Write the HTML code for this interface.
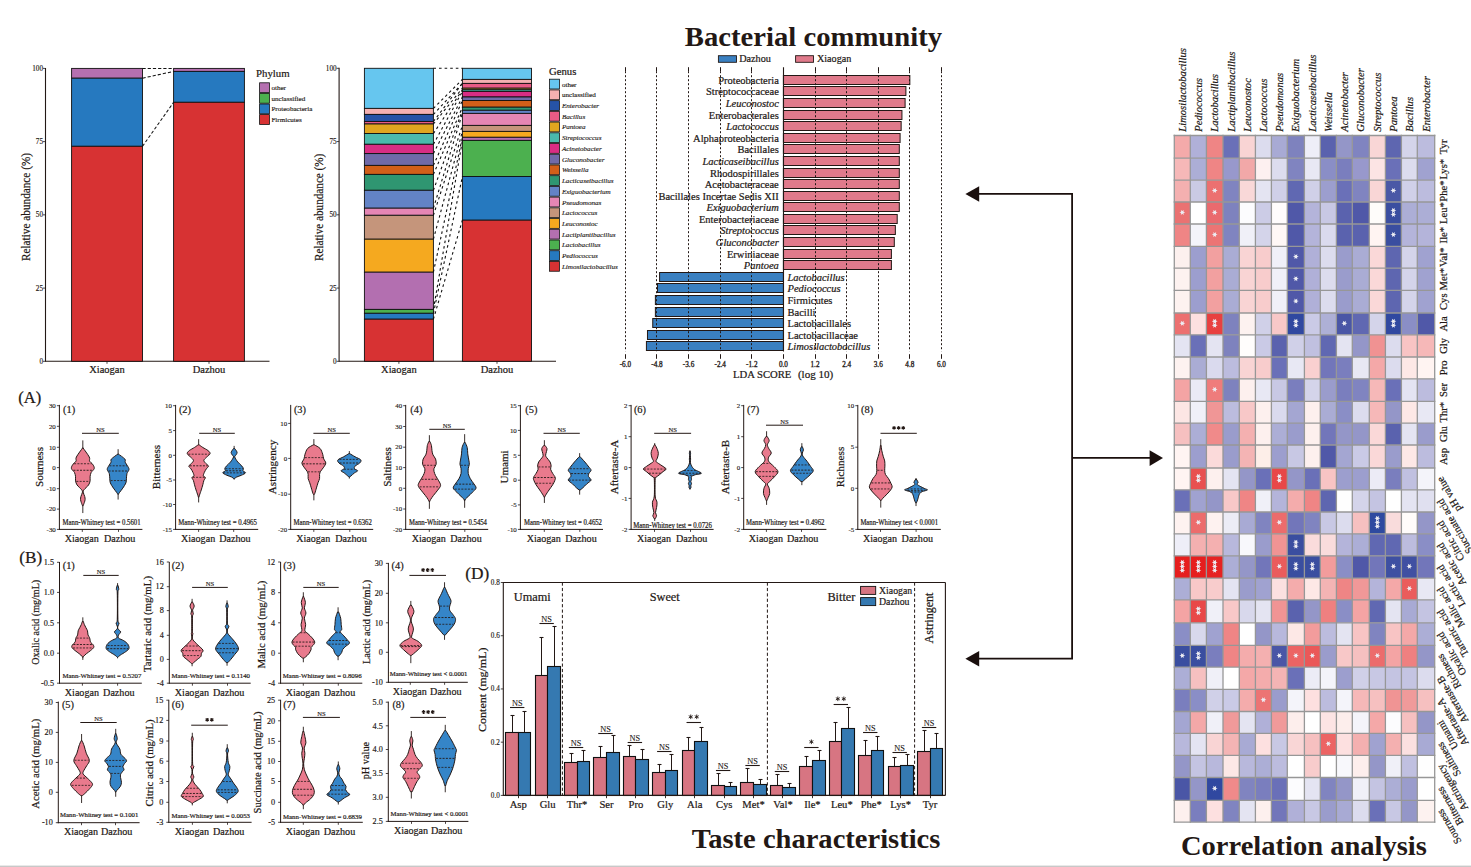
<!DOCTYPE html>
<html><head><meta charset="utf-8"><title>Figure</title>
<style>html,body{margin:0;padding:0;background:#fff;width:1471px;height:867px;overflow:hidden}
svg{display:block} text{font-family:"Liberation Serif",serif}</style></head>
<body><svg width="1471" height="867" viewBox="0 0 1471 867">
<rect x="0" y="0" width="1471" height="867" fill="#ffffff"/>
<rect x="0" y="865.6" width="1471" height="1.4" fill="#c8c8c8"/>
<line x1="45.50" y1="67.90" x2="45.50" y2="361.80" stroke="#231815" stroke-width="1.1"/>
<line x1="45.50" y1="361.30" x2="269.50" y2="361.30" stroke="#231815" stroke-width="1.1"/>
<line x1="43.00" y1="68.40" x2="45.50" y2="68.40" stroke="#231815" stroke-width="0.8"/>
<text x="43.00" y="70.90" font-size="7.2" text-anchor="end" fill="#231815" stroke="#231815" stroke-width="0.14400000000000002">100</text>
<line x1="43.00" y1="141.62" x2="45.50" y2="141.62" stroke="#231815" stroke-width="0.8"/>
<text x="43.00" y="144.12" font-size="7.2" text-anchor="end" fill="#231815" stroke="#231815" stroke-width="0.14400000000000002">75</text>
<line x1="43.00" y1="214.85" x2="45.50" y2="214.85" stroke="#231815" stroke-width="0.8"/>
<text x="43.00" y="217.35" font-size="7.2" text-anchor="end" fill="#231815" stroke="#231815" stroke-width="0.14400000000000002">50</text>
<line x1="43.00" y1="288.08" x2="45.50" y2="288.08" stroke="#231815" stroke-width="0.8"/>
<text x="43.00" y="290.58" font-size="7.2" text-anchor="end" fill="#231815" stroke="#231815" stroke-width="0.14400000000000002">25</text>
<line x1="43.00" y1="361.30" x2="45.50" y2="361.30" stroke="#231815" stroke-width="0.8"/>
<text x="43.00" y="363.80" font-size="7.2" text-anchor="end" fill="#231815" stroke="#231815" stroke-width="0.14400000000000002">0</text>
<text x="30.30" y="207.00" font-size="12.5" text-anchor="middle" transform="rotate(-90 30.30 207.00)" textLength="108.00" lengthAdjust="spacingAndGlyphs" fill="#231815" stroke="#231815" stroke-width="0.22">Relative abundance  (%)</text>
<rect x="71.60" y="68.40" width="70.90" height="9.80" fill="#b570b0" stroke="#111" stroke-width="0.9"/>
<rect x="71.60" y="78.20" width="70.90" height="68.10" fill="#2679bf" stroke="#111" stroke-width="0.9"/>
<rect x="71.60" y="146.30" width="70.90" height="215.00" fill="#d73233" stroke="#111" stroke-width="0.9"/>
<rect x="173.60" y="68.40" width="70.80" height="3.00" fill="#b570b0" stroke="#111" stroke-width="0.9"/>
<rect x="173.60" y="71.40" width="70.80" height="30.90" fill="#2679bf" stroke="#111" stroke-width="0.9"/>
<rect x="173.60" y="102.30" width="70.80" height="259.00" fill="#d73233" stroke="#111" stroke-width="0.9"/>
<line x1="142.50" y1="68.40" x2="173.60" y2="68.40" stroke="#111" stroke-width="1.05" stroke-dasharray="3.2,2"/>
<line x1="142.50" y1="78.20" x2="173.60" y2="71.40" stroke="#111" stroke-width="1.05" stroke-dasharray="3.2,2"/>
<line x1="142.50" y1="146.30" x2="173.60" y2="102.30" stroke="#111" stroke-width="1.05" stroke-dasharray="3.2,2"/>
<line x1="107.00" y1="361.30" x2="107.00" y2="363.80" stroke="#231815" stroke-width="0.8"/>
<text x="107.00" y="372.50" font-size="10.5" text-anchor="middle" fill="#231815" stroke="#231815" stroke-width="0.21">Xiaogan</text>
<line x1="209.00" y1="361.30" x2="209.00" y2="363.80" stroke="#231815" stroke-width="0.8"/>
<text x="209.00" y="372.50" font-size="10.5" text-anchor="middle" fill="#231815" stroke="#231815" stroke-width="0.21">Dazhou</text>
<text x="256.00" y="77.00" font-size="10.8" fill="#231815" stroke="#231815" stroke-width="0.21600000000000003">Phylum</text>
<rect x="259.60" y="82.80" width="9.80" height="9.80" fill="#b570b0" stroke="#111" stroke-width="0.8"/>
<text x="271.40" y="90.10" font-size="7.1" fill="#231815" stroke="#231815" stroke-width="0.142">other</text>
<rect x="259.60" y="93.40" width="9.80" height="9.80" fill="#4cb04f" stroke="#111" stroke-width="0.8"/>
<text x="271.40" y="100.70" font-size="7.1" fill="#231815" stroke="#231815" stroke-width="0.142">unclassified</text>
<rect x="259.60" y="104.00" width="9.80" height="9.80" fill="#2679bf" stroke="#111" stroke-width="0.8"/>
<text x="271.40" y="111.30" font-size="7.1" fill="#231815" stroke="#231815" stroke-width="0.142">Proteobacteria</text>
<rect x="259.60" y="114.60" width="9.80" height="9.80" fill="#d73233" stroke="#111" stroke-width="0.8"/>
<text x="271.40" y="121.90" font-size="7.1" fill="#231815" stroke="#231815" stroke-width="0.142">Firmicutes</text>
<line x1="339.10" y1="67.80" x2="339.10" y2="361.80" stroke="#231815" stroke-width="1.1"/>
<line x1="339.10" y1="361.30" x2="556.00" y2="361.30" stroke="#231815" stroke-width="1.1"/>
<line x1="336.60" y1="68.30" x2="339.10" y2="68.30" stroke="#231815" stroke-width="0.8"/>
<text x="336.60" y="70.80" font-size="7.2" text-anchor="end" fill="#231815" stroke="#231815" stroke-width="0.14400000000000002">100</text>
<line x1="336.60" y1="141.55" x2="339.10" y2="141.55" stroke="#231815" stroke-width="0.8"/>
<text x="336.60" y="144.05" font-size="7.2" text-anchor="end" fill="#231815" stroke="#231815" stroke-width="0.14400000000000002">75</text>
<line x1="336.60" y1="214.80" x2="339.10" y2="214.80" stroke="#231815" stroke-width="0.8"/>
<text x="336.60" y="217.30" font-size="7.2" text-anchor="end" fill="#231815" stroke="#231815" stroke-width="0.14400000000000002">50</text>
<line x1="336.60" y1="288.05" x2="339.10" y2="288.05" stroke="#231815" stroke-width="0.8"/>
<text x="336.60" y="290.55" font-size="7.2" text-anchor="end" fill="#231815" stroke="#231815" stroke-width="0.14400000000000002">25</text>
<line x1="336.60" y1="361.30" x2="339.10" y2="361.30" stroke="#231815" stroke-width="0.8"/>
<text x="336.60" y="363.80" font-size="7.2" text-anchor="end" fill="#231815" stroke="#231815" stroke-width="0.14400000000000002">0</text>
<text x="322.70" y="207.30" font-size="12.5" text-anchor="middle" transform="rotate(-90 322.70 207.30)" textLength="107.30" lengthAdjust="spacingAndGlyphs" fill="#231815" stroke="#231815" stroke-width="0.22">Relative abundance  (%)</text>
<rect x="364.40" y="68.30" width="69.00" height="40.10" fill="#66c6ef" stroke="#111" stroke-width="0.9"/>
<rect x="364.40" y="108.40" width="69.00" height="6.00" fill="#f5b1b1" stroke="#111" stroke-width="0.9"/>
<rect x="364.40" y="114.40" width="69.00" height="7.10" fill="#2653a6" stroke="#111" stroke-width="0.9"/>
<rect x="364.40" y="121.50" width="69.00" height="2.50" fill="#e95b84" stroke="#111" stroke-width="0.9"/>
<rect x="364.40" y="124.00" width="69.00" height="9.50" fill="#e0a61f" stroke="#111" stroke-width="0.9"/>
<rect x="364.40" y="133.50" width="69.00" height="10.80" fill="#4bbaac" stroke="#111" stroke-width="0.9"/>
<rect x="364.40" y="144.30" width="69.00" height="9.30" fill="#d92d84" stroke="#111" stroke-width="0.9"/>
<rect x="364.40" y="153.60" width="69.00" height="11.80" fill="#706aa9" stroke="#111" stroke-width="0.9"/>
<rect x="364.40" y="165.40" width="69.00" height="9.00" fill="#d25f19" stroke="#111" stroke-width="0.9"/>
<rect x="364.40" y="174.40" width="69.00" height="15.90" fill="#2f9671" stroke="#111" stroke-width="0.9"/>
<rect x="364.40" y="190.30" width="69.00" height="17.90" fill="#6383c6" stroke="#111" stroke-width="0.9"/>
<rect x="364.40" y="208.20" width="69.00" height="7.10" fill="#e586b4" stroke="#111" stroke-width="0.9"/>
<rect x="364.40" y="215.30" width="69.00" height="23.90" fill="#c5957b" stroke="#111" stroke-width="0.9"/>
<rect x="364.40" y="239.20" width="69.00" height="33.00" fill="#f5a91f" stroke="#111" stroke-width="0.9"/>
<rect x="364.40" y="272.20" width="69.00" height="37.20" fill="#b36fb0" stroke="#111" stroke-width="0.9"/>
<rect x="364.40" y="309.40" width="69.00" height="3.90" fill="#4cb04f" stroke="#111" stroke-width="0.9"/>
<rect x="364.40" y="313.30" width="69.00" height="5.90" fill="#2679bf" stroke="#111" stroke-width="0.9"/>
<rect x="364.40" y="319.20" width="69.00" height="42.10" fill="#d73233" stroke="#111" stroke-width="0.9"/>
<rect x="462.40" y="68.30" width="69.10" height="11.10" fill="#66c6ef" stroke="#111" stroke-width="0.9"/>
<rect x="462.40" y="79.40" width="69.10" height="4.00" fill="#f5b1b1" stroke="#111" stroke-width="0.9"/>
<rect x="462.40" y="83.40" width="69.10" height="4.80" fill="#e95b84" stroke="#111" stroke-width="0.9"/>
<rect x="462.40" y="88.20" width="69.10" height="1.60" fill="#e0a61f" stroke="#111" stroke-width="0.9"/>
<rect x="462.40" y="89.80" width="69.10" height="1.60" fill="#4bbaac" stroke="#111" stroke-width="0.9"/>
<rect x="462.40" y="91.40" width="69.10" height="5.60" fill="#d92d84" stroke="#111" stroke-width="0.9"/>
<rect x="462.40" y="97.00" width="69.10" height="3.50" fill="#706aa9" stroke="#111" stroke-width="0.9"/>
<rect x="462.40" y="100.50" width="69.10" height="6.70" fill="#d25f19" stroke="#111" stroke-width="0.9"/>
<rect x="462.40" y="107.20" width="69.10" height="3.10" fill="#2f9671" stroke="#111" stroke-width="0.9"/>
<rect x="462.40" y="110.30" width="69.10" height="3.10" fill="#6383c6" stroke="#111" stroke-width="0.9"/>
<rect x="462.40" y="113.40" width="69.10" height="12.00" fill="#e586b4" stroke="#111" stroke-width="0.9"/>
<rect x="462.40" y="125.40" width="69.10" height="6.00" fill="#c5957b" stroke="#111" stroke-width="0.9"/>
<rect x="462.40" y="131.40" width="69.10" height="5.90" fill="#f5a91f" stroke="#111" stroke-width="0.9"/>
<rect x="462.40" y="137.30" width="69.10" height="3.10" fill="#b36fb0" stroke="#111" stroke-width="0.9"/>
<rect x="462.40" y="140.40" width="69.10" height="36.10" fill="#4cb04f" stroke="#111" stroke-width="0.9"/>
<rect x="462.40" y="176.50" width="69.10" height="43.70" fill="#2679bf" stroke="#111" stroke-width="0.9"/>
<rect x="462.40" y="220.20" width="69.10" height="141.10" fill="#d73233" stroke="#111" stroke-width="0.9"/>
<line x1="433.40" y1="68.30" x2="462.40" y2="68.30" stroke="#111" stroke-width="1.1" stroke-dasharray="2.6,3.0"/>
<line x1="433.40" y1="108.40" x2="462.40" y2="79.40" stroke="#111" stroke-width="1.1" stroke-dasharray="2.6,3.0"/>
<line x1="433.40" y1="114.40" x2="462.40" y2="83.40" stroke="#111" stroke-width="1.1" stroke-dasharray="2.6,3.0"/>
<line x1="433.40" y1="121.50" x2="462.40" y2="83.40" stroke="#111" stroke-width="1.1" stroke-dasharray="2.6,3.0"/>
<line x1="433.40" y1="124.00" x2="462.40" y2="88.20" stroke="#111" stroke-width="1.1" stroke-dasharray="2.6,3.0"/>
<line x1="433.40" y1="133.50" x2="462.40" y2="89.80" stroke="#111" stroke-width="1.1" stroke-dasharray="2.6,3.0"/>
<line x1="433.40" y1="144.30" x2="462.40" y2="91.40" stroke="#111" stroke-width="1.1" stroke-dasharray="2.6,3.0"/>
<line x1="433.40" y1="153.60" x2="462.40" y2="97.00" stroke="#111" stroke-width="1.1" stroke-dasharray="2.6,3.0"/>
<line x1="433.40" y1="165.40" x2="462.40" y2="100.50" stroke="#111" stroke-width="1.1" stroke-dasharray="2.6,3.0"/>
<line x1="433.40" y1="174.40" x2="462.40" y2="107.20" stroke="#111" stroke-width="1.1" stroke-dasharray="2.6,3.0"/>
<line x1="433.40" y1="190.30" x2="462.40" y2="110.30" stroke="#111" stroke-width="1.1" stroke-dasharray="2.6,3.0"/>
<line x1="433.40" y1="208.20" x2="462.40" y2="113.40" stroke="#111" stroke-width="1.1" stroke-dasharray="2.6,3.0"/>
<line x1="433.40" y1="215.30" x2="462.40" y2="125.40" stroke="#111" stroke-width="1.1" stroke-dasharray="2.6,3.0"/>
<line x1="433.40" y1="239.20" x2="462.40" y2="131.40" stroke="#111" stroke-width="1.1" stroke-dasharray="2.6,3.0"/>
<line x1="433.40" y1="272.20" x2="462.40" y2="137.30" stroke="#111" stroke-width="1.1" stroke-dasharray="2.6,3.0"/>
<line x1="433.40" y1="309.40" x2="462.40" y2="140.40" stroke="#111" stroke-width="1.1" stroke-dasharray="2.6,3.0"/>
<line x1="433.40" y1="313.30" x2="462.40" y2="176.50" stroke="#111" stroke-width="1.1" stroke-dasharray="2.6,3.0"/>
<line x1="433.40" y1="319.20" x2="462.40" y2="220.20" stroke="#111" stroke-width="1.1" stroke-dasharray="2.6,3.0"/>
<line x1="398.90" y1="361.30" x2="398.90" y2="363.80" stroke="#231815" stroke-width="0.8"/>
<text x="398.90" y="372.50" font-size="10.5" text-anchor="middle" fill="#231815" stroke="#231815" stroke-width="0.21">Xiaogan</text>
<line x1="497.00" y1="361.30" x2="497.00" y2="363.80" stroke="#231815" stroke-width="0.8"/>
<text x="497.00" y="372.50" font-size="10.5" text-anchor="middle" fill="#231815" stroke="#231815" stroke-width="0.21">Dazhou</text>
<text x="549.00" y="74.60" font-size="10.7" fill="#231815" stroke="#231815" stroke-width="0.214">Genus</text>
<rect x="549.60" y="79.20" width="9.80" height="9.80" fill="#66c6ef" stroke="#111" stroke-width="0.8"/>
<text x="561.90" y="86.60" font-size="7.1" fill="#231815" stroke="#231815" stroke-width="0.142">other</text>
<rect x="549.60" y="89.92" width="9.80" height="9.80" fill="#f5b1b1" stroke="#111" stroke-width="0.8"/>
<text x="561.90" y="97.32" font-size="7.1" fill="#231815" stroke="#231815" stroke-width="0.142">unclassified</text>
<rect x="549.60" y="100.64" width="9.80" height="9.80" fill="#2653a6" stroke="#111" stroke-width="0.8"/>
<text x="561.90" y="108.04" font-size="7.1" font-style="italic" fill="#231815" stroke="#231815" stroke-width="0.142">Enterobacter</text>
<rect x="549.60" y="111.36" width="9.80" height="9.80" fill="#e95b84" stroke="#111" stroke-width="0.8"/>
<text x="561.90" y="118.76" font-size="7.1" font-style="italic" fill="#231815" stroke="#231815" stroke-width="0.142">Bacillus</text>
<rect x="549.60" y="122.08" width="9.80" height="9.80" fill="#e0a61f" stroke="#111" stroke-width="0.8"/>
<text x="561.90" y="129.48" font-size="7.1" font-style="italic" fill="#231815" stroke="#231815" stroke-width="0.142">Pantoea</text>
<rect x="549.60" y="132.80" width="9.80" height="9.80" fill="#4bbaac" stroke="#111" stroke-width="0.8"/>
<text x="561.90" y="140.20" font-size="7.1" font-style="italic" fill="#231815" stroke="#231815" stroke-width="0.142">Streptococcus</text>
<rect x="549.60" y="143.52" width="9.80" height="9.80" fill="#d92d84" stroke="#111" stroke-width="0.8"/>
<text x="561.90" y="150.92" font-size="7.1" font-style="italic" fill="#231815" stroke="#231815" stroke-width="0.142">Acinetobacter</text>
<rect x="549.60" y="154.24" width="9.80" height="9.80" fill="#706aa9" stroke="#111" stroke-width="0.8"/>
<text x="561.90" y="161.64" font-size="7.1" font-style="italic" fill="#231815" stroke="#231815" stroke-width="0.142">Gluconobacter</text>
<rect x="549.60" y="164.96" width="9.80" height="9.80" fill="#d25f19" stroke="#111" stroke-width="0.8"/>
<text x="561.90" y="172.36" font-size="7.1" font-style="italic" fill="#231815" stroke="#231815" stroke-width="0.142">Weissella</text>
<rect x="549.60" y="175.68" width="9.80" height="9.80" fill="#2f9671" stroke="#111" stroke-width="0.8"/>
<text x="561.90" y="183.08" font-size="7.1" font-style="italic" fill="#231815" stroke="#231815" stroke-width="0.142">Lacticaseibacillus</text>
<rect x="549.60" y="186.40" width="9.80" height="9.80" fill="#6383c6" stroke="#111" stroke-width="0.8"/>
<text x="561.90" y="193.80" font-size="7.1" font-style="italic" fill="#231815" stroke="#231815" stroke-width="0.142">Exiguobacterium</text>
<rect x="549.60" y="197.12" width="9.80" height="9.80" fill="#e586b4" stroke="#111" stroke-width="0.8"/>
<text x="561.90" y="204.52" font-size="7.1" font-style="italic" fill="#231815" stroke="#231815" stroke-width="0.142">Pseudomonas</text>
<rect x="549.60" y="207.84" width="9.80" height="9.80" fill="#c5957b" stroke="#111" stroke-width="0.8"/>
<text x="561.90" y="215.24" font-size="7.1" font-style="italic" fill="#231815" stroke="#231815" stroke-width="0.142">Lactococcus</text>
<rect x="549.60" y="218.56" width="9.80" height="9.80" fill="#f5a91f" stroke="#111" stroke-width="0.8"/>
<text x="561.90" y="225.96" font-size="7.1" font-style="italic" fill="#231815" stroke="#231815" stroke-width="0.142">Leuconostoc</text>
<rect x="549.60" y="229.28" width="9.80" height="9.80" fill="#b36fb0" stroke="#111" stroke-width="0.8"/>
<text x="561.90" y="236.68" font-size="7.1" font-style="italic" fill="#231815" stroke="#231815" stroke-width="0.142">Lactiplantibacillus</text>
<rect x="549.60" y="240.00" width="9.80" height="9.80" fill="#4cb04f" stroke="#111" stroke-width="0.8"/>
<text x="561.90" y="247.40" font-size="7.1" font-style="italic" fill="#231815" stroke="#231815" stroke-width="0.142">Lactobacillus</text>
<rect x="549.60" y="250.72" width="9.80" height="9.80" fill="#2679bf" stroke="#111" stroke-width="0.8"/>
<text x="561.90" y="258.12" font-size="7.1" font-style="italic" fill="#231815" stroke="#231815" stroke-width="0.142">Pediococcus</text>
<rect x="549.60" y="261.44" width="9.80" height="9.80" fill="#d73233" stroke="#111" stroke-width="0.8"/>
<text x="561.90" y="268.84" font-size="7.1" font-style="italic" fill="#231815" stroke="#231815" stroke-width="0.142">Limosilactobacillus</text>
<text x="625.35" y="366.70" font-size="7.2" text-anchor="middle" fill="#231815" stroke="#231815" stroke-width="0.3">-6.0</text>
<line x1="625.50" y1="354.20" x2="625.50" y2="358.80" stroke="#231815" stroke-width="1.0"/>
<text x="656.96" y="366.70" font-size="7.2" text-anchor="middle" fill="#231815" stroke="#231815" stroke-width="0.3">-4.8</text>
<line x1="656.50" y1="354.20" x2="656.50" y2="358.80" stroke="#231815" stroke-width="1.0"/>
<text x="688.57" y="366.70" font-size="7.2" text-anchor="middle" fill="#231815" stroke="#231815" stroke-width="0.3">-3.6</text>
<line x1="688.50" y1="354.20" x2="688.50" y2="358.80" stroke="#231815" stroke-width="1.0"/>
<text x="720.18" y="366.70" font-size="7.2" text-anchor="middle" fill="#231815" stroke="#231815" stroke-width="0.3">-2.4</text>
<line x1="720.50" y1="354.20" x2="720.50" y2="358.80" stroke="#231815" stroke-width="1.0"/>
<text x="751.79" y="366.70" font-size="7.2" text-anchor="middle" fill="#231815" stroke="#231815" stroke-width="0.3">-1.2</text>
<line x1="751.50" y1="354.20" x2="751.50" y2="358.80" stroke="#231815" stroke-width="1.0"/>
<text x="783.40" y="366.70" font-size="7.2" text-anchor="middle" fill="#231815" stroke="#231815" stroke-width="0.3">0.0</text>
<line x1="783.50" y1="354.20" x2="783.50" y2="358.80" stroke="#231815" stroke-width="1.0"/>
<text x="815.01" y="366.70" font-size="7.2" text-anchor="middle" fill="#231815" stroke="#231815" stroke-width="0.3">1.2</text>
<line x1="815.50" y1="354.20" x2="815.50" y2="358.80" stroke="#231815" stroke-width="1.0"/>
<text x="846.62" y="366.70" font-size="7.2" text-anchor="middle" fill="#231815" stroke="#231815" stroke-width="0.3">2.4</text>
<line x1="846.50" y1="354.20" x2="846.50" y2="358.80" stroke="#231815" stroke-width="1.0"/>
<text x="878.23" y="366.70" font-size="7.2" text-anchor="middle" fill="#231815" stroke="#231815" stroke-width="0.3">3.6</text>
<line x1="878.50" y1="354.20" x2="878.50" y2="358.80" stroke="#231815" stroke-width="1.0"/>
<text x="909.84" y="366.70" font-size="7.2" text-anchor="middle" fill="#231815" stroke="#231815" stroke-width="0.3">4.8</text>
<line x1="909.50" y1="354.20" x2="909.50" y2="358.80" stroke="#231815" stroke-width="1.0"/>
<text x="941.45" y="366.70" font-size="7.2" text-anchor="middle" fill="#231815" stroke="#231815" stroke-width="0.3">6.0</text>
<line x1="941.50" y1="354.20" x2="941.50" y2="358.80" stroke="#231815" stroke-width="1.0"/>
<text x="733.00" y="378.00" font-size="10.9" textLength="58.30" lengthAdjust="spacingAndGlyphs" fill="#231815" stroke="#231815" stroke-width="0.218">LDA SCORE</text>
<text x="797.90" y="378.00" font-size="10.9" textLength="35.40" lengthAdjust="spacingAndGlyphs" fill="#231815" stroke="#231815" stroke-width="0.218">(log 10)</text>
<rect x="718.40" y="55.70" width="18.10" height="6.60" fill="#3a80c1" stroke="#231815" stroke-width="0.9"/>
<text x="739.20" y="62.20" font-size="10.2" fill="#231815" stroke="#231815" stroke-width="0.204">Dazhou</text>
<rect x="795.60" y="55.70" width="17.90" height="6.60" fill="#e07a8b" stroke="#231815" stroke-width="0.9"/>
<text x="816.90" y="62.20" font-size="10.2" fill="#231815" stroke="#231815" stroke-width="0.204">Xiaogan</text>
<rect x="783.40" y="75.50" width="126.44" height="9.00" fill="#e07a8b" stroke="#231815" stroke-width="1.0"/>
<text x="778.80" y="83.90" font-size="10.5" text-anchor="end" fill="#231815" stroke="#231815" stroke-width="0.21">Proteobacteria</text>
<rect x="783.40" y="86.50" width="122.49" height="9.00" fill="#e07a8b" stroke="#231815" stroke-width="1.0"/>
<text x="778.80" y="94.90" font-size="10.5" text-anchor="end" fill="#231815" stroke="#231815" stroke-width="0.21">Streptococcaceae</text>
<rect x="783.40" y="98.50" width="121.70" height="9.00" fill="#e07a8b" stroke="#231815" stroke-width="1.0"/>
<text x="778.80" y="106.90" font-size="10.5" text-anchor="end" font-style="italic" fill="#231815" stroke="#231815" stroke-width="0.21">Leuconostoc</text>
<rect x="783.40" y="110.50" width="118.54" height="9.00" fill="#e07a8b" stroke="#231815" stroke-width="1.0"/>
<text x="778.80" y="118.90" font-size="10.5" text-anchor="end" fill="#231815" stroke="#231815" stroke-width="0.21">Enterobacterales</text>
<rect x="783.40" y="121.50" width="117.75" height="9.00" fill="#e07a8b" stroke="#231815" stroke-width="1.0"/>
<text x="778.80" y="129.90" font-size="10.5" text-anchor="end" font-style="italic" fill="#231815" stroke="#231815" stroke-width="0.21">Lactococcus</text>
<rect x="783.40" y="133.50" width="116.69" height="9.00" fill="#e07a8b" stroke="#231815" stroke-width="1.0"/>
<text x="778.80" y="141.90" font-size="10.5" text-anchor="end" fill="#231815" stroke="#231815" stroke-width="0.21">Alphaproteobacteria</text>
<rect x="783.40" y="144.50" width="115.90" height="9.00" fill="#e07a8b" stroke="#231815" stroke-width="1.0"/>
<text x="778.80" y="152.90" font-size="10.5" text-anchor="end" fill="#231815" stroke="#231815" stroke-width="0.21">Bacillales</text>
<rect x="783.40" y="156.50" width="115.90" height="9.00" fill="#e07a8b" stroke="#231815" stroke-width="1.0"/>
<text x="778.80" y="164.90" font-size="10.5" text-anchor="end" font-style="italic" fill="#231815" stroke="#231815" stroke-width="0.21">Lacticaseibacillus</text>
<rect x="783.40" y="168.50" width="115.90" height="9.00" fill="#e07a8b" stroke="#231815" stroke-width="1.0"/>
<text x="778.80" y="176.90" font-size="10.5" text-anchor="end" fill="#231815" stroke="#231815" stroke-width="0.21">Rhodospirillales</text>
<rect x="783.40" y="179.50" width="115.90" height="9.00" fill="#e07a8b" stroke="#231815" stroke-width="1.0"/>
<text x="778.80" y="187.90" font-size="10.5" text-anchor="end" fill="#231815" stroke="#231815" stroke-width="0.21">Acetobacteraceae</text>
<rect x="783.40" y="191.50" width="115.90" height="9.00" fill="#e07a8b" stroke="#231815" stroke-width="1.0"/>
<text x="778.80" y="199.90" font-size="10.5" text-anchor="end" fill="#231815" stroke="#231815" stroke-width="0.21">Bacillales Incertae Sedis XII</text>
<rect x="783.40" y="202.50" width="115.90" height="9.00" fill="#e07a8b" stroke="#231815" stroke-width="1.0"/>
<text x="778.80" y="210.90" font-size="10.5" text-anchor="end" font-style="italic" fill="#231815" stroke="#231815" stroke-width="0.21">Exiguobacterium</text>
<rect x="783.40" y="214.50" width="113.80" height="9.00" fill="#e07a8b" stroke="#231815" stroke-width="1.0"/>
<text x="778.80" y="222.90" font-size="10.5" text-anchor="end" fill="#231815" stroke="#231815" stroke-width="0.21">Enterobacteriaceae</text>
<rect x="783.40" y="225.50" width="111.95" height="9.00" fill="#e07a8b" stroke="#231815" stroke-width="1.0"/>
<text x="778.80" y="233.90" font-size="10.5" text-anchor="end" font-style="italic" fill="#231815" stroke="#231815" stroke-width="0.21">Streptococcus</text>
<rect x="783.40" y="237.50" width="110.90" height="9.00" fill="#e07a8b" stroke="#231815" stroke-width="1.0"/>
<text x="778.80" y="245.90" font-size="10.5" text-anchor="end" font-style="italic" fill="#231815" stroke="#231815" stroke-width="0.21">Gluconobacter</text>
<rect x="783.40" y="249.50" width="108.00" height="9.00" fill="#e07a8b" stroke="#231815" stroke-width="1.0"/>
<text x="778.80" y="257.90" font-size="10.5" text-anchor="end" fill="#231815" stroke="#231815" stroke-width="0.21">Erwiniaceae</text>
<rect x="783.40" y="260.50" width="108.00" height="9.00" fill="#e07a8b" stroke="#231815" stroke-width="1.0"/>
<text x="778.80" y="268.90" font-size="10.5" text-anchor="end" font-style="italic" fill="#231815" stroke="#231815" stroke-width="0.21">Pantoea</text>
<rect x="659.59" y="272.50" width="123.81" height="9.00" fill="#3a80c1" stroke="#231815" stroke-width="1.0"/>
<text x="787.50" y="280.90" font-size="10.5" font-style="italic" fill="#231815" stroke="#231815" stroke-width="0.21">Lactobacillus</text>
<rect x="657.49" y="283.50" width="125.91" height="9.00" fill="#3a80c1" stroke="#231815" stroke-width="1.0"/>
<text x="787.50" y="291.90" font-size="10.5" font-style="italic" fill="#231815" stroke="#231815" stroke-width="0.21">Pediococcus</text>
<rect x="655.38" y="295.50" width="128.02" height="9.00" fill="#3a80c1" stroke="#231815" stroke-width="1.0"/>
<text x="787.50" y="303.90" font-size="10.5" fill="#231815" stroke="#231815" stroke-width="0.21">Firmicutes</text>
<rect x="655.38" y="307.50" width="128.02" height="9.00" fill="#3a80c1" stroke="#231815" stroke-width="1.0"/>
<text x="787.50" y="315.90" font-size="10.5" fill="#231815" stroke="#231815" stroke-width="0.21">Bacilli</text>
<rect x="652.75" y="318.50" width="130.65" height="9.00" fill="#3a80c1" stroke="#231815" stroke-width="1.0"/>
<text x="787.50" y="326.90" font-size="10.5" fill="#231815" stroke="#231815" stroke-width="0.21">Lactobacillales</text>
<rect x="647.48" y="330.50" width="135.92" height="9.00" fill="#3a80c1" stroke="#231815" stroke-width="1.0"/>
<text x="787.50" y="338.90" font-size="10.5" fill="#231815" stroke="#231815" stroke-width="0.21">Lactobacillaceae</text>
<rect x="646.42" y="341.50" width="136.98" height="9.00" fill="#3a80c1" stroke="#231815" stroke-width="1.0"/>
<text x="787.50" y="349.90" font-size="10.5" font-style="italic" fill="#231815" stroke="#231815" stroke-width="0.21">Limosilactobacillus</text>
<line x1="625.50" y1="67.20" x2="625.50" y2="71.20" stroke="#231815" stroke-width="1.0"/>
<line x1="625.50" y1="71.20" x2="625.50" y2="351.40" stroke="#231815" stroke-width="1.0" stroke-dasharray="2,2"/>
<line x1="656.50" y1="67.20" x2="656.50" y2="71.20" stroke="#231815" stroke-width="1.0"/>
<line x1="656.50" y1="71.20" x2="656.50" y2="351.40" stroke="#231815" stroke-width="1.0" stroke-dasharray="2,2"/>
<line x1="688.50" y1="67.20" x2="688.50" y2="71.20" stroke="#231815" stroke-width="1.0"/>
<line x1="688.50" y1="71.20" x2="688.50" y2="351.40" stroke="#231815" stroke-width="1.0" stroke-dasharray="2,2"/>
<line x1="720.50" y1="67.20" x2="720.50" y2="71.20" stroke="#231815" stroke-width="1.0"/>
<line x1="720.50" y1="71.20" x2="720.50" y2="351.40" stroke="#231815" stroke-width="1.0" stroke-dasharray="2,2"/>
<line x1="751.50" y1="67.20" x2="751.50" y2="71.20" stroke="#231815" stroke-width="1.0"/>
<line x1="751.50" y1="71.20" x2="751.50" y2="351.40" stroke="#231815" stroke-width="1.0" stroke-dasharray="2,2"/>
<line x1="815.50" y1="67.20" x2="815.50" y2="71.20" stroke="#231815" stroke-width="1.0"/>
<line x1="815.50" y1="71.20" x2="815.50" y2="351.40" stroke="#231815" stroke-width="1.0" stroke-dasharray="2,2"/>
<line x1="846.50" y1="67.20" x2="846.50" y2="71.20" stroke="#231815" stroke-width="1.0"/>
<line x1="846.50" y1="71.20" x2="846.50" y2="351.40" stroke="#231815" stroke-width="1.0" stroke-dasharray="2,2"/>
<line x1="878.50" y1="67.20" x2="878.50" y2="71.20" stroke="#231815" stroke-width="1.0"/>
<line x1="878.50" y1="71.20" x2="878.50" y2="351.40" stroke="#231815" stroke-width="1.0" stroke-dasharray="2,2"/>
<line x1="909.50" y1="67.20" x2="909.50" y2="71.20" stroke="#231815" stroke-width="1.0"/>
<line x1="909.50" y1="71.20" x2="909.50" y2="351.40" stroke="#231815" stroke-width="1.0" stroke-dasharray="2,2"/>
<line x1="941.50" y1="67.20" x2="941.50" y2="71.20" stroke="#231815" stroke-width="1.0"/>
<line x1="941.50" y1="71.20" x2="941.50" y2="351.40" stroke="#231815" stroke-width="1.0" stroke-dasharray="2,2"/>
<line x1="783.50" y1="67.20" x2="783.50" y2="351.40" stroke="#231815" stroke-width="1.1"/>
<text x="684.80" y="45.50" font-size="27.6" font-weight="bold" textLength="257.30" lengthAdjust="spacingAndGlyphs" fill="#231815">Bacterial community</text>
<text x="691.80" y="848.00" font-size="27.5" font-weight="bold" textLength="248.60" lengthAdjust="spacingAndGlyphs" fill="#231815">Taste characteristics</text>
<text x="1181.00" y="854.50" font-size="27.5" font-weight="bold" textLength="245.80" lengthAdjust="spacingAndGlyphs" fill="#231815">Correlation analysis</text>
<path d="M979 193.8 H1072.1 V658.7 H979" fill="none" stroke="#1a0f0d" stroke-width="1.8"/>
<path d="M1072.1 457.9 H1150" fill="none" stroke="#1a0f0d" stroke-width="1.8"/>
<path d="M965.4 194 L979.2 186.3 L979.2 201.8 Z" fill="#1a0f0d"/>
<path d="M965.4 658.8 L979.2 651.1 L979.2 666.6 Z" fill="#1a0f0d"/>
<path d="M1163 458 L1149.6 450.2 L1149.6 465.9 Z" fill="#1a0f0d"/>
<text x="18.30" y="403.40" font-size="16.3" textLength="23.00" lengthAdjust="spacingAndGlyphs" fill="#231815" stroke="#231815" stroke-width="0.22">(A)</text>
<text x="19.30" y="563.40" font-size="16.3" textLength="22.90" lengthAdjust="spacingAndGlyphs" fill="#231815" stroke="#231815" stroke-width="0.22">(B)</text>
<line x1="59.40" y1="404.90" x2="59.40" y2="529.90" stroke="#231815" stroke-width="1.0"/>
<line x1="58.90" y1="529.40" x2="142.40" y2="529.40" stroke="#231815" stroke-width="1.0"/>
<line x1="56.90" y1="405.70" x2="59.40" y2="405.70" stroke="#231815" stroke-width="0.8"/>
<text x="55.80" y="407.98" font-size="6.9" text-anchor="end" fill="#231815" stroke="#231815" stroke-width="0.138">30</text>
<line x1="56.90" y1="426.30" x2="59.40" y2="426.30" stroke="#231815" stroke-width="0.8"/>
<text x="55.80" y="428.58" font-size="6.9" text-anchor="end" fill="#231815" stroke="#231815" stroke-width="0.138">20</text>
<line x1="56.90" y1="447.30" x2="59.40" y2="447.30" stroke="#231815" stroke-width="0.8"/>
<text x="55.80" y="449.58" font-size="6.9" text-anchor="end" fill="#231815" stroke="#231815" stroke-width="0.138">10</text>
<line x1="56.90" y1="467.60" x2="59.40" y2="467.60" stroke="#231815" stroke-width="0.8"/>
<text x="55.80" y="469.88" font-size="6.9" text-anchor="end" fill="#231815" stroke="#231815" stroke-width="0.138">0</text>
<line x1="56.90" y1="488.70" x2="59.40" y2="488.70" stroke="#231815" stroke-width="0.8"/>
<text x="55.80" y="490.98" font-size="6.9" text-anchor="end" fill="#231815" stroke="#231815" stroke-width="0.138">-10</text>
<line x1="56.90" y1="509.10" x2="59.40" y2="509.10" stroke="#231815" stroke-width="0.8"/>
<text x="55.80" y="511.38" font-size="6.9" text-anchor="end" fill="#231815" stroke="#231815" stroke-width="0.138">-20</text>
<line x1="56.90" y1="529.40" x2="59.40" y2="529.40" stroke="#231815" stroke-width="0.8"/>
<text x="55.80" y="531.68" font-size="6.9" text-anchor="end" fill="#231815" stroke="#231815" stroke-width="0.138">-30</text>
<line x1="82.30" y1="529.40" x2="82.30" y2="531.90" stroke="#231815" stroke-width="0.8"/>
<line x1="118.50" y1="529.40" x2="118.50" y2="531.90" stroke="#231815" stroke-width="0.8"/>
<text x="63.10" y="412.70" font-size="10.4" fill="#231815" stroke="#231815" stroke-width="0.20800000000000002">(1)</text>
<line x1="82.00" y1="433.30" x2="118.80" y2="433.30" stroke="#231815" stroke-width="1.0"/>
<text x="100.40" y="431.90" font-size="6.6" text-anchor="middle" fill="#231815" stroke="#231815" stroke-width="0.132">NS</text>
<text x="62.60" y="525.20" font-size="7.4" textLength="78.00" lengthAdjust="spacingAndGlyphs" fill="#231815" stroke="#231815" stroke-width="0.2">Mann-Whitney test = 0.5601</text>
<text x="81.80" y="542.40" font-size="10.1" text-anchor="middle" fill="#231815" stroke="#231815" stroke-width="0.20199999999999999">Xiaogan</text>
<text x="119.70" y="542.40" font-size="10.1" text-anchor="middle" fill="#231815" stroke="#231815" stroke-width="0.20199999999999999">Dazhou</text>
<text x="42.50" y="467.00" font-size="11" text-anchor="middle" transform="rotate(-90 42.50 467.00)" textLength="40.00" lengthAdjust="spacingAndGlyphs" fill="#231815" stroke="#231815" stroke-width="0.22">Sourness</text>
<line x1="82.82" y1="440.38" x2="82.82" y2="513.05" stroke="#231815" stroke-width="0.9"/>
<path d="M82.82 447.65 C83.89 449.20 88.13 454.74 89.26 456.99 C90.38 459.24 89.00 459.93 89.57 461.14 C90.14 462.35 91.90 463.05 92.68 464.26 C93.46 465.47 94.50 467.03 94.24 468.41 C93.98 469.79 91.82 471.18 91.13 472.56 C90.43 473.95 90.26 475.33 90.09 476.71 C89.91 478.10 90.35 479.48 90.09 480.87 C89.83 482.25 89.53 483.55 88.53 485.02 C87.53 486.49 84.95 488.48 84.07 489.69 C83.18 490.90 83.13 491.16 83.24 492.29 C83.34 493.41 84.38 495.23 84.69 496.44 C85.00 497.65 85.17 498.51 85.10 499.55 C85.04 500.59 84.60 501.63 84.27 502.67 C83.95 503.70 83.32 505.26 83.13 505.78 L82.51 505.78 C82.32 505.26 81.70 503.70 81.37 502.67 C81.04 501.63 80.61 500.59 80.54 499.55 C80.47 498.51 80.64 497.65 80.95 496.44 C81.26 495.23 82.30 493.41 82.41 492.29 C82.51 491.16 82.46 490.90 81.58 489.69 C80.69 488.48 78.11 486.49 77.11 485.02 C76.11 483.55 75.81 482.25 75.55 480.87 C75.29 479.48 75.73 478.10 75.55 476.71 C75.38 475.33 75.21 473.95 74.52 472.56 C73.82 471.18 71.66 469.79 71.40 468.41 C71.14 467.03 72.18 465.47 72.96 464.26 C73.74 463.05 75.50 462.35 76.07 461.14 C76.64 459.93 75.26 459.24 76.38 456.99 C77.51 454.74 81.75 449.20 82.82 447.65 Z" fill="#e97a8d" stroke="#231815" stroke-width="1.0" stroke-linejoin="round"/>
<line x1="74.08" y1="463.74" x2="91.56" y2="463.74" stroke="#231815" stroke-width="0.8" stroke-dasharray="2,1.3"/>
<line x1="73.40" y1="470.28" x2="92.24" y2="470.28" stroke="#231815" stroke-width="0.9" stroke-dasharray="2,1.3"/>
<line x1="76.35" y1="481.39" x2="89.29" y2="481.39" stroke="#231815" stroke-width="0.8" stroke-dasharray="2,1.3"/>
<line x1="118.12" y1="449.20" x2="118.12" y2="499.55" stroke="#231815" stroke-width="0.9"/>
<path d="M118.12 453.88 C119.24 454.74 123.69 457.68 124.86 459.07 C126.04 460.45 124.74 461.06 125.18 462.18 C125.61 463.31 126.82 464.60 127.46 465.81 C128.10 467.03 129.10 468.15 129.02 469.45 C128.93 470.75 127.37 472.04 126.94 473.60 C126.51 475.16 126.59 477.23 126.42 478.79 C126.25 480.35 126.51 481.39 125.90 482.94 C125.30 484.50 123.83 486.58 122.79 488.13 C121.75 489.69 120.42 491.25 119.67 492.29 C118.93 493.32 118.55 494.02 118.32 494.36 L117.91 494.36 C117.68 494.02 117.30 493.32 116.56 492.29 C115.82 491.25 114.48 489.69 113.44 488.13 C112.41 486.58 110.94 484.50 110.33 482.94 C109.73 481.39 109.98 480.35 109.81 478.79 C109.64 477.23 109.73 475.16 109.29 473.60 C108.86 472.04 107.30 470.75 107.22 469.45 C107.13 468.15 108.13 467.03 108.77 465.81 C109.41 464.60 110.62 463.31 111.06 462.18 C111.49 461.06 110.19 460.45 111.37 459.07 C112.55 457.68 116.99 454.74 118.12 453.88 Z" fill="#3585c8" stroke="#231815" stroke-width="1.0" stroke-linejoin="round"/>
<line x1="109.37" y1="465.81" x2="126.86" y2="465.81" stroke="#231815" stroke-width="0.8" stroke-dasharray="2,1.3"/>
<line x1="108.59" y1="471.00" x2="127.64" y2="471.00" stroke="#231815" stroke-width="0.9" stroke-dasharray="2,1.3"/>
<line x1="110.63" y1="480.56" x2="125.60" y2="480.56" stroke="#231815" stroke-width="0.8" stroke-dasharray="2,1.3"/>
<line x1="175.60" y1="404.90" x2="175.60" y2="529.90" stroke="#231815" stroke-width="1.0"/>
<line x1="175.10" y1="529.40" x2="258.20" y2="529.40" stroke="#231815" stroke-width="1.0"/>
<line x1="173.10" y1="405.70" x2="175.60" y2="405.70" stroke="#231815" stroke-width="0.8"/>
<text x="172.00" y="407.98" font-size="6.9" text-anchor="end" fill="#231815" stroke="#231815" stroke-width="0.138">10</text>
<line x1="173.10" y1="430.60" x2="175.60" y2="430.60" stroke="#231815" stroke-width="0.8"/>
<text x="172.00" y="432.88" font-size="6.9" text-anchor="end" fill="#231815" stroke="#231815" stroke-width="0.138">5</text>
<line x1="173.10" y1="455.30" x2="175.60" y2="455.30" stroke="#231815" stroke-width="0.8"/>
<text x="172.00" y="457.58" font-size="6.9" text-anchor="end" fill="#231815" stroke="#231815" stroke-width="0.138">0</text>
<line x1="173.10" y1="480.00" x2="175.60" y2="480.00" stroke="#231815" stroke-width="0.8"/>
<text x="172.00" y="482.28" font-size="6.9" text-anchor="end" fill="#231815" stroke="#231815" stroke-width="0.138">-5</text>
<line x1="173.10" y1="504.50" x2="175.60" y2="504.50" stroke="#231815" stroke-width="0.8"/>
<text x="172.00" y="506.78" font-size="6.9" text-anchor="end" fill="#231815" stroke="#231815" stroke-width="0.138">-10</text>
<line x1="173.10" y1="529.40" x2="175.60" y2="529.40" stroke="#231815" stroke-width="0.8"/>
<text x="172.00" y="531.68" font-size="6.9" text-anchor="end" fill="#231815" stroke="#231815" stroke-width="0.138">-15</text>
<line x1="198.60" y1="529.40" x2="198.60" y2="531.90" stroke="#231815" stroke-width="0.8"/>
<line x1="233.70" y1="529.40" x2="233.70" y2="531.90" stroke="#231815" stroke-width="0.8"/>
<text x="178.90" y="412.70" font-size="10.4" fill="#231815" stroke="#231815" stroke-width="0.20800000000000002">(2)</text>
<line x1="199.20" y1="433.30" x2="234.80" y2="433.30" stroke="#231815" stroke-width="1.0"/>
<text x="217.00" y="431.90" font-size="6.6" text-anchor="middle" fill="#231815" stroke="#231815" stroke-width="0.132">NS</text>
<text x="178.30" y="525.20" font-size="7.4" textLength="78.60" lengthAdjust="spacingAndGlyphs" fill="#231815" stroke="#231815" stroke-width="0.2">Mann-Whitney test = 0.4965</text>
<text x="198.10" y="542.40" font-size="10.1" text-anchor="middle" fill="#231815" stroke="#231815" stroke-width="0.20199999999999999">Xiaogan</text>
<text x="234.90" y="542.40" font-size="10.1" text-anchor="middle" fill="#231815" stroke="#231815" stroke-width="0.20199999999999999">Dazhou</text>
<text x="159.70" y="467.00" font-size="11" text-anchor="middle" transform="rotate(-90 159.70 467.00)" textLength="44.30" lengthAdjust="spacingAndGlyphs" fill="#231815" stroke="#231815" stroke-width="0.22">Bitterness</text>
<line x1="198.65" y1="439.15" x2="198.65" y2="502.43" stroke="#231815" stroke-width="0.9"/>
<path d="M199.17 444.85 C199.78 445.29 201.33 446.50 202.80 447.45 C204.27 448.40 206.78 449.52 207.99 450.56 C209.20 451.60 210.32 452.55 210.06 453.67 C209.80 454.80 207.47 456.18 206.43 457.30 C205.39 458.43 203.92 459.38 203.84 460.41 C203.75 461.45 205.13 462.58 205.91 463.53 C206.69 464.48 208.42 465.26 208.51 466.12 C208.59 466.98 207.12 467.68 206.43 468.71 C205.74 469.75 204.88 471.13 204.36 472.34 C203.84 473.55 203.15 475.11 203.32 475.98 C203.49 476.84 205.31 476.75 205.39 477.53 C205.48 478.31 204.27 479.43 203.84 480.64 C203.41 481.85 203.23 483.24 202.80 484.79 C202.37 486.35 201.80 488.25 201.24 489.98 C200.69 491.71 199.86 493.96 199.48 495.17 C199.10 496.38 199.05 496.89 198.96 497.24 L198.34 497.24 C198.25 496.89 198.20 496.38 197.82 495.17 C197.44 493.96 196.61 491.71 196.06 489.98 C195.50 488.25 194.93 486.35 194.50 484.79 C194.07 483.24 193.90 481.85 193.46 480.64 C193.03 479.43 191.82 478.31 191.91 477.53 C192.00 476.75 193.81 476.84 193.98 475.98 C194.16 475.11 193.46 473.55 192.95 472.34 C192.43 471.13 191.56 469.75 190.87 468.71 C190.18 467.68 188.71 466.98 188.80 466.12 C188.88 465.26 190.61 464.48 191.39 463.53 C192.17 462.58 193.55 461.45 193.46 460.41 C193.38 459.38 191.91 458.43 190.87 457.30 C189.83 456.18 187.50 454.80 187.24 453.67 C186.98 452.55 188.11 451.60 189.32 450.56 C190.53 449.52 193.03 448.40 194.50 447.45 C195.97 446.50 197.53 445.29 198.13 444.85 Z" fill="#e97a8d" stroke="#231815" stroke-width="1.0" stroke-linejoin="round"/>
<line x1="188.36" y1="454.19" x2="208.94" y2="454.19" stroke="#231815" stroke-width="0.8" stroke-dasharray="2,1.3"/>
<line x1="189.71" y1="465.81" x2="207.60" y2="465.81" stroke="#231815" stroke-width="0.9" stroke-dasharray="2,1.3"/>
<line x1="192.79" y1="477.32" x2="204.52" y2="477.32" stroke="#231815" stroke-width="0.8" stroke-dasharray="2,1.3"/>
<line x1="234.13" y1="445.89" x2="234.13" y2="479.61" stroke="#231815" stroke-width="0.9"/>
<path d="M234.65 448.49 C235.04 449.09 236.77 451.08 237.03 452.12 C237.29 453.15 236.58 453.90 236.20 454.71 C235.82 455.52 234.49 455.78 234.75 456.99 C235.01 458.20 236.57 460.45 237.76 461.97 C238.95 463.49 240.96 465.00 241.91 466.12 C242.86 467.24 243.29 467.94 243.46 468.71 C243.64 469.49 242.60 470.10 242.95 470.79 C243.29 471.48 245.80 472.12 245.54 472.86 C245.28 473.61 242.86 474.56 241.39 475.25 C239.92 475.94 237.86 476.46 236.72 477.01 C235.58 477.57 234.91 478.31 234.54 478.57 L233.71 478.57 C233.35 478.31 232.68 477.57 231.54 477.01 C230.39 476.46 228.34 475.94 226.87 475.25 C225.40 474.56 222.98 473.61 222.72 472.86 C222.46 472.12 224.97 471.48 225.31 470.79 C225.66 470.10 224.62 469.49 224.79 468.71 C224.97 467.94 225.40 467.24 226.35 466.12 C227.30 465.00 229.30 463.49 230.50 461.97 C231.69 460.45 233.25 458.20 233.51 456.99 C233.77 455.78 232.43 455.52 232.05 454.71 C231.67 453.90 230.96 453.15 231.22 452.12 C231.48 451.08 233.21 449.09 233.61 448.49 Z" fill="#3585c8" stroke="#231815" stroke-width="1.0" stroke-linejoin="round"/>
<line x1="225.39" y1="468.71" x2="242.86" y2="468.71" stroke="#231815" stroke-width="0.8" stroke-dasharray="2,1.3"/>
<line x1="225.91" y1="470.79" x2="242.35" y2="470.79" stroke="#231815" stroke-width="0.9" stroke-dasharray="2,1.3"/>
<line x1="223.32" y1="472.86" x2="244.94" y2="472.86" stroke="#231815" stroke-width="0.8" stroke-dasharray="2,1.3"/>
<line x1="290.70" y1="404.90" x2="290.70" y2="529.90" stroke="#231815" stroke-width="1.0"/>
<line x1="290.20" y1="529.40" x2="373.20" y2="529.40" stroke="#231815" stroke-width="1.0"/>
<line x1="288.20" y1="423.40" x2="290.70" y2="423.40" stroke="#231815" stroke-width="0.8"/>
<text x="287.10" y="425.68" font-size="6.9" text-anchor="end" fill="#231815" stroke="#231815" stroke-width="0.138">10</text>
<line x1="288.20" y1="458.40" x2="290.70" y2="458.40" stroke="#231815" stroke-width="0.8"/>
<text x="287.10" y="460.68" font-size="6.9" text-anchor="end" fill="#231815" stroke="#231815" stroke-width="0.138">0</text>
<line x1="288.20" y1="494.20" x2="290.70" y2="494.20" stroke="#231815" stroke-width="0.8"/>
<text x="287.10" y="496.48" font-size="6.9" text-anchor="end" fill="#231815" stroke="#231815" stroke-width="0.138">-10</text>
<line x1="288.20" y1="529.40" x2="290.70" y2="529.40" stroke="#231815" stroke-width="0.8"/>
<text x="287.10" y="531.68" font-size="6.9" text-anchor="end" fill="#231815" stroke="#231815" stroke-width="0.138">-20</text>
<line x1="313.80" y1="529.40" x2="313.80" y2="531.90" stroke="#231815" stroke-width="0.8"/>
<line x1="349.80" y1="529.40" x2="349.80" y2="531.90" stroke="#231815" stroke-width="0.8"/>
<text x="293.90" y="412.70" font-size="10.4" fill="#231815" stroke="#231815" stroke-width="0.20800000000000002">(3)</text>
<line x1="313.40" y1="433.30" x2="349.80" y2="433.30" stroke="#231815" stroke-width="1.0"/>
<text x="331.60" y="431.90" font-size="6.6" text-anchor="middle" fill="#231815" stroke="#231815" stroke-width="0.132">NS</text>
<text x="293.50" y="525.20" font-size="7.4" textLength="78.40" lengthAdjust="spacingAndGlyphs" fill="#231815" stroke="#231815" stroke-width="0.2">Mann-Whitney test = 0.6362</text>
<text x="313.30" y="542.40" font-size="10.1" text-anchor="middle" fill="#231815" stroke="#231815" stroke-width="0.20199999999999999">Xiaogan</text>
<text x="351.00" y="542.40" font-size="10.1" text-anchor="middle" fill="#231815" stroke="#231815" stroke-width="0.20199999999999999">Dazhou</text>
<text x="276.20" y="467.00" font-size="11" text-anchor="middle" transform="rotate(-90 276.20 467.00)" textLength="54.40" lengthAdjust="spacingAndGlyphs" fill="#231815" stroke="#231815" stroke-width="0.22">Astringency</text>
<line x1="313.86" y1="439.15" x2="313.86" y2="500.35" stroke="#231815" stroke-width="0.9"/>
<path d="M314.38 444.85 C315.33 445.46 318.70 446.93 320.08 448.49 C321.47 450.04 322.07 452.46 322.68 454.19 C323.28 455.92 323.20 457.39 323.71 458.86 C324.23 460.33 325.79 461.63 325.79 463.01 C325.79 464.39 324.58 465.77 323.71 467.16 C322.85 468.54 321.29 470.10 320.60 471.31 C319.91 472.52 319.74 473.21 319.56 474.42 C319.39 475.63 319.82 477.19 319.56 478.57 C319.30 479.95 318.53 481.16 318.01 482.72 C317.49 484.27 316.97 486.18 316.45 487.90 C315.93 489.63 315.28 491.97 314.90 493.09 C314.52 494.22 314.29 494.39 314.17 494.65 L313.55 494.65 C313.43 494.39 313.20 494.22 312.82 493.09 C312.44 491.97 311.78 489.63 311.27 487.90 C310.75 486.18 310.23 484.27 309.71 482.72 C309.19 481.16 308.41 479.95 308.15 478.57 C307.89 477.19 308.33 475.63 308.15 474.42 C307.98 473.21 307.81 472.52 307.12 471.31 C306.42 470.10 304.87 468.54 304.00 467.16 C303.14 465.77 301.93 464.39 301.93 463.01 C301.93 461.63 303.49 460.33 304.00 458.86 C304.52 457.39 304.44 455.92 305.04 454.19 C305.65 452.46 306.25 450.04 307.63 448.49 C309.02 446.93 312.39 445.46 313.34 444.85 Z" fill="#e97a8d" stroke="#231815" stroke-width="1.0" stroke-linejoin="round"/>
<line x1="304.88" y1="457.61" x2="322.84" y2="457.61" stroke="#231815" stroke-width="0.8" stroke-dasharray="2,1.3"/>
<line x1="302.94" y1="463.84" x2="324.77" y2="463.84" stroke="#231815" stroke-width="0.9" stroke-dasharray="2,1.3"/>
<line x1="307.89" y1="471.83" x2="319.83" y2="471.83" stroke="#231815" stroke-width="0.8" stroke-dasharray="2,1.3"/>
<line x1="349.34" y1="451.08" x2="349.34" y2="478.57" stroke="#231815" stroke-width="0.9"/>
<path d="M349.85 453.67 C350.72 454.19 353.23 455.75 355.04 456.78 C356.86 457.82 359.97 458.86 360.75 459.90 C361.52 460.93 360.66 461.97 359.71 463.01 C358.76 464.05 355.91 465.17 355.04 466.12 C354.18 467.07 354.09 467.94 354.52 468.71 C354.96 469.49 357.63 470.10 357.63 470.79 C357.63 471.48 355.65 472.00 354.52 472.86 C353.40 473.73 351.70 475.28 350.89 475.98 C350.08 476.67 349.85 476.84 349.65 477.01 L349.02 477.01 C348.82 476.84 348.59 476.67 347.78 475.98 C346.97 475.28 345.27 473.73 344.15 472.86 C343.03 472.00 341.04 471.48 341.04 470.79 C341.04 470.10 343.72 469.49 344.15 468.71 C344.58 467.94 344.50 467.07 343.63 466.12 C342.77 465.17 339.91 464.05 338.96 463.01 C338.01 461.97 337.15 460.93 337.93 459.90 C338.70 458.86 341.82 457.82 343.63 456.78 C345.45 455.75 347.95 454.19 348.82 453.67 Z" fill="#3585c8" stroke="#231815" stroke-width="1.0" stroke-linejoin="round"/>
<line x1="339.48" y1="459.38" x2="359.20" y2="459.38" stroke="#231815" stroke-width="0.8" stroke-dasharray="2,1.3"/>
<line x1="339.56" y1="463.01" x2="359.11" y2="463.01" stroke="#231815" stroke-width="0.9" stroke-dasharray="2,1.3"/>
<line x1="343.97" y1="469.23" x2="354.70" y2="469.23" stroke="#231815" stroke-width="0.8" stroke-dasharray="2,1.3"/>
<line x1="405.70" y1="404.90" x2="405.70" y2="529.90" stroke="#231815" stroke-width="1.0"/>
<line x1="405.20" y1="529.40" x2="488.20" y2="529.40" stroke="#231815" stroke-width="1.0"/>
<line x1="403.20" y1="405.70" x2="405.70" y2="405.70" stroke="#231815" stroke-width="0.8"/>
<text x="402.10" y="407.98" font-size="6.9" text-anchor="end" fill="#231815" stroke="#231815" stroke-width="0.138">40</text>
<line x1="403.20" y1="426.50" x2="405.70" y2="426.50" stroke="#231815" stroke-width="0.8"/>
<text x="402.10" y="428.78" font-size="6.9" text-anchor="end" fill="#231815" stroke="#231815" stroke-width="0.138">30</text>
<line x1="403.20" y1="447.20" x2="405.70" y2="447.20" stroke="#231815" stroke-width="0.8"/>
<text x="402.10" y="449.48" font-size="6.9" text-anchor="end" fill="#231815" stroke="#231815" stroke-width="0.138">20</text>
<line x1="403.20" y1="467.60" x2="405.70" y2="467.60" stroke="#231815" stroke-width="0.8"/>
<text x="402.10" y="469.88" font-size="6.9" text-anchor="end" fill="#231815" stroke="#231815" stroke-width="0.138">10</text>
<line x1="403.20" y1="488.30" x2="405.70" y2="488.30" stroke="#231815" stroke-width="0.8"/>
<text x="402.10" y="490.58" font-size="6.9" text-anchor="end" fill="#231815" stroke="#231815" stroke-width="0.138">0</text>
<line x1="403.20" y1="509.00" x2="405.70" y2="509.00" stroke="#231815" stroke-width="0.8"/>
<text x="402.10" y="511.28" font-size="6.9" text-anchor="end" fill="#231815" stroke="#231815" stroke-width="0.138">-10</text>
<line x1="403.20" y1="529.40" x2="405.70" y2="529.40" stroke="#231815" stroke-width="0.8"/>
<text x="402.10" y="531.68" font-size="6.9" text-anchor="end" fill="#231815" stroke="#231815" stroke-width="0.138">-20</text>
<line x1="429.30" y1="529.40" x2="429.30" y2="531.90" stroke="#231815" stroke-width="0.8"/>
<line x1="464.80" y1="529.40" x2="464.80" y2="531.90" stroke="#231815" stroke-width="0.8"/>
<text x="410.30" y="412.70" font-size="10.4" fill="#231815" stroke="#231815" stroke-width="0.20800000000000002">(4)</text>
<line x1="429.30" y1="429.30" x2="464.80" y2="429.30" stroke="#231815" stroke-width="1.0"/>
<text x="447.05" y="427.90" font-size="6.6" text-anchor="middle" fill="#231815" stroke="#231815" stroke-width="0.132">NS</text>
<text x="409.00" y="525.20" font-size="7.4" textLength="78.00" lengthAdjust="spacingAndGlyphs" fill="#231815" stroke="#231815" stroke-width="0.2">Mann-Whitney test = 0.5454</text>
<text x="428.80" y="542.40" font-size="10.1" text-anchor="middle" fill="#231815" stroke="#231815" stroke-width="0.20199999999999999">Xiaogan</text>
<text x="466.00" y="542.40" font-size="10.1" text-anchor="middle" fill="#231815" stroke="#231815" stroke-width="0.20199999999999999">Dazhou</text>
<text x="391.20" y="467.00" font-size="11" text-anchor="middle" transform="rotate(-90 391.20 467.00)" textLength="39.70" lengthAdjust="spacingAndGlyphs" fill="#231815" stroke="#231815" stroke-width="0.22">Saltiness</text>
<line x1="429.38" y1="435.19" x2="429.38" y2="508.84" stroke="#231815" stroke-width="0.9"/>
<path d="M429.90 441.41 C430.16 442.10 431.11 444.00 431.45 445.56 C431.80 447.12 431.71 449.19 431.97 450.75 C432.23 452.30 432.40 453.51 433.01 454.90 C433.61 456.28 435.08 457.49 435.60 459.05 C436.12 460.60 436.38 462.68 436.12 464.23 C435.86 465.79 434.39 467.17 434.05 468.38 C433.70 469.59 433.79 470.28 434.05 471.49 C434.30 472.70 434.82 474.09 435.60 475.64 C436.38 477.20 437.88 479.19 438.71 480.83 C439.54 482.47 440.75 483.94 440.58 485.50 C440.41 487.05 438.85 488.52 437.68 490.17 C436.50 491.81 434.70 493.80 433.53 495.35 C432.35 496.91 431.26 498.46 430.62 499.50 C429.98 500.54 429.84 501.23 429.69 501.58 L429.07 501.58 C428.91 501.23 428.77 500.54 428.13 499.50 C427.49 498.46 426.40 496.91 425.23 495.35 C424.05 493.80 422.25 491.81 421.08 490.17 C419.90 488.52 418.35 487.05 418.17 485.50 C418.00 483.94 419.21 482.47 420.04 480.83 C420.87 479.19 422.38 477.20 423.15 475.64 C423.93 474.09 424.45 472.70 424.71 471.49 C424.97 470.28 425.06 469.59 424.71 468.38 C424.36 467.17 422.89 465.79 422.63 464.23 C422.38 462.68 422.63 460.60 423.15 459.05 C423.67 457.49 425.14 456.28 425.75 454.90 C426.35 453.51 426.52 452.30 426.78 450.75 C427.04 449.19 426.96 447.12 427.30 445.56 C427.65 444.00 428.60 442.10 428.86 441.41 Z" fill="#e97a8d" stroke="#231815" stroke-width="1.0" stroke-linejoin="round"/>
<line x1="423.75" y1="465.27" x2="435.00" y2="465.27" stroke="#231815" stroke-width="0.8" stroke-dasharray="2,1.3"/>
<line x1="421.58" y1="479.27" x2="437.18" y2="479.27" stroke="#231815" stroke-width="0.9" stroke-dasharray="2,1.3"/>
<line x1="419.61" y1="486.85" x2="439.14" y2="486.85" stroke="#231815" stroke-width="0.8" stroke-dasharray="2,1.3"/>
<line x1="464.65" y1="434.15" x2="464.65" y2="507.80" stroke="#231815" stroke-width="0.9"/>
<path d="M465.17 442.45 C465.51 443.31 466.81 445.73 467.24 447.63 C467.67 449.54 467.50 451.78 467.76 453.86 C468.02 455.93 468.54 458.35 468.80 460.08 C469.06 461.81 469.40 462.85 469.32 464.23 C469.23 465.62 468.45 466.83 468.28 468.38 C468.11 469.94 467.93 471.84 468.28 473.57 C468.62 475.30 469.40 477.03 470.35 478.76 C471.30 480.48 473.03 482.39 473.98 483.94 C474.93 485.50 476.32 486.71 476.06 488.09 C475.80 489.47 473.72 490.86 472.43 492.24 C471.13 493.62 469.44 495.27 468.28 496.39 C467.12 497.51 466.03 498.29 465.48 498.98 C464.92 499.67 465.04 500.28 464.96 500.54 L464.34 500.54 C464.25 500.28 464.37 499.67 463.82 498.98 C463.26 498.29 462.17 497.51 461.02 496.39 C459.86 495.27 458.16 493.62 456.87 492.24 C455.57 490.86 453.50 489.47 453.24 488.09 C452.98 486.71 454.36 485.50 455.31 483.94 C456.26 482.39 457.99 480.48 458.94 478.76 C459.89 477.03 460.67 475.30 461.02 473.57 C461.36 471.84 461.19 469.94 461.02 468.38 C460.84 466.83 460.07 465.62 459.98 464.23 C459.89 462.85 460.24 461.81 460.50 460.08 C460.76 458.35 461.28 455.93 461.54 453.86 C461.79 451.78 461.62 449.54 462.05 447.63 C462.49 445.73 463.78 443.31 464.13 442.45 Z" fill="#3585c8" stroke="#231815" stroke-width="1.0" stroke-linejoin="round"/>
<line x1="460.84" y1="465.27" x2="468.46" y2="465.27" stroke="#231815" stroke-width="0.8" stroke-dasharray="2,1.3"/>
<line x1="455.81" y1="484.15" x2="473.49" y2="484.15" stroke="#231815" stroke-width="0.9" stroke-dasharray="2,1.3"/>
<line x1="454.74" y1="489.13" x2="474.55" y2="489.13" stroke="#231815" stroke-width="0.8" stroke-dasharray="2,1.3"/>
<line x1="520.40" y1="404.90" x2="520.40" y2="529.90" stroke="#231815" stroke-width="1.0"/>
<line x1="519.90" y1="529.40" x2="603.00" y2="529.40" stroke="#231815" stroke-width="1.0"/>
<line x1="517.90" y1="405.70" x2="520.40" y2="405.70" stroke="#231815" stroke-width="0.8"/>
<text x="516.80" y="407.98" font-size="6.9" text-anchor="end" fill="#231815" stroke="#231815" stroke-width="0.138">15</text>
<line x1="517.90" y1="430.40" x2="520.40" y2="430.40" stroke="#231815" stroke-width="0.8"/>
<text x="516.80" y="432.68" font-size="6.9" text-anchor="end" fill="#231815" stroke="#231815" stroke-width="0.138">10</text>
<line x1="517.90" y1="455.30" x2="520.40" y2="455.30" stroke="#231815" stroke-width="0.8"/>
<text x="516.80" y="457.58" font-size="6.9" text-anchor="end" fill="#231815" stroke="#231815" stroke-width="0.138">5</text>
<line x1="517.90" y1="480.20" x2="520.40" y2="480.20" stroke="#231815" stroke-width="0.8"/>
<text x="516.80" y="482.48" font-size="6.9" text-anchor="end" fill="#231815" stroke="#231815" stroke-width="0.138">0</text>
<line x1="517.90" y1="504.90" x2="520.40" y2="504.90" stroke="#231815" stroke-width="0.8"/>
<text x="516.80" y="507.18" font-size="6.9" text-anchor="end" fill="#231815" stroke="#231815" stroke-width="0.138">-5</text>
<line x1="517.90" y1="529.40" x2="520.40" y2="529.40" stroke="#231815" stroke-width="0.8"/>
<text x="516.80" y="531.68" font-size="6.9" text-anchor="end" fill="#231815" stroke="#231815" stroke-width="0.138">-10</text>
<line x1="544.30" y1="529.40" x2="544.30" y2="531.90" stroke="#231815" stroke-width="0.8"/>
<line x1="579.80" y1="529.40" x2="579.80" y2="531.90" stroke="#231815" stroke-width="0.8"/>
<text x="525.30" y="412.70" font-size="10.4" fill="#231815" stroke="#231815" stroke-width="0.20800000000000002">(5)</text>
<line x1="543.50" y1="433.30" x2="579.80" y2="433.30" stroke="#231815" stroke-width="1.0"/>
<text x="561.65" y="431.90" font-size="6.6" text-anchor="middle" fill="#231815" stroke="#231815" stroke-width="0.132">NS</text>
<text x="524.00" y="525.20" font-size="7.4" textLength="78.00" lengthAdjust="spacingAndGlyphs" fill="#231815" stroke="#231815" stroke-width="0.2">Mann-Whitney test = 0.4652</text>
<text x="543.80" y="542.40" font-size="10.1" text-anchor="middle" fill="#231815" stroke="#231815" stroke-width="0.20199999999999999">Xiaogan</text>
<text x="581.00" y="542.40" font-size="10.1" text-anchor="middle" fill="#231815" stroke="#231815" stroke-width="0.20199999999999999">Dazhou</text>
<text x="508.00" y="467.00" font-size="11" text-anchor="middle" transform="rotate(-90 508.00 467.00)" textLength="33.20" lengthAdjust="spacingAndGlyphs" fill="#231815" stroke="#231815" stroke-width="0.22">Umami</text>
<line x1="544.38" y1="440.19" x2="544.38" y2="502.95" stroke="#231815" stroke-width="0.9"/>
<path d="M544.90 445.37 C545.24 445.89 546.71 447.45 546.97 448.49 C547.23 449.52 546.68 450.47 546.45 451.60 C546.23 452.72 545.62 454.28 545.62 455.23 C545.62 456.18 545.71 456.18 546.45 457.30 C547.20 458.43 549.30 460.50 550.08 461.97 C550.86 463.44 551.03 464.91 551.12 466.12 C551.21 467.33 550.34 468.02 550.60 469.23 C550.86 470.44 551.90 472.00 552.68 473.38 C553.45 474.76 554.92 476.32 555.27 477.53 C555.62 478.74 555.18 479.43 554.75 480.64 C554.32 481.85 553.63 483.24 552.68 484.79 C551.73 486.35 550.22 488.25 549.05 489.98 C547.87 491.71 546.35 493.96 545.62 495.17 C544.90 496.38 544.84 496.89 544.69 497.24 L544.07 497.24 C543.91 496.89 543.86 496.38 543.13 495.17 C542.41 493.96 540.89 491.71 539.71 489.98 C538.53 488.25 537.03 486.35 536.08 484.79 C535.13 483.24 534.44 481.85 534.00 480.64 C533.57 479.43 533.14 478.74 533.49 477.53 C533.83 476.32 535.30 474.76 536.08 473.38 C536.86 472.00 537.89 470.44 538.15 469.23 C538.41 468.02 537.55 467.33 537.63 466.12 C537.72 464.91 537.89 463.44 538.67 461.97 C539.45 460.50 541.56 458.43 542.30 457.30 C543.05 456.18 543.13 456.18 543.13 455.23 C543.13 454.28 542.53 452.72 542.30 451.60 C542.08 450.47 541.52 449.52 541.78 448.49 C542.04 447.45 543.51 445.89 543.86 445.37 Z" fill="#e97a8d" stroke="#231815" stroke-width="1.0" stroke-linejoin="round"/>
<line x1="538.37" y1="466.95" x2="550.38" y2="466.95" stroke="#231815" stroke-width="0.8" stroke-dasharray="2,1.3"/>
<line x1="534.09" y1="477.53" x2="554.67" y2="477.53" stroke="#231815" stroke-width="0.9" stroke-dasharray="2,1.3"/>
<line x1="535.90" y1="483.24" x2="552.85" y2="483.24" stroke="#231815" stroke-width="0.8" stroke-dasharray="2,1.3"/>
<line x1="579.65" y1="453.15" x2="579.65" y2="494.65" stroke="#231815" stroke-width="0.9"/>
<path d="M580.17 456.78 C580.94 457.65 583.36 460.24 584.83 461.97 C586.30 463.70 587.95 465.77 588.98 467.16 C590.02 468.54 591.06 469.23 591.06 470.27 C591.06 471.31 589.42 472.34 588.98 473.38 C588.55 474.42 588.12 475.37 588.46 476.49 C588.81 477.62 591.32 478.91 591.06 480.12 C590.80 481.33 588.29 482.46 586.91 483.76 C585.53 485.05 583.88 486.87 582.76 487.90 C581.64 488.94 580.60 489.63 580.17 489.98 L579.13 489.98 C578.70 489.63 577.66 488.94 576.54 487.90 C575.41 486.87 573.77 485.05 572.39 483.76 C571.00 482.46 568.50 481.33 568.24 480.12 C567.98 478.91 570.48 477.62 570.83 476.49 C571.18 475.37 570.74 474.42 570.31 473.38 C569.88 472.34 568.24 471.31 568.24 470.27 C568.24 469.23 569.27 468.54 570.31 467.16 C571.35 465.77 572.99 463.70 574.46 461.97 C575.93 460.24 578.35 457.65 579.13 456.78 Z" fill="#3585c8" stroke="#231815" stroke-width="1.0" stroke-linejoin="round"/>
<line x1="569.87" y1="468.71" x2="589.42" y2="468.71" stroke="#231815" stroke-width="0.8" stroke-dasharray="2,1.3"/>
<line x1="570.95" y1="473.59" x2="588.35" y2="473.59" stroke="#231815" stroke-width="0.9" stroke-dasharray="2,1.3"/>
<line x1="568.84" y1="480.12" x2="590.46" y2="480.12" stroke="#231815" stroke-width="0.8" stroke-dasharray="2,1.3"/>
<line x1="631.10" y1="404.90" x2="631.10" y2="529.90" stroke="#231815" stroke-width="1.0"/>
<line x1="630.60" y1="529.40" x2="713.60" y2="529.40" stroke="#231815" stroke-width="1.0"/>
<line x1="628.60" y1="405.70" x2="631.10" y2="405.70" stroke="#231815" stroke-width="0.8"/>
<text x="627.50" y="407.98" font-size="6.9" text-anchor="end" fill="#231815" stroke="#231815" stroke-width="0.138">2</text>
<line x1="628.60" y1="436.70" x2="631.10" y2="436.70" stroke="#231815" stroke-width="0.8"/>
<text x="627.50" y="438.98" font-size="6.9" text-anchor="end" fill="#231815" stroke="#231815" stroke-width="0.138">1</text>
<line x1="628.60" y1="467.60" x2="631.10" y2="467.60" stroke="#231815" stroke-width="0.8"/>
<text x="627.50" y="469.88" font-size="6.9" text-anchor="end" fill="#231815" stroke="#231815" stroke-width="0.138">0</text>
<line x1="628.60" y1="498.40" x2="631.10" y2="498.40" stroke="#231815" stroke-width="0.8"/>
<text x="627.50" y="500.68" font-size="6.9" text-anchor="end" fill="#231815" stroke="#231815" stroke-width="0.138">-1</text>
<line x1="628.60" y1="529.40" x2="631.10" y2="529.40" stroke="#231815" stroke-width="0.8"/>
<text x="627.50" y="531.68" font-size="6.9" text-anchor="end" fill="#231815" stroke="#231815" stroke-width="0.138">-2</text>
<line x1="654.50" y1="529.40" x2="654.50" y2="531.90" stroke="#231815" stroke-width="0.8"/>
<line x1="690.50" y1="529.40" x2="690.50" y2="531.90" stroke="#231815" stroke-width="0.8"/>
<text x="633.90" y="412.70" font-size="10.4" fill="#231815" stroke="#231815" stroke-width="0.20800000000000002">(6)</text>
<line x1="654.20" y1="433.30" x2="691.10" y2="433.30" stroke="#231815" stroke-width="1.0"/>
<text x="672.65" y="431.90" font-size="6.6" text-anchor="middle" fill="#231815" stroke="#231815" stroke-width="0.132">NS</text>
<text x="633.30" y="527.90" font-size="7.4" textLength="78.60" lengthAdjust="spacingAndGlyphs" fill="#231815" stroke="#231815" stroke-width="0.2">Mann-Whitney test = 0.0726</text>
<text x="654.00" y="542.40" font-size="10.1" text-anchor="middle" fill="#231815" stroke="#231815" stroke-width="0.20199999999999999">Xiaogan</text>
<text x="691.70" y="542.40" font-size="10.1" text-anchor="middle" fill="#231815" stroke="#231815" stroke-width="0.20199999999999999">Dazhou</text>
<text x="618.40" y="467.00" font-size="11" text-anchor="middle" transform="rotate(-90 618.40 467.00)" textLength="54.40" lengthAdjust="spacingAndGlyphs" fill="#231815" stroke="#231815" stroke-width="0.22">Aftertaste-A</text>
<line x1="654.71" y1="443.11" x2="654.71" y2="520.91" stroke="#231815" stroke-width="0.9"/>
<path d="M655.02 444.67 C655.40 445.45 656.75 447.87 657.30 449.34 C657.86 450.81 658.34 452.02 658.34 453.49 C658.34 454.96 657.70 456.86 657.30 458.15 C656.91 459.45 655.78 460.40 655.95 461.27 C656.13 462.13 657.16 462.48 658.34 463.34 C659.52 464.20 661.71 465.50 663.01 466.45 C664.30 467.40 666.12 468.18 666.12 469.05 C666.12 469.91 664.13 470.69 663.01 471.64 C661.88 472.59 660.55 473.80 659.38 474.75 C658.20 475.70 656.66 476.65 655.95 477.34 C655.25 478.04 655.26 475.79 655.12 478.90 C654.99 482.01 654.81 492.13 655.12 496.02 C655.44 499.91 656.75 500.34 656.99 502.24 C657.23 504.14 656.82 505.70 656.58 507.43 C656.33 509.16 655.54 511.23 655.54 512.61 C655.54 514.00 656.65 514.69 656.58 515.73 C656.51 516.76 655.37 518.32 655.12 518.84 L654.29 518.84 C654.05 518.32 652.91 516.76 652.84 515.73 C652.77 514.69 653.88 514.00 653.88 512.61 C653.88 511.23 653.08 509.16 652.84 507.43 C652.60 505.70 652.19 504.14 652.43 502.24 C652.67 500.34 653.98 499.91 654.29 496.02 C654.61 492.13 654.43 482.01 654.29 478.90 C654.16 475.79 654.17 478.04 653.46 477.34 C652.76 476.65 651.22 475.70 650.04 474.75 C648.87 473.80 647.53 472.59 646.41 471.64 C645.29 470.69 643.30 469.91 643.30 469.05 C643.30 468.18 645.11 467.40 646.41 466.45 C647.71 465.50 649.90 464.20 651.08 463.34 C652.25 462.48 653.29 462.13 653.46 461.27 C653.64 460.40 652.51 459.45 652.12 458.15 C651.72 456.86 651.08 454.96 651.08 453.49 C651.08 452.02 651.56 450.81 652.12 449.34 C652.67 447.87 654.02 445.45 654.40 444.67 Z" fill="#e97a8d" stroke="#231815" stroke-width="1.0" stroke-linejoin="round"/>
<line x1="643.90" y1="469.05" x2="665.52" y2="469.05" stroke="#231815" stroke-width="0.8" stroke-dasharray="2,1.3"/>
<line x1="648.83" y1="473.20" x2="660.59" y2="473.20" stroke="#231815" stroke-width="0.9" stroke-dasharray="2,1.3"/>
<line x1="689.98" y1="450.37" x2="689.98" y2="489.59" stroke="#231815" stroke-width="0.9"/>
<path d="M690.29 451.41 C690.34 451.76 690.60 452.79 690.60 453.49 C690.60 454.18 690.29 454.61 690.29 455.56 C690.29 456.51 690.58 458.07 690.60 459.19 C690.62 460.31 690.24 461.18 690.39 462.30 C690.55 463.43 690.83 464.72 691.54 465.93 C692.24 467.14 693.00 468.35 694.65 469.56 C696.29 470.77 701.30 472.33 701.39 473.20 C701.48 474.06 696.81 474.20 695.17 474.75 C693.52 475.30 692.14 475.74 691.54 476.51 C690.93 477.29 691.66 478.59 691.54 479.42 C691.41 480.25 690.81 480.80 690.81 481.49 C690.81 482.19 691.54 482.88 691.54 483.57 C691.54 484.26 690.90 485.04 690.81 485.64 C690.72 486.25 691.10 486.68 691.02 487.20 C690.93 487.72 690.41 488.50 690.29 488.76 L689.67 488.76 C689.55 488.50 689.03 487.72 688.94 487.20 C688.86 486.68 689.24 486.25 689.15 485.64 C689.06 485.04 688.42 484.26 688.42 483.57 C688.42 482.88 689.15 482.19 689.15 481.49 C689.15 480.80 688.54 480.25 688.42 479.42 C688.30 478.59 689.03 477.29 688.42 476.51 C687.82 475.74 686.43 475.30 684.79 474.75 C683.15 474.20 678.48 474.06 678.57 473.20 C678.65 472.33 683.67 470.77 685.31 469.56 C686.95 468.35 687.71 467.14 688.42 465.93 C689.13 464.72 689.41 463.43 689.56 462.30 C689.72 461.18 689.34 460.31 689.36 459.19 C689.37 458.07 689.67 456.51 689.67 455.56 C689.67 454.61 689.36 454.18 689.36 453.49 C689.36 452.79 689.62 451.76 689.67 451.41 Z" fill="#3585c8" stroke="#231815" stroke-width="1.0" stroke-linejoin="round"/>
<line x1="683.98" y1="470.60" x2="695.97" y2="470.60" stroke="#231815" stroke-width="0.8" stroke-dasharray="2,1.3"/>
<line x1="679.17" y1="473.20" x2="700.79" y2="473.20" stroke="#231815" stroke-width="0.9" stroke-dasharray="2,1.3"/>
<line x1="686.46" y1="475.27" x2="693.50" y2="475.27" stroke="#231815" stroke-width="0.8" stroke-dasharray="2,1.3"/>
<line x1="743.70" y1="404.90" x2="743.70" y2="529.90" stroke="#231815" stroke-width="1.0"/>
<line x1="743.20" y1="529.40" x2="826.40" y2="529.40" stroke="#231815" stroke-width="1.0"/>
<line x1="741.20" y1="405.70" x2="743.70" y2="405.70" stroke="#231815" stroke-width="0.8"/>
<text x="740.10" y="407.98" font-size="6.9" text-anchor="end" fill="#231815" stroke="#231815" stroke-width="0.138">2</text>
<line x1="741.20" y1="436.70" x2="743.70" y2="436.70" stroke="#231815" stroke-width="0.8"/>
<text x="740.10" y="438.98" font-size="6.9" text-anchor="end" fill="#231815" stroke="#231815" stroke-width="0.138">1</text>
<line x1="741.20" y1="467.60" x2="743.70" y2="467.60" stroke="#231815" stroke-width="0.8"/>
<text x="740.10" y="469.88" font-size="6.9" text-anchor="end" fill="#231815" stroke="#231815" stroke-width="0.138">0</text>
<line x1="741.20" y1="498.40" x2="743.70" y2="498.40" stroke="#231815" stroke-width="0.8"/>
<text x="740.10" y="500.68" font-size="6.9" text-anchor="end" fill="#231815" stroke="#231815" stroke-width="0.138">-1</text>
<line x1="741.20" y1="529.40" x2="743.70" y2="529.40" stroke="#231815" stroke-width="0.8"/>
<text x="740.10" y="531.68" font-size="6.9" text-anchor="end" fill="#231815" stroke="#231815" stroke-width="0.138">-2</text>
<line x1="766.40" y1="529.40" x2="766.40" y2="531.90" stroke="#231815" stroke-width="0.8"/>
<line x1="801.50" y1="529.40" x2="801.50" y2="531.90" stroke="#231815" stroke-width="0.8"/>
<text x="747.00" y="412.70" font-size="10.4" fill="#231815" stroke="#231815" stroke-width="0.20800000000000002">(7)</text>
<line x1="766.00" y1="425.20" x2="803.00" y2="425.20" stroke="#231815" stroke-width="1.0"/>
<text x="784.50" y="423.80" font-size="6.6" text-anchor="middle" fill="#231815" stroke="#231815" stroke-width="0.132">NS</text>
<text x="746.00" y="525.20" font-size="7.4" textLength="78.50" lengthAdjust="spacingAndGlyphs" fill="#231815" stroke="#231815" stroke-width="0.2">Mann-Whitney test = 0.4962</text>
<text x="765.90" y="542.40" font-size="10.1" text-anchor="middle" fill="#231815" stroke="#231815" stroke-width="0.20199999999999999">Xiaogan</text>
<text x="802.70" y="542.40" font-size="10.1" text-anchor="middle" fill="#231815" stroke="#231815" stroke-width="0.20199999999999999">Dazhou</text>
<text x="728.80" y="467.00" font-size="11" text-anchor="middle" transform="rotate(-90 728.80 467.00)" textLength="54.40" lengthAdjust="spacingAndGlyphs" fill="#231815" stroke="#231815" stroke-width="0.22">Aftertaste-B</text>
<line x1="766.58" y1="431.22" x2="766.58" y2="504.88" stroke="#231815" stroke-width="0.9"/>
<path d="M767.10 436.41 C767.44 437.10 769.12 439.18 769.17 440.56 C769.22 441.94 767.49 443.41 767.41 444.71 C767.32 446.01 768.01 446.96 768.65 448.34 C769.29 449.72 771.24 451.54 771.24 453.01 C771.24 454.48 769.08 455.77 768.65 457.16 C768.22 458.54 767.79 459.75 768.65 461.31 C769.52 462.86 772.28 464.76 773.84 466.49 C775.39 468.22 777.90 469.95 777.99 471.68 C778.07 473.41 775.74 475.22 774.36 476.87 C772.97 478.51 770.85 480.33 769.69 481.54 C768.53 482.75 767.49 483.00 767.41 484.13 C767.32 485.25 768.79 486.72 769.17 488.28 C769.55 489.83 769.86 491.91 769.69 493.46 C769.52 495.02 768.60 496.40 768.13 497.61 C767.67 498.82 767.10 500.21 766.89 500.73 L766.27 500.73 C766.06 500.21 765.49 498.82 765.02 497.61 C764.55 496.40 763.64 495.02 763.46 493.46 C763.29 491.91 763.60 489.83 763.98 488.28 C764.36 486.72 765.83 485.25 765.75 484.13 C765.66 483.00 764.62 482.75 763.46 481.54 C762.31 480.33 760.18 478.51 758.80 476.87 C757.41 475.22 755.08 473.41 755.17 471.68 C755.25 469.95 757.76 468.22 759.32 466.49 C760.87 464.76 763.64 462.86 764.50 461.31 C765.37 459.75 764.93 458.54 764.50 457.16 C764.07 455.77 761.91 454.48 761.91 453.01 C761.91 451.54 763.86 449.72 764.50 448.34 C765.14 446.96 765.83 446.01 765.75 444.71 C765.66 443.41 763.93 441.94 763.98 440.56 C764.04 439.18 765.71 437.10 766.06 436.41 Z" fill="#e97a8d" stroke="#231815" stroke-width="1.0" stroke-linejoin="round"/>
<line x1="763.03" y1="463.38" x2="770.13" y2="463.38" stroke="#231815" stroke-width="0.8" stroke-dasharray="2,1.3"/>
<line x1="755.77" y1="471.68" x2="777.39" y2="471.68" stroke="#231815" stroke-width="0.9" stroke-dasharray="2,1.3"/>
<line x1="759.03" y1="476.35" x2="774.12" y2="476.35" stroke="#231815" stroke-width="0.8" stroke-dasharray="2,1.3"/>
<line x1="801.85" y1="443.15" x2="801.85" y2="485.17" stroke="#231815" stroke-width="0.9"/>
<path d="M802.37 446.78 C802.54 447.30 803.40 448.86 803.40 449.90 C803.40 450.93 802.45 451.97 802.37 453.01 C802.28 454.05 802.11 454.74 802.88 456.12 C803.66 457.50 805.74 459.58 807.03 461.31 C808.33 463.04 809.63 464.94 810.66 466.49 C811.70 468.05 813.34 469.26 813.26 470.64 C813.17 472.03 811.44 473.41 810.15 474.79 C808.85 476.18 806.72 477.82 805.48 478.94 C804.23 480.07 803.14 481.10 802.68 481.54 L801.02 481.54 C800.55 481.10 799.46 480.07 798.22 478.94 C796.97 477.82 794.84 476.18 793.55 474.79 C792.25 473.41 790.52 472.03 790.44 470.64 C790.35 469.26 791.99 468.05 793.03 466.49 C794.07 464.94 795.36 463.04 796.66 461.31 C797.96 459.58 800.03 457.50 800.81 456.12 C801.59 454.74 801.41 454.05 801.33 453.01 C801.24 451.97 800.29 450.93 800.29 449.90 C800.29 448.86 801.15 447.30 801.33 446.78 Z" fill="#3585c8" stroke="#231815" stroke-width="1.0" stroke-linejoin="round"/>
<line x1="794.72" y1="464.94" x2="808.97" y2="464.94" stroke="#231815" stroke-width="0.8" stroke-dasharray="2,1.3"/>
<line x1="791.36" y1="470.12" x2="812.33" y2="470.12" stroke="#231815" stroke-width="0.9" stroke-dasharray="2,1.3"/>
<line x1="792.98" y1="473.24" x2="810.71" y2="473.24" stroke="#231815" stroke-width="0.8" stroke-dasharray="2,1.3"/>
<line x1="857.80" y1="404.90" x2="857.80" y2="529.90" stroke="#231815" stroke-width="1.0"/>
<line x1="857.30" y1="529.40" x2="940.80" y2="529.40" stroke="#231815" stroke-width="1.0"/>
<line x1="855.30" y1="405.70" x2="857.80" y2="405.70" stroke="#231815" stroke-width="0.8"/>
<text x="854.20" y="407.98" font-size="6.9" text-anchor="end" fill="#231815" stroke="#231815" stroke-width="0.138">10</text>
<line x1="855.30" y1="447.20" x2="857.80" y2="447.20" stroke="#231815" stroke-width="0.8"/>
<text x="854.20" y="449.48" font-size="6.9" text-anchor="end" fill="#231815" stroke="#231815" stroke-width="0.138">5</text>
<line x1="855.30" y1="488.30" x2="857.80" y2="488.30" stroke="#231815" stroke-width="0.8"/>
<text x="854.20" y="490.58" font-size="6.9" text-anchor="end" fill="#231815" stroke="#231815" stroke-width="0.138">0</text>
<line x1="855.30" y1="529.40" x2="857.80" y2="529.40" stroke="#231815" stroke-width="0.8"/>
<text x="854.20" y="531.68" font-size="6.9" text-anchor="end" fill="#231815" stroke="#231815" stroke-width="0.138">-5</text>
<line x1="880.50" y1="529.40" x2="880.50" y2="531.90" stroke="#231815" stroke-width="0.8"/>
<line x1="916.10" y1="529.40" x2="916.10" y2="531.90" stroke="#231815" stroke-width="0.8"/>
<text x="861.10" y="412.70" font-size="10.4" fill="#231815" stroke="#231815" stroke-width="0.20800000000000002">(8)</text>
<line x1="880.50" y1="433.30" x2="916.80" y2="433.30" stroke="#231815" stroke-width="1.0"/>
<path d="M894.05 426.00L894.05 429.80M892.40 426.95L895.70 428.85M895.70 426.95L892.40 428.85" stroke="#231815" stroke-width="1.1" fill="none"/>
<path d="M898.65 426.00L898.65 429.80M897.00 426.95L900.30 428.85M900.30 426.95L897.00 428.85" stroke="#231815" stroke-width="1.1" fill="none"/>
<path d="M903.25 426.00L903.25 429.80M901.60 426.95L904.90 428.85M904.90 426.95L901.60 428.85" stroke="#231815" stroke-width="1.1" fill="none"/>
<text x="860.40" y="525.20" font-size="7.4" textLength="77.60" lengthAdjust="spacingAndGlyphs" fill="#231815" stroke="#231815" stroke-width="0.2">Mann-Whitney test &lt; 0.0001</text>
<text x="880.00" y="542.40" font-size="10.1" text-anchor="middle" fill="#231815" stroke="#231815" stroke-width="0.20199999999999999">Xiaogan</text>
<text x="917.30" y="542.40" font-size="10.1" text-anchor="middle" fill="#231815" stroke="#231815" stroke-width="0.20199999999999999">Dazhou</text>
<text x="843.80" y="467.00" font-size="11" text-anchor="middle" transform="rotate(-90 843.80 467.00)" textLength="40.60" lengthAdjust="spacingAndGlyphs" fill="#231815" stroke="#231815" stroke-width="0.22">Richness</text>
<line x1="880.75" y1="439.15" x2="880.75" y2="507.61" stroke="#231815" stroke-width="0.9"/>
<path d="M881.06 445.37 C881.18 446.24 881.40 448.66 881.78 450.56 C882.16 452.46 882.86 455.06 883.34 456.78 C883.82 458.51 884.43 459.38 884.69 460.93 C884.95 462.49 884.90 464.56 884.90 466.12 C884.90 467.68 884.60 468.89 884.69 470.27 C884.78 471.65 884.78 473.04 885.41 474.42 C886.05 475.80 887.58 477.01 888.53 478.57 C889.48 480.12 890.52 482.37 891.12 483.76 C891.73 485.14 892.24 485.83 892.16 486.87 C892.07 487.90 891.47 488.77 890.60 489.98 C889.74 491.19 888.27 492.75 886.97 494.13 C885.67 495.51 883.77 497.24 882.82 498.28 C881.87 499.32 881.52 500.01 881.27 500.35 L880.23 500.35 C879.97 500.01 879.62 499.32 878.67 498.28 C877.72 497.24 875.82 495.51 874.52 494.13 C873.23 492.75 871.76 491.19 870.89 489.98 C870.03 488.77 869.42 487.90 869.34 486.87 C869.25 485.83 869.77 485.14 870.37 483.76 C870.98 482.37 872.02 480.12 872.97 478.57 C873.92 477.01 875.44 475.80 876.08 474.42 C876.72 473.04 876.72 471.65 876.80 470.27 C876.89 468.89 876.60 467.68 876.60 466.12 C876.60 464.56 876.55 462.49 876.80 460.93 C877.06 459.38 877.67 458.51 878.15 456.78 C878.64 455.06 879.33 452.46 879.71 450.56 C880.09 448.66 880.31 446.24 880.44 445.37 Z" fill="#e97a8d" stroke="#231815" stroke-width="1.0" stroke-linejoin="round"/>
<line x1="877.40" y1="470.27" x2="884.09" y2="470.27" stroke="#231815" stroke-width="0.8" stroke-dasharray="2,1.3"/>
<line x1="871.39" y1="482.93" x2="890.11" y2="482.93" stroke="#231815" stroke-width="0.9" stroke-dasharray="2,1.3"/>
<line x1="870.97" y1="488.94" x2="890.52" y2="488.94" stroke="#231815" stroke-width="0.8" stroke-dasharray="2,1.3"/>
<line x1="916.02" y1="478.05" x2="916.02" y2="506.06" stroke="#231815" stroke-width="0.9"/>
<path d="M916.33 479.09 C916.54 479.43 917.28 480.56 917.57 481.16 C917.87 481.77 918.18 482.20 918.09 482.72 C918.00 483.24 916.71 483.67 917.05 484.27 C917.40 484.88 918.96 485.66 920.17 486.35 C921.38 487.04 923.11 487.82 924.32 488.42 C925.53 489.03 927.77 489.46 927.43 489.98 C927.08 490.50 923.54 490.93 922.24 491.54 C920.94 492.14 920.25 492.83 919.65 493.61 C919.04 494.39 918.87 495.43 918.61 496.20 C918.35 496.98 918.35 497.41 918.09 498.28 C917.83 499.14 917.35 500.61 917.05 501.39 C916.76 502.17 916.45 502.69 916.33 502.95 L915.71 502.95 C915.58 502.69 915.27 502.17 914.98 501.39 C914.69 500.61 914.20 499.14 913.94 498.28 C913.68 497.41 913.68 496.98 913.42 496.20 C913.16 495.43 912.99 494.39 912.39 493.61 C911.78 492.83 911.09 492.14 909.79 491.54 C908.50 490.93 904.95 490.50 904.61 489.98 C904.26 489.46 906.51 489.03 907.72 488.42 C908.93 487.82 910.66 487.04 911.87 486.35 C913.08 485.66 914.63 484.88 914.98 484.27 C915.33 483.67 914.03 483.24 913.94 482.72 C913.86 482.20 914.17 481.77 914.46 481.16 C914.75 480.56 915.50 479.43 915.71 479.09 Z" fill="#3585c8" stroke="#231815" stroke-width="1.0" stroke-linejoin="round"/>
<line x1="907.28" y1="488.94" x2="924.75" y2="488.94" stroke="#231815" stroke-width="0.8" stroke-dasharray="2,1.3"/>
<line x1="907.63" y1="490.71" x2="924.41" y2="490.71" stroke="#231815" stroke-width="0.9" stroke-dasharray="2,1.3"/>
<line x1="911.04" y1="492.05" x2="920.99" y2="492.05" stroke="#231815" stroke-width="0.8" stroke-dasharray="2,1.3"/>
<line x1="59.50" y1="562.00" x2="59.50" y2="683.70" stroke="#231815" stroke-width="1.0"/>
<line x1="59.00" y1="683.20" x2="141.80" y2="683.20" stroke="#231815" stroke-width="1.0"/>
<line x1="57.00" y1="562.30" x2="59.50" y2="562.30" stroke="#231815" stroke-width="0.8"/>
<text x="54.00" y="565.01" font-size="8.2" text-anchor="end" fill="#231815" stroke="#231815" stroke-width="0.16399999999999998">1.5</text>
<line x1="57.00" y1="592.40" x2="59.50" y2="592.40" stroke="#231815" stroke-width="0.8"/>
<text x="54.00" y="595.11" font-size="8.2" text-anchor="end" fill="#231815" stroke="#231815" stroke-width="0.16399999999999998">1.0</text>
<line x1="57.00" y1="622.80" x2="59.50" y2="622.80" stroke="#231815" stroke-width="0.8"/>
<text x="54.00" y="625.51" font-size="8.2" text-anchor="end" fill="#231815" stroke="#231815" stroke-width="0.16399999999999998">0.5</text>
<line x1="57.00" y1="653.20" x2="59.50" y2="653.20" stroke="#231815" stroke-width="0.8"/>
<text x="54.00" y="655.91" font-size="8.2" text-anchor="end" fill="#231815" stroke="#231815" stroke-width="0.16399999999999998">0.0</text>
<line x1="57.00" y1="683.20" x2="59.50" y2="683.20" stroke="#231815" stroke-width="0.8"/>
<text x="54.00" y="685.91" font-size="8.2" text-anchor="end" fill="#231815" stroke="#231815" stroke-width="0.16399999999999998">-0.5</text>
<line x1="82.40" y1="683.20" x2="82.40" y2="685.70" stroke="#231815" stroke-width="0.8"/>
<line x1="117.60" y1="683.20" x2="117.60" y2="685.70" stroke="#231815" stroke-width="0.8"/>
<text x="62.70" y="569.10" font-size="10.4" fill="#231815" stroke="#231815" stroke-width="0.20800000000000002">(1)</text>
<line x1="83.30" y1="575.40" x2="118.70" y2="575.40" stroke="#231815" stroke-width="1.0"/>
<text x="101.00" y="574.00" font-size="6.6" text-anchor="middle" fill="#231815" stroke="#231815" stroke-width="0.132">NS</text>
<text x="62.40" y="678.20" font-size="6.9" textLength="79.00" lengthAdjust="spacingAndGlyphs" fill="#231815" stroke="#231815" stroke-width="0.2">Mann-Whitney test = 0.5207</text>
<text x="81.90" y="695.80" font-size="10.1" text-anchor="middle" fill="#231815" stroke="#231815" stroke-width="0.20199999999999999">Xiaogan</text>
<text x="118.80" y="695.80" font-size="10.1" text-anchor="middle" fill="#231815" stroke="#231815" stroke-width="0.20199999999999999">Dazhou</text>
<text x="38.90" y="622.30" font-size="11" text-anchor="middle" transform="rotate(-90 38.90 622.30)" textLength="85.00" lengthAdjust="spacingAndGlyphs" fill="#231815" stroke="#231815" stroke-width="0.22">Oxalic acid  (mg/mL)</text>
<line x1="82.82" y1="617.34" x2="82.82" y2="659.88" stroke="#231815" stroke-width="0.9"/>
<path d="M83.34 621.49 C83.51 622.01 83.95 623.57 84.38 624.61 C84.81 625.64 85.41 626.68 85.93 627.72 C86.45 628.76 87.14 629.62 87.49 630.83 C87.84 632.04 87.66 633.86 88.01 634.98 C88.35 636.10 89.22 636.71 89.56 637.57 C89.91 638.44 89.91 639.39 90.08 640.17 C90.26 640.94 90.08 641.46 90.60 642.24 C91.12 643.02 92.68 643.97 93.20 644.83 C93.71 645.70 94.15 646.48 93.71 647.43 C93.28 648.38 91.81 649.50 90.60 650.54 C89.39 651.58 87.61 652.70 86.45 653.65 C85.29 654.60 84.20 655.64 83.65 656.24 C83.10 656.85 83.22 657.11 83.13 657.28 L82.51 657.28 C82.42 657.11 82.54 656.85 81.99 656.24 C81.44 655.64 80.35 654.60 79.19 653.65 C78.03 652.70 76.25 651.58 75.04 650.54 C73.83 649.50 72.36 648.38 71.93 647.43 C71.50 646.48 71.93 645.70 72.45 644.83 C72.97 643.97 74.52 643.02 75.04 642.24 C75.56 641.46 75.39 640.94 75.56 640.17 C75.73 639.39 75.73 638.44 76.08 637.57 C76.42 636.71 77.29 636.10 77.63 634.98 C77.98 633.86 77.81 632.04 78.15 630.83 C78.50 629.62 79.19 628.76 79.71 627.72 C80.23 626.68 80.83 625.64 81.27 624.61 C81.70 623.57 82.13 622.01 82.30 621.49 Z" fill="#e97a8d" stroke="#231815" stroke-width="1.0" stroke-linejoin="round"/>
<line x1="76.58" y1="638.09" x2="89.07" y2="638.09" stroke="#231815" stroke-width="0.8" stroke-dasharray="2,1.3"/>
<line x1="73.36" y1="644.52" x2="92.28" y2="644.52" stroke="#231815" stroke-width="0.9" stroke-dasharray="2,1.3"/>
<line x1="73.05" y1="647.95" x2="92.60" y2="647.95" stroke="#231815" stroke-width="0.8" stroke-dasharray="2,1.3"/>
<line x1="117.57" y1="583.11" x2="117.57" y2="658.32" stroke="#231815" stroke-width="0.9"/>
<path d="M117.88 585.19 C118.04 585.88 118.82 588.04 118.82 589.34 C118.82 590.63 118.04 587.95 117.88 592.97 C117.73 597.98 117.68 614.41 117.88 619.42 C118.09 624.43 119.13 621.93 119.13 623.05 C119.13 624.17 118.09 625.21 117.88 626.16 C117.68 627.11 117.42 627.80 117.88 628.76 C118.35 629.71 120.56 630.83 120.68 631.87 C120.81 632.90 118.96 633.94 118.61 634.98 C118.26 636.02 117.75 637.14 118.61 638.09 C119.47 639.04 122.24 639.65 123.80 640.68 C125.35 641.72 127.08 643.02 127.95 644.32 C128.81 645.61 129.33 647.25 128.98 648.46 C128.64 649.67 127.34 650.45 125.87 651.58 C124.40 652.70 121.50 654.26 120.17 655.21 C118.83 656.16 118.26 656.94 117.88 657.28 L117.26 657.28 C116.88 656.94 116.31 656.16 114.98 655.21 C113.65 654.26 110.74 652.70 109.27 651.58 C107.80 650.45 106.51 649.67 106.16 648.46 C105.82 647.25 106.33 645.61 107.20 644.32 C108.06 643.02 109.79 641.72 111.35 640.68 C112.90 639.65 115.67 639.04 116.54 638.09 C117.40 637.14 116.88 636.02 116.54 634.98 C116.19 633.94 114.34 632.90 114.46 631.87 C114.58 630.83 116.79 629.71 117.26 628.76 C117.73 627.80 117.47 627.11 117.26 626.16 C117.05 625.21 116.02 624.17 116.02 623.05 C116.02 621.93 117.05 624.43 117.26 619.42 C117.47 614.41 117.42 597.98 117.26 592.97 C117.11 587.95 116.33 590.63 116.33 589.34 C116.33 588.04 117.11 585.88 117.26 585.19 Z" fill="#3585c8" stroke="#231815" stroke-width="1.0" stroke-linejoin="round"/>
<line x1="107.49" y1="645.56" x2="127.66" y2="645.56" stroke="#231815" stroke-width="0.8" stroke-dasharray="2,1.3"/>
<line x1="106.97" y1="648.67" x2="128.18" y2="648.67" stroke="#231815" stroke-width="0.9" stroke-dasharray="2,1.3"/>
<line x1="169.30" y1="562.00" x2="169.30" y2="683.70" stroke="#231815" stroke-width="1.0"/>
<line x1="168.80" y1="683.20" x2="250.70" y2="683.20" stroke="#231815" stroke-width="1.0"/>
<line x1="166.80" y1="562.00" x2="169.30" y2="562.00" stroke="#231815" stroke-width="0.8"/>
<text x="163.80" y="564.71" font-size="8.2" text-anchor="end" fill="#231815" stroke="#231815" stroke-width="0.16399999999999998">16</text>
<line x1="166.80" y1="586.70" x2="169.30" y2="586.70" stroke="#231815" stroke-width="0.8"/>
<text x="163.80" y="589.41" font-size="8.2" text-anchor="end" fill="#231815" stroke="#231815" stroke-width="0.16399999999999998">12</text>
<line x1="166.80" y1="610.60" x2="169.30" y2="610.60" stroke="#231815" stroke-width="0.8"/>
<text x="163.80" y="613.31" font-size="8.2" text-anchor="end" fill="#231815" stroke="#231815" stroke-width="0.16399999999999998">8</text>
<line x1="166.80" y1="635.30" x2="169.30" y2="635.30" stroke="#231815" stroke-width="0.8"/>
<text x="163.80" y="638.01" font-size="8.2" text-anchor="end" fill="#231815" stroke="#231815" stroke-width="0.16399999999999998">4</text>
<line x1="166.80" y1="659.40" x2="169.30" y2="659.40" stroke="#231815" stroke-width="0.8"/>
<text x="163.80" y="662.11" font-size="8.2" text-anchor="end" fill="#231815" stroke="#231815" stroke-width="0.16399999999999998">0</text>
<line x1="166.80" y1="683.20" x2="169.30" y2="683.20" stroke="#231815" stroke-width="0.8"/>
<text x="163.80" y="685.91" font-size="8.2" text-anchor="end" fill="#231815" stroke="#231815" stroke-width="0.16399999999999998">-4</text>
<line x1="192.40" y1="683.20" x2="192.40" y2="685.70" stroke="#231815" stroke-width="0.8"/>
<line x1="227.50" y1="683.20" x2="227.50" y2="685.70" stroke="#231815" stroke-width="0.8"/>
<text x="171.80" y="569.10" font-size="10.4" fill="#231815" stroke="#231815" stroke-width="0.20800000000000002">(2)</text>
<line x1="192.10" y1="587.40" x2="227.80" y2="587.40" stroke="#231815" stroke-width="1.0"/>
<text x="209.95" y="586.00" font-size="6.6" text-anchor="middle" fill="#231815" stroke="#231815" stroke-width="0.132">NS</text>
<text x="171.50" y="678.20" font-size="6.9" textLength="78.50" lengthAdjust="spacingAndGlyphs" fill="#231815" stroke="#231815" stroke-width="0.2">Mann-Whitney test = 0.1140</text>
<text x="191.90" y="695.80" font-size="10.1" text-anchor="middle" fill="#231815" stroke="#231815" stroke-width="0.20199999999999999">Xiaogan</text>
<text x="228.70" y="695.80" font-size="10.1" text-anchor="middle" fill="#231815" stroke="#231815" stroke-width="0.20199999999999999">Dazhou</text>
<text x="151.20" y="624.00" font-size="11" text-anchor="middle" transform="rotate(-90 151.20 624.00)" textLength="96.00" lengthAdjust="spacingAndGlyphs" fill="#231815" stroke="#231815" stroke-width="0.22">Tartaric acid  (mg/mL)</text>
<line x1="192.10" y1="598.82" x2="192.10" y2="666.24" stroke="#231815" stroke-width="0.9"/>
<path d="M192.41 601.93 C192.70 602.62 194.14 604.70 194.17 606.08 C194.20 607.46 192.75 608.93 192.61 610.23 C192.48 611.52 193.37 612.74 193.34 613.86 C193.31 614.98 192.56 614.03 192.41 616.97 C192.25 619.91 192.32 628.73 192.41 631.49 C192.49 634.26 192.93 632.79 192.93 633.57 C192.93 634.35 192.41 635.12 192.41 636.16 C192.41 637.20 192.03 638.32 192.93 639.79 C193.82 641.26 196.12 643.25 197.80 644.98 C199.48 646.71 202.38 648.78 202.99 650.17 C203.59 651.55 201.78 652.24 201.43 653.28 C201.09 654.32 201.60 655.35 200.91 656.39 C200.22 657.43 198.49 658.46 197.28 659.50 C196.07 660.54 194.46 661.92 193.65 662.61 C192.84 663.31 192.61 663.48 192.41 663.65 L191.78 663.65 C191.58 663.48 191.35 663.31 190.54 662.61 C189.73 661.92 188.12 660.54 186.91 659.50 C185.70 658.46 183.97 657.43 183.28 656.39 C182.59 655.35 183.11 654.32 182.76 653.28 C182.41 652.24 180.60 651.55 181.20 650.17 C181.81 648.78 184.71 646.71 186.39 644.98 C188.07 643.25 190.37 641.26 191.27 639.79 C192.16 638.32 191.78 637.20 191.78 636.16 C191.78 635.12 191.27 634.35 191.27 633.57 C191.27 632.79 191.70 634.26 191.78 631.49 C191.87 628.73 191.94 619.91 191.78 616.97 C191.63 614.03 190.89 614.98 190.85 613.86 C190.82 612.74 191.72 611.52 191.58 610.23 C191.44 608.93 189.99 607.46 190.02 606.08 C190.06 604.70 191.49 602.62 191.78 601.93 Z" fill="#e97a8d" stroke="#231815" stroke-width="1.0" stroke-linejoin="round"/>
<line x1="185.95" y1="646.02" x2="198.24" y2="646.02" stroke="#231815" stroke-width="0.8" stroke-dasharray="2,1.3"/>
<line x1="182.06" y1="650.68" x2="202.13" y2="650.68" stroke="#231815" stroke-width="0.9" stroke-dasharray="2,1.3"/>
<line x1="183.74" y1="655.56" x2="200.45" y2="655.56" stroke="#231815" stroke-width="0.8" stroke-dasharray="2,1.3"/>
<line x1="227.05" y1="600.37" x2="227.05" y2="665.73" stroke="#231815" stroke-width="0.9"/>
<path d="M227.37 602.97 C227.52 603.57 228.30 605.47 228.30 606.60 C228.30 607.72 227.52 606.94 227.37 609.71 C227.21 612.48 227.11 620.43 227.37 623.20 C227.62 625.96 228.92 625.18 228.92 626.31 C228.92 627.43 227.54 628.73 227.37 629.94 C227.19 631.15 227.07 632.10 227.88 633.57 C228.70 635.04 230.82 637.03 232.24 638.76 C233.66 640.48 235.35 642.21 236.39 643.94 C237.43 645.67 238.72 647.40 238.46 649.13 C238.21 650.86 236.13 652.59 234.83 654.32 C233.54 656.04 231.84 658.12 230.68 659.50 C229.53 660.89 228.35 662.10 227.88 662.61 L226.22 662.61 C225.76 662.10 224.58 660.89 223.42 659.50 C222.26 658.12 220.57 656.04 219.27 654.32 C217.98 652.59 215.90 650.86 215.64 649.13 C215.38 647.40 216.68 645.67 217.72 643.94 C218.76 642.21 220.45 640.48 221.87 638.76 C223.28 637.03 225.41 635.04 226.22 633.57 C227.04 632.10 226.92 631.15 226.74 629.94 C226.57 628.73 225.19 627.43 225.19 626.31 C225.19 625.18 226.48 625.96 226.74 623.20 C227.00 620.43 226.90 612.48 226.74 609.71 C226.59 606.94 225.81 607.72 225.81 606.60 C225.81 605.47 226.59 603.57 226.74 602.97 Z" fill="#3585c8" stroke="#231815" stroke-width="1.0" stroke-linejoin="round"/>
<line x1="218.73" y1="643.42" x2="235.38" y2="643.42" stroke="#231815" stroke-width="0.8" stroke-dasharray="2,1.3"/>
<line x1="216.45" y1="648.61" x2="237.66" y2="648.61" stroke="#231815" stroke-width="0.9" stroke-dasharray="2,1.3"/>
<line x1="218.78" y1="652.76" x2="235.32" y2="652.76" stroke="#231815" stroke-width="0.8" stroke-dasharray="2,1.3"/>
<line x1="280.60" y1="562.00" x2="280.60" y2="683.70" stroke="#231815" stroke-width="1.0"/>
<line x1="280.10" y1="683.20" x2="362.30" y2="683.20" stroke="#231815" stroke-width="1.0"/>
<line x1="278.10" y1="562.00" x2="280.60" y2="562.00" stroke="#231815" stroke-width="0.8"/>
<text x="275.10" y="564.71" font-size="8.2" text-anchor="end" fill="#231815" stroke="#231815" stroke-width="0.16399999999999998">12</text>
<line x1="278.10" y1="592.70" x2="280.60" y2="592.70" stroke="#231815" stroke-width="0.8"/>
<text x="275.10" y="595.41" font-size="8.2" text-anchor="end" fill="#231815" stroke="#231815" stroke-width="0.16399999999999998">8</text>
<line x1="278.10" y1="622.80" x2="280.60" y2="622.80" stroke="#231815" stroke-width="0.8"/>
<text x="275.10" y="625.51" font-size="8.2" text-anchor="end" fill="#231815" stroke="#231815" stroke-width="0.16399999999999998">4</text>
<line x1="278.10" y1="653.20" x2="280.60" y2="653.20" stroke="#231815" stroke-width="0.8"/>
<text x="275.10" y="655.91" font-size="8.2" text-anchor="end" fill="#231815" stroke="#231815" stroke-width="0.16399999999999998">0</text>
<line x1="278.10" y1="683.20" x2="280.60" y2="683.20" stroke="#231815" stroke-width="0.8"/>
<text x="275.10" y="685.91" font-size="8.2" text-anchor="end" fill="#231815" stroke="#231815" stroke-width="0.16399999999999998">-4</text>
<line x1="303.30" y1="683.20" x2="303.30" y2="685.70" stroke="#231815" stroke-width="0.8"/>
<line x1="338.30" y1="683.20" x2="338.30" y2="685.70" stroke="#231815" stroke-width="0.8"/>
<text x="283.30" y="569.10" font-size="10.4" fill="#231815" stroke="#231815" stroke-width="0.20800000000000002">(3)</text>
<line x1="303.30" y1="587.40" x2="338.70" y2="587.40" stroke="#231815" stroke-width="1.0"/>
<text x="321.00" y="586.00" font-size="6.6" text-anchor="middle" fill="#231815" stroke="#231815" stroke-width="0.132">NS</text>
<text x="282.80" y="678.20" font-size="6.9" textLength="78.80" lengthAdjust="spacingAndGlyphs" fill="#231815" stroke="#231815" stroke-width="0.2">Mann-Whitney test = 0.8096</text>
<text x="302.80" y="695.80" font-size="10.1" text-anchor="middle" fill="#231815" stroke="#231815" stroke-width="0.20199999999999999">Xiaogan</text>
<text x="339.50" y="695.80" font-size="10.1" text-anchor="middle" fill="#231815" stroke="#231815" stroke-width="0.20199999999999999">Dazhou</text>
<text x="264.80" y="624.60" font-size="11" text-anchor="middle" transform="rotate(-90 264.80 624.60)" textLength="88.00" lengthAdjust="spacingAndGlyphs" fill="#231815" stroke="#231815" stroke-width="0.22">Malic acid  (mg/mL)</text>
<line x1="303.34" y1="592.26" x2="303.34" y2="662.28" stroke="#231815" stroke-width="0.9"/>
<path d="M303.65 596.41 C303.95 597.45 305.29 600.73 305.41 602.63 C305.54 604.54 304.29 606.09 304.38 607.82 C304.46 609.55 305.93 611.28 305.93 613.01 C305.93 614.74 304.43 616.29 304.38 618.20 C304.33 620.10 305.54 622.34 305.62 624.42 C305.71 626.49 304.50 629.09 304.90 630.64 C305.29 632.20 306.80 632.54 308.01 633.76 C309.22 634.97 311.03 636.52 312.16 637.90 C313.28 639.29 314.58 640.84 314.75 642.05 C314.92 643.26 313.80 644.30 313.20 645.17 C312.59 646.03 311.47 646.55 311.12 647.24 C310.77 647.93 311.47 648.28 311.12 649.32 C310.77 650.35 310.00 652.17 309.05 653.46 C308.09 654.76 306.28 656.32 305.41 657.10 C304.55 657.87 304.12 657.96 303.86 658.13 L302.82 658.13 C302.56 657.96 302.13 657.87 301.27 657.10 C300.40 656.32 298.59 654.76 297.63 653.46 C296.68 652.17 295.91 650.35 295.56 649.32 C295.21 648.28 295.91 647.93 295.56 647.24 C295.21 646.55 294.09 646.03 293.49 645.17 C292.88 644.30 291.76 643.26 291.93 642.05 C292.10 640.84 293.40 639.29 294.52 637.90 C295.65 636.52 297.46 634.97 298.67 633.76 C299.88 632.54 301.39 632.20 301.78 630.64 C302.18 629.09 300.97 626.49 301.06 624.42 C301.14 622.34 302.35 620.10 302.30 618.20 C302.25 616.29 300.75 614.74 300.75 613.01 C300.75 611.28 302.22 609.55 302.30 607.82 C302.39 606.09 301.14 604.54 301.27 602.63 C301.39 600.73 302.74 597.45 303.03 596.41 Z" fill="#e97a8d" stroke="#231815" stroke-width="1.0" stroke-linejoin="round"/>
<line x1="300.31" y1="632.72" x2="306.37" y2="632.72" stroke="#231815" stroke-width="0.8" stroke-dasharray="2,1.3"/>
<line x1="292.53" y1="642.05" x2="314.15" y2="642.05" stroke="#231815" stroke-width="0.9" stroke-dasharray="2,1.3"/>
<line x1="295.12" y1="646.20" x2="311.56" y2="646.20" stroke="#231815" stroke-width="0.8" stroke-dasharray="2,1.3"/>
<line x1="338.09" y1="607.30" x2="338.09" y2="660.21" stroke="#231815" stroke-width="0.9"/>
<path d="M338.61 611.97 C338.96 613.01 340.25 616.12 340.68 618.20 C341.12 620.27 341.03 622.52 341.20 624.42 C341.38 626.32 341.89 628.40 341.72 629.61 C341.55 630.82 339.82 630.64 340.17 631.68 C340.51 632.72 342.59 634.45 343.80 635.83 C345.01 637.21 346.48 638.77 347.43 639.98 C348.38 641.19 349.76 642.05 349.50 643.09 C349.24 644.13 347.00 645.17 345.87 646.20 C344.75 647.24 343.45 648.28 342.76 649.32 C342.07 650.35 342.33 651.30 341.72 652.43 C341.12 653.55 339.56 655.45 339.13 656.06 L337.05 656.06 C336.62 655.45 335.07 653.55 334.46 652.43 C333.86 651.30 334.11 650.35 333.42 649.32 C332.73 648.28 331.43 647.24 330.31 646.20 C329.19 645.17 326.94 644.13 326.68 643.09 C326.42 642.05 327.80 641.19 328.76 639.98 C329.71 638.77 331.18 637.21 332.39 635.83 C333.60 634.45 335.67 632.72 336.02 631.68 C336.36 630.64 334.63 630.82 334.46 629.61 C334.29 628.40 334.81 626.32 334.98 624.42 C335.15 622.52 335.07 620.27 335.50 618.20 C335.93 616.12 337.23 613.01 337.57 611.97 Z" fill="#3585c8" stroke="#231815" stroke-width="1.0" stroke-linejoin="round"/>
<line x1="335.71" y1="632.72" x2="340.47" y2="632.72" stroke="#231815" stroke-width="0.8" stroke-dasharray="2,1.3"/>
<line x1="329.01" y1="640.50" x2="347.17" y2="640.50" stroke="#231815" stroke-width="0.9" stroke-dasharray="2,1.3"/>
<line x1="328.49" y1="644.13" x2="347.69" y2="644.13" stroke="#231815" stroke-width="0.8" stroke-dasharray="2,1.3"/>
<line x1="388.40" y1="562.90" x2="388.40" y2="682.80" stroke="#231815" stroke-width="1.0"/>
<line x1="387.90" y1="682.30" x2="467.80" y2="682.30" stroke="#231815" stroke-width="1.0"/>
<line x1="385.90" y1="563.40" x2="388.40" y2="563.40" stroke="#231815" stroke-width="0.8"/>
<text x="382.90" y="566.11" font-size="8.2" text-anchor="end" fill="#231815" stroke="#231815" stroke-width="0.16399999999999998">30</text>
<line x1="385.90" y1="593.30" x2="388.40" y2="593.30" stroke="#231815" stroke-width="0.8"/>
<text x="382.90" y="596.01" font-size="8.2" text-anchor="end" fill="#231815" stroke="#231815" stroke-width="0.16399999999999998">20</text>
<line x1="385.90" y1="622.80" x2="388.40" y2="622.80" stroke="#231815" stroke-width="0.8"/>
<text x="382.90" y="625.51" font-size="8.2" text-anchor="end" fill="#231815" stroke="#231815" stroke-width="0.16399999999999998">10</text>
<line x1="385.90" y1="652.30" x2="388.40" y2="652.30" stroke="#231815" stroke-width="0.8"/>
<text x="382.90" y="655.01" font-size="8.2" text-anchor="end" fill="#231815" stroke="#231815" stroke-width="0.16399999999999998">0</text>
<line x1="385.90" y1="682.30" x2="388.40" y2="682.30" stroke="#231815" stroke-width="0.8"/>
<text x="382.90" y="685.01" font-size="8.2" text-anchor="end" fill="#231815" stroke="#231815" stroke-width="0.16399999999999998">-10</text>
<line x1="410.30" y1="682.30" x2="410.30" y2="684.80" stroke="#231815" stroke-width="0.8"/>
<line x1="444.60" y1="682.30" x2="444.60" y2="684.80" stroke="#231815" stroke-width="0.8"/>
<text x="391.50" y="569.10" font-size="10.4" fill="#231815" stroke="#231815" stroke-width="0.20800000000000002">(4)</text>
<line x1="409.40" y1="575.40" x2="446.00" y2="575.40" stroke="#231815" stroke-width="1.0"/>
<path d="M423.10 568.10L423.10 571.90M421.45 569.05L424.75 570.95M424.75 569.05L421.45 570.95" stroke="#231815" stroke-width="1.1" fill="none"/>
<path d="M427.70 568.10L427.70 571.90M426.05 569.05L429.35 570.95M429.35 569.05L426.05 570.95" stroke="#231815" stroke-width="1.1" fill="none"/>
<path d="M432.30 568.10L432.30 571.90M430.65 569.05L433.95 570.95M433.95 569.05L430.65 570.95" stroke="#231815" stroke-width="1.1" fill="none"/>
<text x="389.70" y="676.40" font-size="6.9" textLength="77.80" lengthAdjust="spacingAndGlyphs" fill="#231815" stroke="#231815" stroke-width="0.2">Mann-Whitney test &lt; 0.0001</text>
<text x="409.80" y="694.90" font-size="10.1" text-anchor="middle" fill="#231815" stroke="#231815" stroke-width="0.20199999999999999">Xiaogan</text>
<text x="445.80" y="694.90" font-size="10.1" text-anchor="middle" fill="#231815" stroke="#231815" stroke-width="0.20199999999999999">Dazhou</text>
<text x="370.30" y="621.90" font-size="11" text-anchor="middle" transform="rotate(-90 370.30 621.90)" textLength="84.00" lengthAdjust="spacingAndGlyphs" fill="#231815" stroke="#231815" stroke-width="0.22">Lactic acid  (mg/mL)</text>
<line x1="410.82" y1="600.93" x2="410.82" y2="663.17" stroke="#231815" stroke-width="0.9"/>
<path d="M411.34 605.08 C411.77 606.12 413.88 609.23 413.93 611.31 C413.99 613.38 412.08 615.80 411.65 617.53 C411.22 619.26 411.05 619.78 411.34 621.68 C411.63 623.58 413.36 626.52 413.41 628.94 C413.47 631.36 411.82 634.65 411.65 636.20 C411.48 637.76 411.31 637.41 412.38 638.28 C413.45 639.14 416.53 640.18 418.08 641.39 C419.64 642.60 421.71 644.16 421.71 645.54 C421.71 646.92 419.47 648.31 418.08 649.69 C416.70 651.07 414.54 652.89 413.41 653.84 C412.29 654.79 411.69 655.13 411.34 655.39 L410.30 655.39 C409.96 655.13 409.35 654.79 408.23 653.84 C407.10 652.89 404.94 651.07 403.56 649.69 C402.18 648.31 399.93 646.92 399.93 645.54 C399.93 644.16 402.00 642.60 403.56 641.39 C405.12 640.18 408.19 639.14 409.27 638.28 C410.34 637.41 410.16 637.76 409.99 636.20 C409.82 634.65 408.18 631.36 408.23 628.94 C408.28 626.52 410.01 623.58 410.30 621.68 C410.60 619.78 410.42 619.26 409.99 617.53 C409.56 615.80 407.66 613.38 407.71 611.31 C407.76 609.23 409.87 606.12 410.30 605.08 Z" fill="#e97a8d" stroke="#231815" stroke-width="1.0" stroke-linejoin="round"/>
<line x1="400.53" y1="645.54" x2="421.11" y2="645.54" stroke="#231815" stroke-width="0.8" stroke-dasharray="2,1.3"/>
<line x1="401.44" y1="646.58" x2="420.21" y2="646.58" stroke="#231815" stroke-width="0.9" stroke-dasharray="2,1.3"/>
<line x1="444.54" y1="582.26" x2="444.54" y2="639.83" stroke="#231815" stroke-width="0.9"/>
<path d="M445.05 587.45 C445.49 588.49 446.70 591.60 447.65 593.67 C448.60 595.75 450.24 598.34 450.76 599.90 C451.28 601.45 450.93 601.97 450.76 603.01 C450.59 604.05 449.89 604.91 449.72 606.12 C449.55 607.33 449.20 608.89 449.72 610.27 C450.24 611.65 451.88 613.04 452.83 614.42 C453.78 615.80 455.08 617.19 455.43 618.57 C455.77 619.95 455.43 621.33 454.91 622.72 C454.39 624.10 453.35 625.48 452.32 626.87 C451.28 628.25 449.72 629.81 448.68 631.02 C447.65 632.23 446.70 633.44 446.09 634.13 C445.49 634.82 445.23 634.99 445.05 635.17 L444.02 635.17 C443.84 634.99 443.58 634.82 442.98 634.13 C442.37 633.44 441.42 632.23 440.39 631.02 C439.35 629.81 437.79 628.25 436.76 626.87 C435.72 625.48 434.68 624.10 434.16 622.72 C433.64 621.33 433.30 619.95 433.64 618.57 C433.99 617.19 435.29 615.80 436.24 614.42 C437.19 613.04 438.83 611.65 439.35 610.27 C439.87 608.89 439.52 607.33 439.35 606.12 C439.18 604.91 438.48 604.05 438.31 603.01 C438.14 601.97 437.79 601.45 438.31 599.90 C438.83 598.34 440.47 595.75 441.42 593.67 C442.37 591.60 443.58 588.49 444.02 587.45 Z" fill="#3585c8" stroke="#231815" stroke-width="1.0" stroke-linejoin="round"/>
<line x1="439.95" y1="606.12" x2="449.12" y2="606.12" stroke="#231815" stroke-width="0.8" stroke-dasharray="2,1.3"/>
<line x1="434.89" y1="617.53" x2="454.18" y2="617.53" stroke="#231815" stroke-width="0.9" stroke-dasharray="2,1.3"/>
<line x1="435.73" y1="624.27" x2="453.34" y2="624.27" stroke="#231815" stroke-width="0.8" stroke-dasharray="2,1.3"/>
<line x1="58.30" y1="701.60" x2="58.30" y2="823.20" stroke="#231815" stroke-width="1.0"/>
<line x1="57.80" y1="822.70" x2="139.60" y2="822.70" stroke="#231815" stroke-width="1.0"/>
<line x1="55.80" y1="702.50" x2="58.30" y2="702.50" stroke="#231815" stroke-width="0.8"/>
<text x="52.80" y="705.21" font-size="8.2" text-anchor="end" fill="#231815" stroke="#231815" stroke-width="0.16399999999999998">30</text>
<line x1="55.80" y1="732.40" x2="58.30" y2="732.40" stroke="#231815" stroke-width="0.8"/>
<text x="52.80" y="735.11" font-size="8.2" text-anchor="end" fill="#231815" stroke="#231815" stroke-width="0.16399999999999998">20</text>
<line x1="55.80" y1="762.40" x2="58.30" y2="762.40" stroke="#231815" stroke-width="0.8"/>
<text x="52.80" y="765.11" font-size="8.2" text-anchor="end" fill="#231815" stroke="#231815" stroke-width="0.16399999999999998">10</text>
<line x1="55.80" y1="792.30" x2="58.30" y2="792.30" stroke="#231815" stroke-width="0.8"/>
<text x="52.80" y="795.01" font-size="8.2" text-anchor="end" fill="#231815" stroke="#231815" stroke-width="0.16399999999999998">0</text>
<line x1="55.80" y1="822.70" x2="58.30" y2="822.70" stroke="#231815" stroke-width="0.8"/>
<text x="52.80" y="825.41" font-size="8.2" text-anchor="end" fill="#231815" stroke="#231815" stroke-width="0.16399999999999998">-10</text>
<line x1="81.50" y1="822.70" x2="81.50" y2="825.20" stroke="#231815" stroke-width="0.8"/>
<line x1="115.50" y1="822.70" x2="115.50" y2="825.20" stroke="#231815" stroke-width="0.8"/>
<text x="61.90" y="707.90" font-size="10.4" fill="#231815" stroke="#231815" stroke-width="0.20800000000000002">(5)</text>
<line x1="80.30" y1="722.50" x2="116.70" y2="722.50" stroke="#231815" stroke-width="1.0"/>
<text x="98.50" y="721.10" font-size="6.6" text-anchor="middle" fill="#231815" stroke="#231815" stroke-width="0.132">NS</text>
<text x="60.10" y="816.60" font-size="6.9" textLength="78.30" lengthAdjust="spacingAndGlyphs" fill="#231815" stroke="#231815" stroke-width="0.2">Mann-Whitney test = 0.1001</text>
<text x="81.00" y="834.50" font-size="10.1" text-anchor="middle" fill="#231815" stroke="#231815" stroke-width="0.20199999999999999">Xiaogan</text>
<text x="116.70" y="834.50" font-size="10.1" text-anchor="middle" fill="#231815" stroke="#231815" stroke-width="0.20199999999999999">Dazhou</text>
<text x="38.90" y="763.70" font-size="11" text-anchor="middle" transform="rotate(-90 38.90 763.70)" textLength="90.00" lengthAdjust="spacingAndGlyphs" fill="#231815" stroke="#231815" stroke-width="0.22">Acetic acid  (mg/mL)</text>
<line x1="81.58" y1="734.00" x2="81.58" y2="802.99" stroke="#231815" stroke-width="0.9"/>
<path d="M82.10 740.75 C82.44 741.61 83.48 743.86 84.17 745.93 C84.86 748.01 85.38 750.77 86.24 753.20 C87.11 755.62 89.27 758.38 89.36 760.46 C89.44 762.53 87.71 763.91 86.76 765.64 C85.81 767.37 84.26 769.45 83.65 770.83 C83.05 772.21 82.53 772.73 83.13 773.94 C83.74 775.15 85.90 776.71 87.28 778.09 C88.67 779.47 90.57 781.12 91.43 782.24 C92.30 783.36 92.73 783.80 92.47 784.83 C92.21 785.87 91.17 787.00 89.88 788.46 C88.58 789.93 85.99 792.44 84.69 793.65 C83.39 794.86 82.53 795.38 82.10 795.73 L81.06 795.73 C80.63 795.38 79.76 794.86 78.46 793.65 C77.17 792.44 74.57 789.93 73.28 788.46 C71.98 787.00 70.94 785.87 70.68 784.83 C70.43 783.80 70.86 783.36 71.72 782.24 C72.59 781.12 74.49 779.47 75.87 778.09 C77.25 776.71 79.42 775.15 80.02 773.94 C80.63 772.73 80.11 772.21 79.50 770.83 C78.90 769.45 77.34 767.37 76.39 765.64 C75.44 763.91 73.71 762.53 73.80 760.46 C73.88 758.38 76.04 755.62 76.91 753.20 C77.77 750.77 78.29 748.01 78.98 745.93 C79.67 743.86 80.71 741.61 81.06 740.75 Z" fill="#e97a8d" stroke="#231815" stroke-width="1.0" stroke-linejoin="round"/>
<line x1="74.49" y1="760.25" x2="88.67" y2="760.25" stroke="#231815" stroke-width="0.8" stroke-dasharray="2,1.3"/>
<line x1="76.47" y1="778.09" x2="86.68" y2="778.09" stroke="#231815" stroke-width="0.9" stroke-dasharray="2,1.3"/>
<line x1="71.66" y1="785.35" x2="91.50" y2="785.35" stroke="#231815" stroke-width="0.8" stroke-dasharray="2,1.3"/>
<line x1="115.71" y1="728.82" x2="115.71" y2="796.76" stroke="#231815" stroke-width="0.9"/>
<path d="M116.02 733.49 C116.22 734.35 117.23 737.12 117.26 738.67 C117.30 740.23 115.79 741.09 116.22 742.82 C116.66 744.55 119.08 747.14 119.85 749.05 C120.63 750.95 120.03 752.68 120.89 754.23 C121.76 755.79 124.09 757.26 125.04 758.38 C125.99 759.51 126.68 760.11 126.60 760.98 C126.51 761.84 125.13 762.62 124.52 763.57 C123.92 764.52 123.05 765.64 122.97 766.68 C122.88 767.72 124.26 768.76 124.00 769.79 C123.74 770.83 122.02 771.87 121.41 772.90 C120.81 773.94 120.37 774.46 120.37 776.02 C120.37 777.57 121.41 780.51 121.41 782.24 C121.41 783.97 121.15 785.01 120.37 786.39 C119.60 787.77 117.47 789.59 116.74 790.54 C116.02 791.49 116.14 791.84 116.02 792.10 L115.39 792.10 C115.27 791.84 115.39 791.49 114.67 790.54 C113.94 789.59 111.82 787.77 111.04 786.39 C110.26 785.01 110.00 783.97 110.00 782.24 C110.00 780.51 111.04 777.57 111.04 776.02 C111.04 774.46 110.61 773.94 110.00 772.90 C109.39 771.87 107.67 770.83 107.41 769.79 C107.15 768.76 108.53 767.72 108.44 766.68 C108.36 765.64 107.49 764.52 106.89 763.57 C106.28 762.62 104.90 761.84 104.81 760.98 C104.73 760.11 105.42 759.51 106.37 758.38 C107.32 757.26 109.65 755.79 110.52 754.23 C111.38 752.68 110.78 750.95 111.56 749.05 C112.33 747.14 114.75 744.55 115.19 742.82 C115.62 741.09 114.11 740.23 114.15 738.67 C114.18 737.12 115.19 734.35 115.39 733.49 Z" fill="#3585c8" stroke="#231815" stroke-width="1.0" stroke-linejoin="round"/>
<line x1="105.72" y1="760.46" x2="125.69" y2="760.46" stroke="#231815" stroke-width="0.8" stroke-dasharray="2,1.3"/>
<line x1="108.89" y1="766.37" x2="122.52" y2="766.37" stroke="#231815" stroke-width="0.9" stroke-dasharray="2,1.3"/>
<line x1="110.77" y1="773.42" x2="120.64" y2="773.42" stroke="#231815" stroke-width="0.8" stroke-dasharray="2,1.3"/>
<line x1="168.80" y1="699.80" x2="168.80" y2="822.80" stroke="#231815" stroke-width="1.0"/>
<line x1="168.30" y1="822.30" x2="251.60" y2="822.30" stroke="#231815" stroke-width="1.0"/>
<line x1="166.30" y1="700.20" x2="168.80" y2="700.20" stroke="#231815" stroke-width="0.8"/>
<text x="163.30" y="702.91" font-size="8.2" text-anchor="end" fill="#231815" stroke="#231815" stroke-width="0.16399999999999998">15</text>
<line x1="166.30" y1="720.40" x2="168.80" y2="720.40" stroke="#231815" stroke-width="0.8"/>
<text x="163.30" y="723.11" font-size="8.2" text-anchor="end" fill="#231815" stroke="#231815" stroke-width="0.16399999999999998">12</text>
<line x1="166.30" y1="741.00" x2="168.80" y2="741.00" stroke="#231815" stroke-width="0.8"/>
<text x="163.30" y="743.71" font-size="8.2" text-anchor="end" fill="#231815" stroke="#231815" stroke-width="0.16399999999999998">9</text>
<line x1="166.30" y1="761.20" x2="168.80" y2="761.20" stroke="#231815" stroke-width="0.8"/>
<text x="163.30" y="763.91" font-size="8.2" text-anchor="end" fill="#231815" stroke="#231815" stroke-width="0.16399999999999998">6</text>
<line x1="166.30" y1="781.50" x2="168.80" y2="781.50" stroke="#231815" stroke-width="0.8"/>
<text x="163.30" y="784.21" font-size="8.2" text-anchor="end" fill="#231815" stroke="#231815" stroke-width="0.16399999999999998">3</text>
<line x1="166.30" y1="802.30" x2="168.80" y2="802.30" stroke="#231815" stroke-width="0.8"/>
<text x="163.30" y="805.01" font-size="8.2" text-anchor="end" fill="#231815" stroke="#231815" stroke-width="0.16399999999999998">0</text>
<line x1="166.30" y1="822.30" x2="168.80" y2="822.30" stroke="#231815" stroke-width="0.8"/>
<text x="163.30" y="825.01" font-size="8.2" text-anchor="end" fill="#231815" stroke="#231815" stroke-width="0.16399999999999998">-3</text>
<line x1="192.40" y1="822.30" x2="192.40" y2="824.80" stroke="#231815" stroke-width="0.8"/>
<line x1="227.50" y1="822.30" x2="227.50" y2="824.80" stroke="#231815" stroke-width="0.8"/>
<text x="171.80" y="707.90" font-size="10.4" fill="#231815" stroke="#231815" stroke-width="0.20800000000000002">(6)</text>
<line x1="191.20" y1="725.20" x2="227.80" y2="725.20" stroke="#231815" stroke-width="1.0"/>
<path d="M207.20 717.90L207.20 721.70M205.55 718.85L208.85 720.75M208.85 718.85L205.55 720.75" stroke="#231815" stroke-width="1.1" fill="none"/>
<path d="M211.80 717.90L211.80 721.70M210.15 718.85L213.45 720.75M213.45 718.85L210.15 720.75" stroke="#231815" stroke-width="1.1" fill="none"/>
<text x="171.50" y="817.80" font-size="6.9" textLength="78.50" lengthAdjust="spacingAndGlyphs" fill="#231815" stroke="#231815" stroke-width="0.2">Mann-Whitney test = 0.0053</text>
<text x="191.90" y="835.10" font-size="10.1" text-anchor="middle" fill="#231815" stroke="#231815" stroke-width="0.20199999999999999">Xiaogan</text>
<text x="228.70" y="835.10" font-size="10.1" text-anchor="middle" fill="#231815" stroke="#231815" stroke-width="0.20199999999999999">Dazhou</text>
<text x="153.00" y="762.90" font-size="11" text-anchor="middle" transform="rotate(-90 153.00 762.90)" textLength="87.00" lengthAdjust="spacingAndGlyphs" fill="#231815" stroke="#231815" stroke-width="0.22">Citric acid  (mg/mL)</text>
<line x1="192.30" y1="732.78" x2="192.30" y2="805.39" stroke="#231815" stroke-width="0.9"/>
<path d="M192.61 736.41 C192.74 736.93 193.34 738.40 193.34 739.52 C193.34 740.65 192.74 739.18 192.61 743.15 C192.49 747.13 192.41 759.49 192.61 763.38 C192.82 767.27 193.86 765.46 193.86 766.49 C193.86 767.53 192.82 768.40 192.61 769.61 C192.41 770.82 192.41 772.54 192.61 773.76 C192.82 774.97 193.82 775.83 193.86 776.87 C193.89 777.90 192.65 778.77 192.82 779.98 C192.99 781.19 193.77 782.57 194.90 784.13 C196.02 785.68 198.35 787.76 199.56 789.32 C200.77 790.87 201.55 792.25 202.16 793.46 C202.76 794.67 203.80 795.54 203.20 796.58 C202.59 797.61 200.08 798.74 198.53 799.69 C196.97 800.64 194.84 801.68 193.86 802.28 C192.87 802.89 192.82 803.15 192.61 803.32 L191.99 803.32 C191.78 803.15 191.73 802.89 190.75 802.28 C189.76 801.68 187.63 800.64 186.08 799.69 C184.52 798.74 182.02 797.61 181.41 796.58 C180.81 795.54 181.84 794.67 182.45 793.46 C183.05 792.25 183.83 790.87 185.04 789.32 C186.25 787.76 188.59 785.68 189.71 784.13 C190.83 782.57 191.61 781.19 191.78 779.98 C191.96 778.77 190.71 777.90 190.75 776.87 C190.78 775.83 191.78 774.97 191.99 773.76 C192.20 772.54 192.20 770.82 191.99 769.61 C191.78 768.40 190.75 767.53 190.75 766.49 C190.75 765.46 191.78 767.27 191.99 763.38 C192.20 759.49 192.11 747.13 191.99 743.15 C191.87 739.18 191.27 740.65 191.27 739.52 C191.27 738.40 191.87 736.93 191.99 736.41 Z" fill="#e97a8d" stroke="#231815" stroke-width="1.0" stroke-linejoin="round"/>
<line x1="186.58" y1="788.28" x2="198.03" y2="788.28" stroke="#231815" stroke-width="0.8" stroke-dasharray="2,1.3"/>
<line x1="183.05" y1="793.46" x2="201.56" y2="793.46" stroke="#231815" stroke-width="0.9" stroke-dasharray="2,1.3"/>
<line x1="182.01" y1="796.58" x2="202.60" y2="796.58" stroke="#231815" stroke-width="0.8" stroke-dasharray="2,1.3"/>
<line x1="227.26" y1="744.19" x2="227.26" y2="803.32" stroke="#231815" stroke-width="0.9"/>
<path d="M227.57 747.82 C227.73 748.34 228.51 749.90 228.51 750.93 C228.51 751.97 227.61 752.14 227.57 754.05 C227.54 755.95 227.92 760.27 228.30 762.34 C228.68 764.42 229.68 765.11 229.85 766.49 C230.03 767.88 229.60 769.26 229.34 770.64 C229.08 772.03 228.04 773.41 228.30 774.79 C228.56 776.18 230.03 777.56 230.89 778.94 C231.76 780.33 232.53 781.71 233.49 783.09 C234.44 784.47 235.82 785.86 236.60 787.24 C237.38 788.62 238.50 790.01 238.15 791.39 C237.81 792.77 235.91 794.33 234.52 795.54 C233.14 796.75 230.98 797.87 229.85 798.65 C228.73 799.43 228.13 799.95 227.78 800.21 L226.74 800.21 C226.40 799.95 225.79 799.43 224.67 798.65 C223.54 797.87 221.38 796.75 220.00 795.54 C218.62 794.33 216.72 792.77 216.37 791.39 C216.02 790.01 217.15 788.62 217.93 787.24 C218.70 785.86 220.09 784.47 221.04 783.09 C221.99 781.71 222.77 780.33 223.63 778.94 C224.50 777.56 225.96 776.18 226.22 774.79 C226.48 773.41 225.45 772.03 225.19 770.64 C224.93 769.26 224.50 767.88 224.67 766.49 C224.84 765.11 225.84 764.42 226.22 762.34 C226.60 760.27 226.98 755.95 226.95 754.05 C226.92 752.14 226.02 751.97 226.02 750.93 C226.02 749.90 226.79 748.34 226.95 747.82 Z" fill="#3585c8" stroke="#231815" stroke-width="1.0" stroke-linejoin="round"/>
<line x1="222.61" y1="781.54" x2="231.91" y2="781.54" stroke="#231815" stroke-width="0.8" stroke-dasharray="2,1.3"/>
<line x1="217.55" y1="789.83" x2="236.97" y2="789.83" stroke="#231815" stroke-width="0.9" stroke-dasharray="2,1.3"/>
<line x1="217.88" y1="792.43" x2="236.65" y2="792.43" stroke="#231815" stroke-width="0.8" stroke-dasharray="2,1.3"/>
<line x1="280.60" y1="699.80" x2="280.60" y2="822.80" stroke="#231815" stroke-width="1.0"/>
<line x1="280.10" y1="822.30" x2="362.80" y2="822.30" stroke="#231815" stroke-width="1.0"/>
<line x1="278.10" y1="700.20" x2="280.60" y2="700.20" stroke="#231815" stroke-width="0.8"/>
<text x="275.10" y="702.91" font-size="8.2" text-anchor="end" fill="#231815" stroke="#231815" stroke-width="0.16399999999999998">25</text>
<line x1="278.10" y1="720.80" x2="280.60" y2="720.80" stroke="#231815" stroke-width="0.8"/>
<text x="275.10" y="723.51" font-size="8.2" text-anchor="end" fill="#231815" stroke="#231815" stroke-width="0.16399999999999998">20</text>
<line x1="278.10" y1="741.30" x2="280.60" y2="741.30" stroke="#231815" stroke-width="0.8"/>
<text x="275.10" y="744.01" font-size="8.2" text-anchor="end" fill="#231815" stroke="#231815" stroke-width="0.16399999999999998">15</text>
<line x1="278.10" y1="761.50" x2="280.60" y2="761.50" stroke="#231815" stroke-width="0.8"/>
<text x="275.10" y="764.21" font-size="8.2" text-anchor="end" fill="#231815" stroke="#231815" stroke-width="0.16399999999999998">10</text>
<line x1="278.10" y1="781.50" x2="280.60" y2="781.50" stroke="#231815" stroke-width="0.8"/>
<text x="275.10" y="784.21" font-size="8.2" text-anchor="end" fill="#231815" stroke="#231815" stroke-width="0.16399999999999998">5</text>
<line x1="278.10" y1="802.30" x2="280.60" y2="802.30" stroke="#231815" stroke-width="0.8"/>
<text x="275.10" y="805.01" font-size="8.2" text-anchor="end" fill="#231815" stroke="#231815" stroke-width="0.16399999999999998">0</text>
<line x1="278.10" y1="822.30" x2="280.60" y2="822.30" stroke="#231815" stroke-width="0.8"/>
<text x="275.10" y="825.01" font-size="8.2" text-anchor="end" fill="#231815" stroke="#231815" stroke-width="0.16399999999999998">-5</text>
<line x1="303.30" y1="822.30" x2="303.30" y2="824.80" stroke="#231815" stroke-width="0.8"/>
<line x1="338.30" y1="822.30" x2="338.30" y2="824.80" stroke="#231815" stroke-width="0.8"/>
<text x="283.30" y="707.90" font-size="10.4" fill="#231815" stroke="#231815" stroke-width="0.20800000000000002">(7)</text>
<line x1="302.90" y1="717.40" x2="339.90" y2="717.40" stroke="#231815" stroke-width="1.0"/>
<text x="321.40" y="716.00" font-size="6.6" text-anchor="middle" fill="#231815" stroke="#231815" stroke-width="0.132">NS</text>
<text x="283.00" y="818.70" font-size="6.9" textLength="78.80" lengthAdjust="spacingAndGlyphs" fill="#231815" stroke="#231815" stroke-width="0.2">Mann-Whitney test = 0.6839</text>
<text x="302.80" y="835.10" font-size="10.1" text-anchor="middle" fill="#231815" stroke="#231815" stroke-width="0.20199999999999999">Xiaogan</text>
<text x="339.50" y="835.10" font-size="10.1" text-anchor="middle" fill="#231815" stroke="#231815" stroke-width="0.20199999999999999">Dazhou</text>
<text x="261.20" y="762.40" font-size="11" text-anchor="middle" transform="rotate(-90 261.20 762.40)" textLength="102.00" lengthAdjust="spacingAndGlyphs" fill="#231815" stroke="#231815" stroke-width="0.22">Succinate acid  (mg/mL)</text>
<line x1="303.34" y1="726.74" x2="303.34" y2="809.21" stroke="#231815" stroke-width="0.9"/>
<path d="M303.86 731.41 C304.03 732.28 304.55 734.70 304.90 736.60 C305.24 738.50 306.05 740.92 305.93 742.82 C305.81 744.72 304.34 746.28 304.17 748.01 C304.00 749.74 304.86 751.47 304.90 753.20 C304.93 754.92 304.59 756.65 304.38 758.38 C304.17 760.11 303.65 761.67 303.65 763.57 C303.65 765.47 303.82 767.72 304.38 769.79 C304.93 771.87 306.19 774.29 306.97 776.02 C307.75 777.75 308.18 778.61 309.05 780.17 C309.91 781.72 311.29 783.62 312.16 785.35 C313.02 787.08 313.97 788.98 314.23 790.54 C314.49 792.10 314.32 793.31 313.71 794.69 C313.11 796.07 311.98 797.46 310.60 798.84 C309.22 800.22 306.54 801.95 305.41 802.99 C304.29 804.02 304.12 804.72 303.86 805.06 L302.82 805.06 C302.56 804.72 302.39 804.02 301.27 802.99 C300.14 801.95 297.46 800.22 296.08 798.84 C294.70 797.46 293.57 796.07 292.97 794.69 C292.36 793.31 292.19 792.10 292.45 790.54 C292.71 788.98 293.66 787.08 294.52 785.35 C295.39 783.62 296.77 781.72 297.63 780.17 C298.50 778.61 298.93 777.75 299.71 776.02 C300.49 774.29 301.75 771.87 302.30 769.79 C302.86 767.72 303.03 765.47 303.03 763.57 C303.03 761.67 302.51 760.11 302.30 758.38 C302.10 756.65 301.75 754.92 301.78 753.20 C301.82 751.47 302.68 749.74 302.51 748.01 C302.34 746.28 300.87 744.72 300.75 742.82 C300.63 740.92 301.44 738.50 301.78 736.60 C302.13 734.70 302.65 732.28 302.82 731.41 Z" fill="#e97a8d" stroke="#231815" stroke-width="1.0" stroke-linejoin="round"/>
<line x1="297.49" y1="781.41" x2="309.19" y2="781.41" stroke="#231815" stroke-width="0.8" stroke-dasharray="2,1.3"/>
<line x1="293.55" y1="789.29" x2="313.13" y2="789.29" stroke="#231815" stroke-width="0.9" stroke-dasharray="2,1.3"/>
<line x1="293.96" y1="795.21" x2="312.72" y2="795.21" stroke="#231815" stroke-width="0.8" stroke-dasharray="2,1.3"/>
<line x1="338.30" y1="761.49" x2="338.30" y2="804.54" stroke="#231815" stroke-width="0.9"/>
<path d="M338.61 764.61 C338.82 765.30 339.82 767.37 339.85 768.76 C339.89 770.14 338.82 771.61 338.82 772.90 C338.82 774.20 339.34 775.50 339.85 776.54 C340.37 777.57 341.24 778.00 341.93 779.13 C342.62 780.25 343.31 782.07 344.00 783.28 C344.70 784.49 345.82 785.35 346.08 786.39 C346.34 787.43 345.30 788.46 345.56 789.50 C345.82 790.54 346.94 791.75 347.63 792.61 C348.33 793.48 350.23 793.82 349.71 794.69 C349.19 795.55 346.08 796.76 344.52 797.80 C342.97 798.84 341.32 800.22 340.37 800.91 C339.42 801.60 339.08 801.78 338.82 801.95 L337.78 801.95 C337.52 801.78 337.17 801.60 336.22 800.91 C335.27 800.22 333.63 798.84 332.07 797.80 C330.52 796.76 327.41 795.55 326.89 794.69 C326.37 793.82 328.27 793.48 328.96 792.61 C329.65 791.75 330.78 790.54 331.04 789.50 C331.30 788.46 330.26 787.43 330.52 786.39 C330.78 785.35 331.90 784.49 332.59 783.28 C333.28 782.07 333.98 780.25 334.67 779.13 C335.36 778.00 336.22 777.57 336.74 776.54 C337.26 775.50 337.78 774.20 337.78 772.90 C337.78 771.61 336.71 770.14 336.74 768.76 C336.78 767.37 337.78 765.30 337.99 764.61 Z" fill="#3585c8" stroke="#231815" stroke-width="1.0" stroke-linejoin="round"/>
<line x1="331.67" y1="785.56" x2="344.93" y2="785.56" stroke="#231815" stroke-width="0.8" stroke-dasharray="2,1.3"/>
<line x1="331.29" y1="790.02" x2="345.31" y2="790.02" stroke="#231815" stroke-width="0.9" stroke-dasharray="2,1.3"/>
<line x1="328.01" y1="794.17" x2="348.59" y2="794.17" stroke="#231815" stroke-width="0.8" stroke-dasharray="2,1.3"/>
<line x1="388.30" y1="701.60" x2="388.30" y2="821.90" stroke="#231815" stroke-width="1.0"/>
<line x1="387.80" y1="821.40" x2="468.40" y2="821.40" stroke="#231815" stroke-width="1.0"/>
<line x1="385.80" y1="702.20" x2="388.30" y2="702.20" stroke="#231815" stroke-width="0.8"/>
<text x="382.80" y="704.91" font-size="8.2" text-anchor="end" fill="#231815" stroke="#231815" stroke-width="0.16399999999999998">5.0</text>
<line x1="385.80" y1="725.80" x2="388.30" y2="725.80" stroke="#231815" stroke-width="0.8"/>
<text x="382.80" y="728.51" font-size="8.2" text-anchor="end" fill="#231815" stroke="#231815" stroke-width="0.16399999999999998">4.5</text>
<line x1="385.80" y1="749.50" x2="388.30" y2="749.50" stroke="#231815" stroke-width="0.8"/>
<text x="382.80" y="752.21" font-size="8.2" text-anchor="end" fill="#231815" stroke="#231815" stroke-width="0.16399999999999998">4.0</text>
<line x1="385.80" y1="773.50" x2="388.30" y2="773.50" stroke="#231815" stroke-width="0.8"/>
<text x="382.80" y="776.21" font-size="8.2" text-anchor="end" fill="#231815" stroke="#231815" stroke-width="0.16399999999999998">3.5</text>
<line x1="385.80" y1="797.30" x2="388.30" y2="797.30" stroke="#231815" stroke-width="0.8"/>
<text x="382.80" y="800.01" font-size="8.2" text-anchor="end" fill="#231815" stroke="#231815" stroke-width="0.16399999999999998">3.0</text>
<line x1="385.80" y1="821.40" x2="388.30" y2="821.40" stroke="#231815" stroke-width="0.8"/>
<text x="382.80" y="824.11" font-size="8.2" text-anchor="end" fill="#231815" stroke="#231815" stroke-width="0.16399999999999998">2.5</text>
<line x1="411.50" y1="821.40" x2="411.50" y2="823.90" stroke="#231815" stroke-width="0.8"/>
<line x1="445.50" y1="821.40" x2="445.50" y2="823.90" stroke="#231815" stroke-width="0.8"/>
<text x="392.40" y="707.90" font-size="10.4" fill="#231815" stroke="#231815" stroke-width="0.20800000000000002">(8)</text>
<line x1="410.30" y1="717.40" x2="446.00" y2="717.40" stroke="#231815" stroke-width="1.0"/>
<path d="M423.55 710.10L423.55 713.90M421.90 711.05L425.20 712.95M425.20 711.05L421.90 712.95" stroke="#231815" stroke-width="1.1" fill="none"/>
<path d="M428.15 710.10L428.15 713.90M426.50 711.05L429.80 712.95M429.80 711.05L426.50 712.95" stroke="#231815" stroke-width="1.1" fill="none"/>
<path d="M432.75 710.10L432.75 713.90M431.10 711.05L434.40 712.95M434.40 711.05L431.10 712.95" stroke="#231815" stroke-width="1.1" fill="none"/>
<text x="390.60" y="816.00" font-size="6.9" textLength="77.80" lengthAdjust="spacingAndGlyphs" fill="#231815" stroke="#231815" stroke-width="0.2">Mann-Whitney test &lt; 0.0001</text>
<text x="411.00" y="833.60" font-size="10.1" text-anchor="middle" fill="#231815" stroke="#231815" stroke-width="0.20199999999999999">Xiaogan</text>
<text x="446.70" y="833.60" font-size="10.1" text-anchor="middle" fill="#231815" stroke="#231815" stroke-width="0.20199999999999999">Dazhou</text>
<text x="368.60" y="760.60" font-size="11" text-anchor="middle" transform="rotate(-90 368.60 760.60)" textLength="37.50" lengthAdjust="spacingAndGlyphs" fill="#231815" stroke="#231815" stroke-width="0.22">pH value</text>
<line x1="411.34" y1="731.08" x2="411.34" y2="798.51" stroke="#231815" stroke-width="0.9"/>
<path d="M411.86 736.78 C412.03 737.48 412.84 739.55 412.90 740.93 C412.95 742.32 412.08 743.70 412.17 745.08 C412.26 746.47 412.95 747.68 413.41 749.23 C413.88 750.79 414.28 752.86 414.97 754.42 C415.66 755.98 416.53 757.19 417.56 758.57 C418.60 759.95 420.42 761.51 421.20 762.72 C421.97 763.93 422.49 764.79 422.23 765.83 C421.97 766.87 420.50 767.90 419.64 768.94 C418.77 769.98 417.13 771.02 417.05 772.05 C416.96 773.09 418.69 774.22 419.12 775.17 C419.55 776.12 419.98 776.72 419.64 777.76 C419.29 778.80 417.91 779.92 417.05 781.39 C416.18 782.86 415.26 784.85 414.45 786.58 C413.64 788.31 412.55 790.90 412.17 791.76 L410.51 791.76 C410.13 790.90 409.04 788.31 408.23 786.58 C407.42 784.85 406.50 782.86 405.63 781.39 C404.77 779.92 403.39 778.80 403.04 777.76 C402.70 776.72 403.13 776.12 403.56 775.17 C403.99 774.22 405.72 773.09 405.63 772.05 C405.55 771.02 403.91 769.98 403.04 768.94 C402.18 767.90 400.71 766.87 400.45 765.83 C400.19 764.79 400.71 763.93 401.49 762.72 C402.26 761.51 404.08 759.95 405.12 758.57 C406.15 757.19 407.02 755.98 407.71 754.42 C408.40 752.86 408.80 750.79 409.27 749.23 C409.73 747.68 410.42 746.47 410.51 745.08 C410.60 743.70 409.73 742.32 409.78 740.93 C409.84 739.55 410.65 737.48 410.82 736.78 Z" fill="#e97a8d" stroke="#231815" stroke-width="1.0" stroke-linejoin="round"/>
<line x1="401.91" y1="763.24" x2="420.77" y2="763.24" stroke="#231815" stroke-width="0.8" stroke-dasharray="2,1.3"/>
<line x1="403.47" y1="768.73" x2="419.21" y2="768.73" stroke="#231815" stroke-width="0.9" stroke-dasharray="2,1.3"/>
<line x1="404.01" y1="778.28" x2="418.67" y2="778.28" stroke="#231815" stroke-width="0.8" stroke-dasharray="2,1.3"/>
<line x1="445.26" y1="724.85" x2="445.26" y2="792.28" stroke="#231815" stroke-width="0.9"/>
<path d="M445.78 730.56 C446.30 731.42 447.77 733.85 448.89 735.75 C450.02 737.65 451.40 739.90 452.52 741.97 C453.65 744.05 454.98 746.81 455.63 748.20 C456.29 749.58 456.50 749.23 456.46 750.27 C456.43 751.31 455.65 753.04 455.43 754.42 C455.20 755.80 455.34 757.01 455.12 758.57 C454.89 760.12 454.51 762.03 454.08 763.76 C453.65 765.48 453.21 767.04 452.52 768.94 C451.83 770.84 450.79 773.26 449.93 775.17 C449.07 777.07 448.03 778.62 447.34 780.35 C446.64 782.08 446.04 784.67 445.78 785.54 L444.74 785.54 C444.48 784.67 443.88 782.08 443.19 780.35 C442.50 778.62 441.46 777.07 440.59 775.17 C439.73 773.26 438.69 770.84 438.00 768.94 C437.31 767.04 436.88 765.48 436.44 763.76 C436.01 762.03 435.63 760.12 435.41 758.57 C435.18 757.01 435.32 755.80 435.10 754.42 C434.87 753.04 434.09 751.31 434.06 750.27 C434.02 749.23 434.23 749.58 434.89 748.20 C435.54 746.81 436.88 744.05 438.00 741.97 C439.12 739.90 440.51 737.65 441.63 735.75 C442.75 733.85 444.22 731.42 444.74 730.56 Z" fill="#3585c8" stroke="#231815" stroke-width="1.0" stroke-linejoin="round"/>
<line x1="435.28" y1="748.71" x2="455.24" y2="748.71" stroke="#231815" stroke-width="0.8" stroke-dasharray="2,1.3"/>
<line x1="435.99" y1="758.36" x2="454.53" y2="758.36" stroke="#231815" stroke-width="0.9" stroke-dasharray="2,1.3"/>
<line x1="438.13" y1="767.39" x2="452.39" y2="767.39" stroke="#231815" stroke-width="0.8" stroke-dasharray="2,1.3"/>
<text x="465.20" y="578.50" font-size="16.3" textLength="24.00" lengthAdjust="spacingAndGlyphs" fill="#231815" stroke="#231815" stroke-width="0.22">(D)</text>
<line x1="500.80" y1="795.40" x2="503.30" y2="795.40" stroke="#231815" stroke-width="0.8"/>
<text x="499.80" y="797.80" font-size="7.2" text-anchor="end" fill="#231815" stroke="#231815" stroke-width="0.14400000000000002">0.0</text>
<line x1="500.80" y1="742.17" x2="503.30" y2="742.17" stroke="#231815" stroke-width="0.8"/>
<text x="499.80" y="744.57" font-size="7.2" text-anchor="end" fill="#231815" stroke="#231815" stroke-width="0.14400000000000002">0.2</text>
<line x1="500.80" y1="688.95" x2="503.30" y2="688.95" stroke="#231815" stroke-width="0.8"/>
<text x="499.80" y="691.35" font-size="7.2" text-anchor="end" fill="#231815" stroke="#231815" stroke-width="0.14400000000000002">0.4</text>
<line x1="500.80" y1="635.73" x2="503.30" y2="635.73" stroke="#231815" stroke-width="0.8"/>
<text x="499.80" y="638.12" font-size="7.2" text-anchor="end" fill="#231815" stroke="#231815" stroke-width="0.14400000000000002">0.6</text>
<line x1="500.80" y1="582.50" x2="503.30" y2="582.50" stroke="#231815" stroke-width="0.8"/>
<text x="499.80" y="584.90" font-size="7.2" text-anchor="end" fill="#231815" stroke="#231815" stroke-width="0.14400000000000002">0.8</text>
<text x="486.30" y="689.70" font-size="11" text-anchor="middle" transform="rotate(-90 486.30 689.70)" textLength="84.40" lengthAdjust="spacingAndGlyphs" fill="#231815" stroke="#231815" stroke-width="0.22">Content  (mg/mL)</text>
<line x1="562.40" y1="582.50" x2="562.40" y2="795.40" stroke="#231815" stroke-width="1.0" stroke-dasharray="3.2,2.2"/>
<line x1="767.40" y1="582.50" x2="767.40" y2="795.40" stroke="#231815" stroke-width="1.0" stroke-dasharray="3.2,2.2"/>
<line x1="914.60" y1="582.50" x2="914.60" y2="795.40" stroke="#231815" stroke-width="1.0" stroke-dasharray="3.2,2.2"/>
<line x1="512.50" y1="715.50" x2="512.50" y2="732.50" stroke="#231815" stroke-width="1.0"/>
<line x1="510.50" y1="715.50" x2="514.50" y2="715.50" stroke="#231815" stroke-width="1.1"/>
<line x1="524.50" y1="711.50" x2="524.50" y2="732.50" stroke="#231815" stroke-width="1.0"/>
<line x1="522.50" y1="711.50" x2="526.50" y2="711.50" stroke="#231815" stroke-width="1.1"/>
<rect x="505.50" y="732.50" width="13.00" height="63.00" fill="#d77582" stroke="#111" stroke-width="1.1"/>
<rect x="518.50" y="732.50" width="12.00" height="63.00" fill="#3579b1" stroke="#111" stroke-width="1.1"/>
<line x1="510.00" y1="707.50" x2="524.40" y2="707.50" stroke="#231815" stroke-width="1.1"/>
<text x="517.20" y="705.80" font-size="8.3" text-anchor="middle" fill="#231815" stroke="#231815" stroke-width="0.1">NS</text>
<line x1="518.50" y1="795.40" x2="518.50" y2="798.20" stroke="#231815" stroke-width="0.9"/>
<text x="518.20" y="808.00" font-size="10.6" text-anchor="middle" fill="#231815" stroke="#231815" stroke-width="0.212">Asp</text>
<line x1="541.50" y1="637.50" x2="541.50" y2="675.50" stroke="#231815" stroke-width="1.0"/>
<line x1="539.50" y1="637.50" x2="543.50" y2="637.50" stroke="#231815" stroke-width="1.1"/>
<line x1="554.50" y1="626.50" x2="554.50" y2="666.50" stroke="#231815" stroke-width="1.0"/>
<line x1="552.50" y1="626.50" x2="556.50" y2="626.50" stroke="#231815" stroke-width="1.1"/>
<rect x="535.50" y="675.50" width="12.00" height="120.00" fill="#d77582" stroke="#111" stroke-width="1.1"/>
<rect x="547.50" y="666.50" width="13.00" height="129.00" fill="#3579b1" stroke="#111" stroke-width="1.1"/>
<line x1="539.42" y1="623.50" x2="553.82" y2="623.50" stroke="#231815" stroke-width="1.1"/>
<text x="546.62" y="621.80" font-size="8.3" text-anchor="middle" fill="#231815" stroke="#231815" stroke-width="0.1">NS</text>
<line x1="547.50" y1="795.40" x2="547.50" y2="798.20" stroke="#231815" stroke-width="0.9"/>
<text x="547.62" y="808.00" font-size="10.6" text-anchor="middle" fill="#231815" stroke="#231815" stroke-width="0.212">Glu</text>
<line x1="571.50" y1="753.50" x2="571.50" y2="762.50" stroke="#231815" stroke-width="1.0"/>
<line x1="569.50" y1="753.50" x2="573.50" y2="753.50" stroke="#231815" stroke-width="1.1"/>
<line x1="583.50" y1="750.50" x2="583.50" y2="761.50" stroke="#231815" stroke-width="1.0"/>
<line x1="581.50" y1="750.50" x2="585.50" y2="750.50" stroke="#231815" stroke-width="1.1"/>
<rect x="564.50" y="762.50" width="13.00" height="33.00" fill="#d77582" stroke="#111" stroke-width="1.1"/>
<rect x="577.50" y="761.50" width="12.00" height="34.00" fill="#3579b1" stroke="#111" stroke-width="1.1"/>
<line x1="568.84" y1="747.50" x2="583.24" y2="747.50" stroke="#231815" stroke-width="1.1"/>
<text x="576.04" y="745.80" font-size="8.3" text-anchor="middle" fill="#231815" stroke="#231815" stroke-width="0.1">NS</text>
<line x1="577.50" y1="795.40" x2="577.50" y2="798.20" stroke="#231815" stroke-width="0.9"/>
<text x="577.04" y="808.00" font-size="10.6" text-anchor="middle" fill="#231815" stroke="#231815" stroke-width="0.212">Thr*</text>
<line x1="600.50" y1="746.50" x2="600.50" y2="757.50" stroke="#231815" stroke-width="1.0"/>
<line x1="598.50" y1="746.50" x2="602.50" y2="746.50" stroke="#231815" stroke-width="1.1"/>
<line x1="613.50" y1="735.50" x2="613.50" y2="752.50" stroke="#231815" stroke-width="1.0"/>
<line x1="611.50" y1="735.50" x2="615.50" y2="735.50" stroke="#231815" stroke-width="1.1"/>
<rect x="593.50" y="757.50" width="13.00" height="38.00" fill="#d77582" stroke="#111" stroke-width="1.1"/>
<rect x="606.50" y="752.50" width="13.00" height="43.00" fill="#3579b1" stroke="#111" stroke-width="1.1"/>
<line x1="598.26" y1="733.50" x2="612.66" y2="733.50" stroke="#231815" stroke-width="1.1"/>
<text x="605.46" y="731.80" font-size="8.3" text-anchor="middle" fill="#231815" stroke="#231815" stroke-width="0.1">NS</text>
<line x1="606.50" y1="795.40" x2="606.50" y2="798.20" stroke="#231815" stroke-width="0.9"/>
<text x="606.46" y="808.00" font-size="10.6" text-anchor="middle" fill="#231815" stroke="#231815" stroke-width="0.212">Ser</text>
<line x1="629.50" y1="745.50" x2="629.50" y2="756.50" stroke="#231815" stroke-width="1.0"/>
<line x1="627.50" y1="745.50" x2="631.50" y2="745.50" stroke="#231815" stroke-width="1.1"/>
<line x1="642.50" y1="749.50" x2="642.50" y2="759.50" stroke="#231815" stroke-width="1.0"/>
<line x1="640.50" y1="749.50" x2="644.50" y2="749.50" stroke="#231815" stroke-width="1.1"/>
<rect x="623.50" y="756.50" width="12.00" height="39.00" fill="#d77582" stroke="#111" stroke-width="1.1"/>
<rect x="635.50" y="759.50" width="13.00" height="36.00" fill="#3579b1" stroke="#111" stroke-width="1.1"/>
<line x1="627.68" y1="742.50" x2="642.08" y2="742.50" stroke="#231815" stroke-width="1.1"/>
<text x="634.88" y="740.80" font-size="8.3" text-anchor="middle" fill="#231815" stroke="#231815" stroke-width="0.1">NS</text>
<line x1="635.50" y1="795.40" x2="635.50" y2="798.20" stroke="#231815" stroke-width="0.9"/>
<text x="635.88" y="808.00" font-size="10.6" text-anchor="middle" fill="#231815" stroke="#231815" stroke-width="0.212">Pro</text>
<line x1="659.50" y1="764.50" x2="659.50" y2="772.50" stroke="#231815" stroke-width="1.0"/>
<line x1="657.50" y1="764.50" x2="661.50" y2="764.50" stroke="#231815" stroke-width="1.1"/>
<line x1="671.50" y1="754.50" x2="671.50" y2="770.50" stroke="#231815" stroke-width="1.0"/>
<line x1="669.50" y1="754.50" x2="673.50" y2="754.50" stroke="#231815" stroke-width="1.1"/>
<rect x="652.50" y="772.50" width="13.00" height="23.00" fill="#d77582" stroke="#111" stroke-width="1.1"/>
<rect x="665.50" y="770.50" width="12.00" height="25.00" fill="#3579b1" stroke="#111" stroke-width="1.1"/>
<line x1="657.10" y1="751.50" x2="671.50" y2="751.50" stroke="#231815" stroke-width="1.1"/>
<text x="664.30" y="749.80" font-size="8.3" text-anchor="middle" fill="#231815" stroke="#231815" stroke-width="0.1">NS</text>
<line x1="665.50" y1="795.40" x2="665.50" y2="798.20" stroke="#231815" stroke-width="0.9"/>
<text x="665.30" y="808.00" font-size="10.6" text-anchor="middle" fill="#231815" stroke="#231815" stroke-width="0.212">Gly</text>
<line x1="688.50" y1="737.50" x2="688.50" y2="750.50" stroke="#231815" stroke-width="1.0"/>
<line x1="686.50" y1="737.50" x2="690.50" y2="737.50" stroke="#231815" stroke-width="1.1"/>
<line x1="701.50" y1="727.50" x2="701.50" y2="741.50" stroke="#231815" stroke-width="1.0"/>
<line x1="699.50" y1="727.50" x2="703.50" y2="727.50" stroke="#231815" stroke-width="1.1"/>
<rect x="682.50" y="750.50" width="12.00" height="45.00" fill="#d77582" stroke="#111" stroke-width="1.1"/>
<rect x="694.50" y="741.50" width="13.00" height="54.00" fill="#3579b1" stroke="#111" stroke-width="1.1"/>
<line x1="686.52" y1="722.50" x2="700.92" y2="722.50" stroke="#231815" stroke-width="1.1"/>
<path d="M690.72 714.50L690.72 719.10M688.73 715.65L692.71 717.95M692.71 715.65L688.73 717.95" stroke="#231815" stroke-width="0.9" fill="none"/>
<path d="M696.72 714.50L696.72 719.10M694.73 715.65L698.71 717.95M698.71 715.65L694.73 717.95" stroke="#231815" stroke-width="0.9" fill="none"/>
<line x1="694.50" y1="795.40" x2="694.50" y2="798.20" stroke="#231815" stroke-width="0.9"/>
<text x="694.72" y="808.00" font-size="10.6" text-anchor="middle" fill="#231815" stroke="#231815" stroke-width="0.212">Ala</text>
<line x1="718.50" y1="773.50" x2="718.50" y2="785.50" stroke="#231815" stroke-width="1.0"/>
<line x1="716.50" y1="773.50" x2="720.50" y2="773.50" stroke="#231815" stroke-width="1.1"/>
<line x1="730.50" y1="782.50" x2="730.50" y2="786.50" stroke="#231815" stroke-width="1.0"/>
<line x1="728.50" y1="782.50" x2="732.50" y2="782.50" stroke="#231815" stroke-width="1.1"/>
<rect x="711.50" y="785.50" width="13.00" height="10.00" fill="#d77582" stroke="#111" stroke-width="1.1"/>
<rect x="724.50" y="786.50" width="12.00" height="9.00" fill="#3579b1" stroke="#111" stroke-width="1.1"/>
<line x1="715.94" y1="770.50" x2="730.34" y2="770.50" stroke="#231815" stroke-width="1.1"/>
<text x="723.14" y="768.80" font-size="8.3" text-anchor="middle" fill="#231815" stroke="#231815" stroke-width="0.1">NS</text>
<line x1="724.50" y1="795.40" x2="724.50" y2="798.20" stroke="#231815" stroke-width="0.9"/>
<text x="724.14" y="808.00" font-size="10.6" text-anchor="middle" fill="#231815" stroke="#231815" stroke-width="0.212">Cys</text>
<line x1="747.50" y1="768.50" x2="747.50" y2="782.50" stroke="#231815" stroke-width="1.0"/>
<line x1="745.50" y1="768.50" x2="749.50" y2="768.50" stroke="#231815" stroke-width="1.1"/>
<line x1="760.50" y1="779.50" x2="760.50" y2="784.50" stroke="#231815" stroke-width="1.0"/>
<line x1="758.50" y1="779.50" x2="762.50" y2="779.50" stroke="#231815" stroke-width="1.1"/>
<rect x="740.50" y="782.50" width="13.00" height="13.00" fill="#d77582" stroke="#111" stroke-width="1.1"/>
<rect x="753.50" y="784.50" width="13.00" height="11.00" fill="#3579b1" stroke="#111" stroke-width="1.1"/>
<line x1="745.36" y1="765.50" x2="759.76" y2="765.50" stroke="#231815" stroke-width="1.1"/>
<text x="752.56" y="763.80" font-size="8.3" text-anchor="middle" fill="#231815" stroke="#231815" stroke-width="0.1">NS</text>
<line x1="753.50" y1="795.40" x2="753.50" y2="798.20" stroke="#231815" stroke-width="0.9"/>
<text x="753.56" y="808.00" font-size="10.6" text-anchor="middle" fill="#231815" stroke="#231815" stroke-width="0.212">Met*</text>
<line x1="777.50" y1="774.50" x2="777.50" y2="785.50" stroke="#231815" stroke-width="1.0"/>
<line x1="775.50" y1="774.50" x2="779.50" y2="774.50" stroke="#231815" stroke-width="1.1"/>
<line x1="789.50" y1="783.50" x2="789.50" y2="787.50" stroke="#231815" stroke-width="1.0"/>
<line x1="787.50" y1="783.50" x2="791.50" y2="783.50" stroke="#231815" stroke-width="1.1"/>
<rect x="770.50" y="785.50" width="12.00" height="10.00" fill="#d77582" stroke="#111" stroke-width="1.1"/>
<rect x="782.50" y="787.50" width="13.00" height="8.00" fill="#3579b1" stroke="#111" stroke-width="1.1"/>
<line x1="774.78" y1="771.50" x2="789.18" y2="771.50" stroke="#231815" stroke-width="1.1"/>
<text x="781.98" y="769.80" font-size="8.3" text-anchor="middle" fill="#231815" stroke="#231815" stroke-width="0.1">NS</text>
<line x1="782.50" y1="795.40" x2="782.50" y2="798.20" stroke="#231815" stroke-width="0.9"/>
<text x="782.98" y="808.00" font-size="10.6" text-anchor="middle" fill="#231815" stroke="#231815" stroke-width="0.212">Val*</text>
<line x1="806.50" y1="756.50" x2="806.50" y2="766.50" stroke="#231815" stroke-width="1.0"/>
<line x1="804.50" y1="756.50" x2="808.50" y2="756.50" stroke="#231815" stroke-width="1.1"/>
<line x1="819.50" y1="750.50" x2="819.50" y2="760.50" stroke="#231815" stroke-width="1.0"/>
<line x1="817.50" y1="750.50" x2="821.50" y2="750.50" stroke="#231815" stroke-width="1.1"/>
<rect x="799.50" y="766.50" width="13.00" height="29.00" fill="#d77582" stroke="#111" stroke-width="1.1"/>
<rect x="812.50" y="760.50" width="13.00" height="35.00" fill="#3579b1" stroke="#111" stroke-width="1.1"/>
<line x1="804.20" y1="747.50" x2="818.60" y2="747.50" stroke="#231815" stroke-width="1.1"/>
<path d="M811.40 739.50L811.40 744.10M809.41 740.65L813.39 742.95M813.39 740.65L809.41 742.95" stroke="#231815" stroke-width="0.9" fill="none"/>
<line x1="812.50" y1="795.40" x2="812.50" y2="798.20" stroke="#231815" stroke-width="0.9"/>
<text x="812.40" y="808.00" font-size="10.6" text-anchor="middle" fill="#231815" stroke="#231815" stroke-width="0.212">Ile*</text>
<line x1="835.50" y1="722.50" x2="835.50" y2="741.50" stroke="#231815" stroke-width="1.0"/>
<line x1="833.50" y1="722.50" x2="837.50" y2="722.50" stroke="#231815" stroke-width="1.1"/>
<line x1="848.50" y1="707.50" x2="848.50" y2="728.50" stroke="#231815" stroke-width="1.0"/>
<line x1="846.50" y1="707.50" x2="850.50" y2="707.50" stroke="#231815" stroke-width="1.1"/>
<rect x="829.50" y="741.50" width="12.00" height="54.00" fill="#d77582" stroke="#111" stroke-width="1.1"/>
<rect x="841.50" y="728.50" width="13.00" height="67.00" fill="#3579b1" stroke="#111" stroke-width="1.1"/>
<line x1="833.62" y1="704.50" x2="848.02" y2="704.50" stroke="#231815" stroke-width="1.1"/>
<path d="M837.82 696.50L837.82 701.10M835.83 697.65L839.81 699.95M839.81 697.65L835.83 699.95" stroke="#231815" stroke-width="0.9" fill="none"/>
<path d="M843.82 696.50L843.82 701.10M841.83 697.65L845.81 699.95M845.81 697.65L841.83 699.95" stroke="#231815" stroke-width="0.9" fill="none"/>
<line x1="841.50" y1="795.40" x2="841.50" y2="798.20" stroke="#231815" stroke-width="0.9"/>
<text x="841.82" y="808.00" font-size="10.6" text-anchor="middle" fill="#231815" stroke="#231815" stroke-width="0.212">Leu*</text>
<line x1="865.50" y1="740.50" x2="865.50" y2="755.50" stroke="#231815" stroke-width="1.0"/>
<line x1="863.50" y1="740.50" x2="867.50" y2="740.50" stroke="#231815" stroke-width="1.1"/>
<line x1="877.50" y1="736.50" x2="877.50" y2="750.50" stroke="#231815" stroke-width="1.0"/>
<line x1="875.50" y1="736.50" x2="879.50" y2="736.50" stroke="#231815" stroke-width="1.1"/>
<rect x="858.50" y="755.50" width="13.00" height="40.00" fill="#d77582" stroke="#111" stroke-width="1.1"/>
<rect x="871.50" y="750.50" width="12.00" height="45.00" fill="#3579b1" stroke="#111" stroke-width="1.1"/>
<line x1="863.04" y1="732.50" x2="877.44" y2="732.50" stroke="#231815" stroke-width="1.1"/>
<text x="870.24" y="730.80" font-size="8.3" text-anchor="middle" fill="#231815" stroke="#231815" stroke-width="0.1">NS</text>
<line x1="871.50" y1="795.40" x2="871.50" y2="798.20" stroke="#231815" stroke-width="0.9"/>
<text x="871.24" y="808.00" font-size="10.6" text-anchor="middle" fill="#231815" stroke="#231815" stroke-width="0.212">Phe*</text>
<line x1="894.50" y1="757.50" x2="894.50" y2="766.50" stroke="#231815" stroke-width="1.0"/>
<line x1="892.50" y1="757.50" x2="896.50" y2="757.50" stroke="#231815" stroke-width="1.1"/>
<line x1="907.50" y1="754.50" x2="907.50" y2="765.50" stroke="#231815" stroke-width="1.0"/>
<line x1="905.50" y1="754.50" x2="909.50" y2="754.50" stroke="#231815" stroke-width="1.1"/>
<rect x="888.50" y="766.50" width="12.00" height="29.00" fill="#d77582" stroke="#111" stroke-width="1.1"/>
<rect x="900.50" y="765.50" width="13.00" height="30.00" fill="#3579b1" stroke="#111" stroke-width="1.1"/>
<line x1="892.46" y1="752.50" x2="906.86" y2="752.50" stroke="#231815" stroke-width="1.1"/>
<text x="899.66" y="750.80" font-size="8.3" text-anchor="middle" fill="#231815" stroke="#231815" stroke-width="0.1">NS</text>
<line x1="900.50" y1="795.40" x2="900.50" y2="798.20" stroke="#231815" stroke-width="0.9"/>
<text x="900.66" y="808.00" font-size="10.6" text-anchor="middle" fill="#231815" stroke="#231815" stroke-width="0.212">Lys*</text>
<line x1="924.50" y1="730.50" x2="924.50" y2="751.50" stroke="#231815" stroke-width="1.0"/>
<line x1="922.50" y1="730.50" x2="926.50" y2="730.50" stroke="#231815" stroke-width="1.1"/>
<line x1="936.50" y1="733.50" x2="936.50" y2="748.50" stroke="#231815" stroke-width="1.0"/>
<line x1="934.50" y1="733.50" x2="938.50" y2="733.50" stroke="#231815" stroke-width="1.1"/>
<rect x="917.50" y="751.50" width="13.00" height="44.00" fill="#d77582" stroke="#111" stroke-width="1.1"/>
<rect x="930.50" y="748.50" width="12.00" height="47.00" fill="#3579b1" stroke="#111" stroke-width="1.1"/>
<line x1="921.88" y1="727.50" x2="936.28" y2="727.50" stroke="#231815" stroke-width="1.1"/>
<text x="929.08" y="725.80" font-size="8.3" text-anchor="middle" fill="#231815" stroke="#231815" stroke-width="0.1">NS</text>
<line x1="930.50" y1="795.40" x2="930.50" y2="798.20" stroke="#231815" stroke-width="0.9"/>
<text x="930.08" y="808.00" font-size="10.6" text-anchor="middle" fill="#231815" stroke="#231815" stroke-width="0.212">Tyr</text>
<line x1="503.30" y1="582.50" x2="945.40" y2="582.50" stroke="#231815" stroke-width="1.1"/>
<line x1="945.40" y1="582.50" x2="945.40" y2="795.40" stroke="#231815" stroke-width="1.1"/>
<line x1="503.30" y1="582.00" x2="503.30" y2="795.90" stroke="#231815" stroke-width="1.1"/>
<line x1="503.30" y1="795.40" x2="945.40" y2="795.40" stroke="#231815" stroke-width="1.1"/>
<text x="532.30" y="600.60" font-size="12.3" text-anchor="middle" fill="#231815" stroke="#231815" stroke-width="0.22">Umami</text>
<text x="664.70" y="600.80" font-size="12.3" text-anchor="middle" fill="#231815" stroke="#231815" stroke-width="0.22">Sweet</text>
<text x="841.40" y="600.80" font-size="12.3" text-anchor="middle" fill="#231815" stroke="#231815" stroke-width="0.22">Bitter</text>
<text x="932.50" y="618.00" font-size="12.3" text-anchor="middle" transform="rotate(-90 932.50 618.00)" textLength="50.80" lengthAdjust="spacingAndGlyphs" fill="#231815" stroke="#231815" stroke-width="0.22">Astringent</text>
<rect x="860.60" y="586.40" width="15.10" height="8.00" fill="#d77582" stroke="#111" stroke-width="0.9"/>
<rect x="860.60" y="597.60" width="15.10" height="8.00" fill="#3579b1" stroke="#111" stroke-width="0.9"/>
<text x="879.00" y="593.50" font-size="9.8" fill="#231815" stroke="#231815" stroke-width="0.196">Xiaogan</text>
<text x="879.00" y="604.60" font-size="9.8" fill="#231815" stroke="#231815" stroke-width="0.196">Dazhou</text>
<rect x="1174.30" y="135.50" width="16.00" height="22.70" fill="#f4aaaa"/>
<rect x="1190.30" y="135.50" width="16.10" height="22.70" fill="#b0b0d8"/>
<rect x="1206.40" y="135.50" width="16.60" height="22.70" fill="#ef8585"/>
<rect x="1223.00" y="135.50" width="16.30" height="22.70" fill="#6a70b8"/>
<rect x="1239.30" y="135.50" width="16.10" height="22.70" fill="#f9d4d4"/>
<rect x="1255.40" y="135.50" width="16.00" height="22.70" fill="#dcdcee"/>
<rect x="1271.40" y="135.50" width="15.90" height="22.70" fill="#a8aad4"/>
<rect x="1287.30" y="135.50" width="17.10" height="22.70" fill="#7e82be"/>
<rect x="1304.40" y="135.50" width="15.90" height="22.70" fill="#eeeef8"/>
<rect x="1320.30" y="135.50" width="16.10" height="22.70" fill="#5a62ae"/>
<rect x="1336.40" y="135.50" width="15.90" height="22.70" fill="#9496c8"/>
<rect x="1352.30" y="135.50" width="17.00" height="22.70" fill="#8084c0"/>
<rect x="1369.30" y="135.50" width="16.10" height="22.70" fill="#f9d6d6"/>
<rect x="1385.40" y="135.50" width="16.00" height="22.70" fill="#5e66b0"/>
<rect x="1401.40" y="135.50" width="15.90" height="22.70" fill="#d4d4ea"/>
<rect x="1417.30" y="135.50" width="17.40" height="22.70" fill="#bcbcde"/>
<rect x="1174.30" y="158.20" width="16.00" height="22.00" fill="#f6b8b8"/>
<rect x="1190.30" y="158.20" width="16.10" height="22.00" fill="#acaed6"/>
<rect x="1206.40" y="158.20" width="16.60" height="22.00" fill="#ef8585"/>
<rect x="1223.00" y="158.20" width="16.30" height="22.00" fill="#9898cc"/>
<rect x="1239.30" y="158.20" width="16.10" height="22.00" fill="#f2a8a8"/>
<rect x="1255.40" y="158.20" width="16.00" height="22.00" fill="#fdf0f0"/>
<rect x="1271.40" y="158.20" width="15.90" height="22.00" fill="#dcdcee"/>
<rect x="1287.30" y="158.20" width="17.10" height="22.00" fill="#8084c0"/>
<rect x="1304.40" y="158.20" width="15.90" height="22.00" fill="#e8e8f4"/>
<rect x="1320.30" y="158.20" width="16.10" height="22.00" fill="#8a8ec6"/>
<rect x="1336.40" y="158.20" width="15.90" height="22.00" fill="#7a7ebe"/>
<rect x="1352.30" y="158.20" width="17.00" height="22.00" fill="#9898cc"/>
<rect x="1369.30" y="158.20" width="16.10" height="22.00" fill="#fce4e4"/>
<rect x="1385.40" y="158.20" width="16.00" height="22.00" fill="#6a70b8"/>
<rect x="1401.40" y="158.20" width="15.90" height="22.00" fill="#dcdcee"/>
<rect x="1417.30" y="158.20" width="17.40" height="22.00" fill="#a0a2d0"/>
<rect x="1174.30" y="180.20" width="16.00" height="21.80" fill="#f4b0b0"/>
<rect x="1190.30" y="180.20" width="16.10" height="21.80" fill="#cacae4"/>
<rect x="1206.40" y="180.20" width="16.60" height="21.80" fill="#ec7070"/>
<rect x="1223.00" y="180.20" width="16.30" height="21.80" fill="#8084c0"/>
<rect x="1239.30" y="180.20" width="16.10" height="21.80" fill="#f9d8d8"/>
<rect x="1255.40" y="180.20" width="16.00" height="21.80" fill="#e4e4f2"/>
<rect x="1271.40" y="180.20" width="15.90" height="21.80" fill="#d0d0e8"/>
<rect x="1287.30" y="180.20" width="17.10" height="21.80" fill="#6068b2"/>
<rect x="1304.40" y="180.20" width="15.90" height="21.80" fill="#d0d0e8"/>
<rect x="1320.30" y="180.20" width="16.10" height="21.80" fill="#9c9ece"/>
<rect x="1336.40" y="180.20" width="15.90" height="21.80" fill="#6a70b8"/>
<rect x="1352.30" y="180.20" width="17.00" height="21.80" fill="#8084c0"/>
<rect x="1369.30" y="180.20" width="16.10" height="21.80" fill="#f9d6d6"/>
<rect x="1385.40" y="180.20" width="16.00" height="21.80" fill="#4a58a6"/>
<rect x="1401.40" y="180.20" width="15.90" height="21.80" fill="#d0d0e8"/>
<rect x="1417.30" y="180.20" width="17.40" height="21.80" fill="#bcbcde"/>
<rect x="1174.30" y="202.00" width="16.00" height="22.00" fill="#ea7272"/>
<rect x="1190.30" y="202.00" width="16.10" height="22.00" fill="#ffffff"/>
<rect x="1206.40" y="202.00" width="16.60" height="22.00" fill="#ea6a6e"/>
<rect x="1223.00" y="202.00" width="16.30" height="22.00" fill="#7e82be"/>
<rect x="1239.30" y="202.00" width="16.10" height="22.00" fill="#fcfcfe"/>
<rect x="1255.40" y="202.00" width="16.00" height="22.00" fill="#cccce6"/>
<rect x="1271.40" y="202.00" width="15.90" height="22.00" fill="#fffcfc"/>
<rect x="1287.30" y="202.00" width="17.10" height="22.00" fill="#5058a8"/>
<rect x="1304.40" y="202.00" width="15.90" height="22.00" fill="#b4b4da"/>
<rect x="1320.30" y="202.00" width="16.10" height="22.00" fill="#c8c8e4"/>
<rect x="1336.40" y="202.00" width="15.90" height="22.00" fill="#5a62ae"/>
<rect x="1352.30" y="202.00" width="17.00" height="22.00" fill="#5058a8"/>
<rect x="1369.30" y="202.00" width="16.10" height="22.00" fill="#fefcfa"/>
<rect x="1385.40" y="202.00" width="16.00" height="22.00" fill="#3a4ea0"/>
<rect x="1401.40" y="202.00" width="15.90" height="22.00" fill="#acaed6"/>
<rect x="1417.30" y="202.00" width="17.40" height="22.00" fill="#acaed6"/>
<rect x="1174.30" y="224.00" width="16.00" height="22.30" fill="#ef8585"/>
<rect x="1190.30" y="224.00" width="16.10" height="22.30" fill="#f4f4fa"/>
<rect x="1206.40" y="224.00" width="16.60" height="22.30" fill="#ec7474"/>
<rect x="1223.00" y="224.00" width="16.30" height="22.30" fill="#8084c0"/>
<rect x="1239.30" y="224.00" width="16.10" height="22.30" fill="#f0f0f8"/>
<rect x="1255.40" y="224.00" width="16.00" height="22.30" fill="#d4d4ea"/>
<rect x="1271.40" y="224.00" width="15.90" height="22.30" fill="#fff8f6"/>
<rect x="1287.30" y="224.00" width="17.10" height="22.30" fill="#5058a8"/>
<rect x="1304.40" y="224.00" width="15.90" height="22.30" fill="#b4b4da"/>
<rect x="1320.30" y="224.00" width="16.10" height="22.30" fill="#dadaee"/>
<rect x="1336.40" y="224.00" width="15.90" height="22.30" fill="#5a62ae"/>
<rect x="1352.30" y="224.00" width="17.00" height="22.30" fill="#5a62ae"/>
<rect x="1369.30" y="224.00" width="16.10" height="22.30" fill="#fff4f2"/>
<rect x="1385.40" y="224.00" width="16.00" height="22.30" fill="#3a4ea0"/>
<rect x="1401.40" y="224.00" width="15.90" height="22.30" fill="#b4b4da"/>
<rect x="1417.30" y="224.00" width="17.40" height="22.30" fill="#b4b4da"/>
<rect x="1174.30" y="246.30" width="16.00" height="21.80" fill="#fcf0ee"/>
<rect x="1190.30" y="246.30" width="16.10" height="21.80" fill="#9c9ece"/>
<rect x="1206.40" y="246.30" width="16.60" height="21.80" fill="#f2a0a0"/>
<rect x="1223.00" y="246.30" width="16.30" height="21.80" fill="#aaacd4"/>
<rect x="1239.30" y="246.30" width="16.10" height="21.80" fill="#f9d4d4"/>
<rect x="1255.40" y="246.30" width="16.00" height="21.80" fill="#f8cccc"/>
<rect x="1271.40" y="246.30" width="15.90" height="21.80" fill="#f0f0f8"/>
<rect x="1287.30" y="246.30" width="17.10" height="21.80" fill="#5058a8"/>
<rect x="1304.40" y="246.30" width="15.90" height="21.80" fill="#b0b0d8"/>
<rect x="1320.30" y="246.30" width="16.10" height="21.80" fill="#dcdcee"/>
<rect x="1336.40" y="246.30" width="15.90" height="21.80" fill="#9a9ccc"/>
<rect x="1352.30" y="246.30" width="17.00" height="21.80" fill="#aaacd4"/>
<rect x="1369.30" y="246.30" width="16.10" height="21.80" fill="#fad8d8"/>
<rect x="1385.40" y="246.30" width="16.00" height="21.80" fill="#5e66b0"/>
<rect x="1401.40" y="246.30" width="15.90" height="21.80" fill="#d4d4ea"/>
<rect x="1417.30" y="246.30" width="17.40" height="21.80" fill="#a0a2d0"/>
<rect x="1174.30" y="268.10" width="16.00" height="22.30" fill="#fdf2f0"/>
<rect x="1190.30" y="268.10" width="16.10" height="22.30" fill="#9c9ece"/>
<rect x="1206.40" y="268.10" width="16.60" height="22.30" fill="#f2a0a0"/>
<rect x="1223.00" y="268.10" width="16.30" height="22.30" fill="#aaacd4"/>
<rect x="1239.30" y="268.10" width="16.10" height="22.30" fill="#f9d4d4"/>
<rect x="1255.40" y="268.10" width="16.00" height="22.30" fill="#f8cccc"/>
<rect x="1271.40" y="268.10" width="15.90" height="22.30" fill="#f0f0f8"/>
<rect x="1287.30" y="268.10" width="17.10" height="22.30" fill="#5058a8"/>
<rect x="1304.40" y="268.10" width="15.90" height="22.30" fill="#b0b0d8"/>
<rect x="1320.30" y="268.10" width="16.10" height="22.30" fill="#dcdcee"/>
<rect x="1336.40" y="268.10" width="15.90" height="22.30" fill="#9a9ccc"/>
<rect x="1352.30" y="268.10" width="17.00" height="22.30" fill="#aaacd4"/>
<rect x="1369.30" y="268.10" width="16.10" height="22.30" fill="#fad8d8"/>
<rect x="1385.40" y="268.10" width="16.00" height="22.30" fill="#5e66b0"/>
<rect x="1401.40" y="268.10" width="15.90" height="22.30" fill="#d4d4ea"/>
<rect x="1417.30" y="268.10" width="17.40" height="22.30" fill="#a0a2d0"/>
<rect x="1174.30" y="290.40" width="16.00" height="22.60" fill="#fdf2f0"/>
<rect x="1190.30" y="290.40" width="16.10" height="22.60" fill="#9c9ece"/>
<rect x="1206.40" y="290.40" width="16.60" height="22.60" fill="#f2a0a0"/>
<rect x="1223.00" y="290.40" width="16.30" height="22.60" fill="#aaacd4"/>
<rect x="1239.30" y="290.40" width="16.10" height="22.60" fill="#f9d4d4"/>
<rect x="1255.40" y="290.40" width="16.00" height="22.60" fill="#f8cccc"/>
<rect x="1271.40" y="290.40" width="15.90" height="22.60" fill="#f0f0f8"/>
<rect x="1287.30" y="290.40" width="17.10" height="22.60" fill="#5058a8"/>
<rect x="1304.40" y="290.40" width="15.90" height="22.60" fill="#b0b0d8"/>
<rect x="1320.30" y="290.40" width="16.10" height="22.60" fill="#dcdcee"/>
<rect x="1336.40" y="290.40" width="15.90" height="22.60" fill="#9a9ccc"/>
<rect x="1352.30" y="290.40" width="17.00" height="22.60" fill="#aaacd4"/>
<rect x="1369.30" y="290.40" width="16.10" height="22.60" fill="#fad8d8"/>
<rect x="1385.40" y="290.40" width="16.00" height="22.60" fill="#5e66b0"/>
<rect x="1401.40" y="290.40" width="15.90" height="22.60" fill="#d4d4ea"/>
<rect x="1417.30" y="290.40" width="17.40" height="22.60" fill="#a0a2d0"/>
<rect x="1174.30" y="313.00" width="16.00" height="21.80" fill="#ec7070"/>
<rect x="1190.30" y="313.00" width="16.10" height="21.80" fill="#fde0e0"/>
<rect x="1206.40" y="313.00" width="16.60" height="21.80" fill="#e84040"/>
<rect x="1223.00" y="313.00" width="16.30" height="21.80" fill="#7e82be"/>
<rect x="1239.30" y="313.00" width="16.10" height="21.80" fill="#fdf2f0"/>
<rect x="1255.40" y="313.00" width="16.00" height="21.80" fill="#d0d0e8"/>
<rect x="1271.40" y="313.00" width="15.90" height="21.80" fill="#f8c8c8"/>
<rect x="1287.30" y="313.00" width="17.10" height="21.80" fill="#3048a0"/>
<rect x="1304.40" y="313.00" width="15.90" height="21.80" fill="#cacae6"/>
<rect x="1320.30" y="313.00" width="16.10" height="21.80" fill="#aeb0d6"/>
<rect x="1336.40" y="313.00" width="15.90" height="21.80" fill="#4a56a6"/>
<rect x="1352.30" y="313.00" width="17.00" height="21.80" fill="#6068b2"/>
<rect x="1369.30" y="313.00" width="16.10" height="21.80" fill="#d4d4ea"/>
<rect x="1385.40" y="313.00" width="16.00" height="21.80" fill="#3048a0"/>
<rect x="1401.40" y="313.00" width="15.90" height="21.80" fill="#8a8ec6"/>
<rect x="1417.30" y="313.00" width="17.40" height="21.80" fill="#5058a8"/>
<rect x="1174.30" y="334.80" width="16.00" height="22.20" fill="#e4e4f2"/>
<rect x="1190.30" y="334.80" width="16.10" height="22.20" fill="#6a70b8"/>
<rect x="1206.40" y="334.80" width="16.60" height="22.20" fill="#e4e4f2"/>
<rect x="1223.00" y="334.80" width="16.30" height="22.20" fill="#7e82be"/>
<rect x="1239.30" y="334.80" width="16.10" height="22.20" fill="#fffdfc"/>
<rect x="1255.40" y="334.80" width="16.00" height="22.20" fill="#cacae6"/>
<rect x="1271.40" y="334.80" width="15.90" height="22.20" fill="#5a62ae"/>
<rect x="1287.30" y="334.80" width="17.10" height="22.20" fill="#d0d0e8"/>
<rect x="1304.40" y="334.80" width="15.90" height="22.20" fill="#c0c0e0"/>
<rect x="1320.30" y="334.80" width="16.10" height="22.20" fill="#6068b2"/>
<rect x="1336.40" y="334.80" width="15.90" height="22.20" fill="#e4e4f2"/>
<rect x="1352.30" y="334.80" width="17.00" height="22.20" fill="#9496c8"/>
<rect x="1369.30" y="334.80" width="16.10" height="22.20" fill="#f09292"/>
<rect x="1385.40" y="334.80" width="16.00" height="22.20" fill="#dcdcee"/>
<rect x="1401.40" y="334.80" width="15.90" height="22.20" fill="#f8c4c4"/>
<rect x="1417.30" y="334.80" width="17.40" height="22.20" fill="#f6b8b8"/>
<rect x="1174.30" y="357.00" width="16.00" height="21.80" fill="#fdf2f0"/>
<rect x="1190.30" y="357.00" width="16.10" height="21.80" fill="#aaacd4"/>
<rect x="1206.40" y="357.00" width="16.60" height="21.80" fill="#dadaee"/>
<rect x="1223.00" y="357.00" width="16.30" height="21.80" fill="#bcbcde"/>
<rect x="1239.30" y="357.00" width="16.10" height="21.80" fill="#f9d4d4"/>
<rect x="1255.40" y="357.00" width="16.00" height="21.80" fill="#f8cccc"/>
<rect x="1271.40" y="357.00" width="15.90" height="21.80" fill="#6a70b8"/>
<rect x="1287.30" y="357.00" width="17.10" height="21.80" fill="#e8e8f4"/>
<rect x="1304.40" y="357.00" width="15.90" height="21.80" fill="#f9d0d0"/>
<rect x="1320.30" y="357.00" width="16.10" height="21.80" fill="#7276ba"/>
<rect x="1336.40" y="357.00" width="15.90" height="21.80" fill="#7a7ebe"/>
<rect x="1352.30" y="357.00" width="17.00" height="21.80" fill="#e8e8f4"/>
<rect x="1369.30" y="357.00" width="16.10" height="21.80" fill="#f4a8a8"/>
<rect x="1385.40" y="357.00" width="16.00" height="21.80" fill="#dcdcee"/>
<rect x="1401.40" y="357.00" width="15.90" height="21.80" fill="#fde8e6"/>
<rect x="1417.30" y="357.00" width="17.40" height="21.80" fill="#fff4f2"/>
<rect x="1174.30" y="378.80" width="16.00" height="22.50" fill="#f4a4a4"/>
<rect x="1190.30" y="378.80" width="16.10" height="22.50" fill="#eaeaf6"/>
<rect x="1206.40" y="378.80" width="16.60" height="22.50" fill="#ef7c7c"/>
<rect x="1223.00" y="378.80" width="16.30" height="22.50" fill="#7e82be"/>
<rect x="1239.30" y="378.80" width="16.10" height="22.50" fill="#fdf0ee"/>
<rect x="1255.40" y="378.80" width="16.00" height="22.50" fill="#e8e8f4"/>
<rect x="1271.40" y="378.80" width="15.90" height="22.50" fill="#c8c8e4"/>
<rect x="1287.30" y="378.80" width="17.10" height="22.50" fill="#7a7ebe"/>
<rect x="1304.40" y="378.80" width="15.90" height="22.50" fill="#d4d4ea"/>
<rect x="1320.30" y="378.80" width="16.10" height="22.50" fill="#9a9ccc"/>
<rect x="1336.40" y="378.80" width="15.90" height="22.50" fill="#7a7ebe"/>
<rect x="1352.30" y="378.80" width="17.00" height="22.50" fill="#8084c0"/>
<rect x="1369.30" y="378.80" width="16.10" height="22.50" fill="#f6b8b8"/>
<rect x="1385.40" y="378.80" width="16.00" height="22.50" fill="#6a70b8"/>
<rect x="1401.40" y="378.80" width="15.90" height="22.50" fill="#e4e4f2"/>
<rect x="1417.30" y="378.80" width="17.40" height="22.50" fill="#bcbcde"/>
<rect x="1174.30" y="401.30" width="16.00" height="21.80" fill="#fce6e4"/>
<rect x="1190.30" y="401.30" width="16.10" height="21.80" fill="#f0f0f8"/>
<rect x="1206.40" y="401.30" width="16.60" height="21.80" fill="#f09696"/>
<rect x="1223.00" y="401.30" width="16.30" height="21.80" fill="#bcbcde"/>
<rect x="1239.30" y="401.30" width="16.10" height="21.80" fill="#f8c8c8"/>
<rect x="1255.40" y="401.30" width="16.00" height="21.80" fill="#fdf0ee"/>
<rect x="1271.40" y="401.30" width="15.90" height="21.80" fill="#dadaee"/>
<rect x="1287.30" y="401.30" width="17.10" height="21.80" fill="#a4a6d2"/>
<rect x="1304.40" y="401.30" width="15.90" height="21.80" fill="#fdf0ee"/>
<rect x="1320.30" y="401.30" width="16.10" height="21.80" fill="#aaacd4"/>
<rect x="1336.40" y="401.30" width="15.90" height="21.80" fill="#8a8ec6"/>
<rect x="1352.30" y="401.30" width="17.00" height="21.80" fill="#dcdcee"/>
<rect x="1369.30" y="401.30" width="16.10" height="21.80" fill="#f6b8b8"/>
<rect x="1385.40" y="401.30" width="16.00" height="21.80" fill="#9496c8"/>
<rect x="1401.40" y="401.30" width="15.90" height="21.80" fill="#fde8e6"/>
<rect x="1417.30" y="401.30" width="17.40" height="21.80" fill="#e8e8f4"/>
<rect x="1174.30" y="423.10" width="16.00" height="21.90" fill="#f6c0c0"/>
<rect x="1190.30" y="423.10" width="16.10" height="21.90" fill="#acaed6"/>
<rect x="1206.40" y="423.10" width="16.60" height="21.90" fill="#f08a8a"/>
<rect x="1223.00" y="423.10" width="16.30" height="21.90" fill="#9a9ccc"/>
<rect x="1239.30" y="423.10" width="16.10" height="21.90" fill="#f4b0b0"/>
<rect x="1255.40" y="423.10" width="16.00" height="21.90" fill="#fdf0ee"/>
<rect x="1271.40" y="423.10" width="15.90" height="21.90" fill="#acaed6"/>
<rect x="1287.30" y="423.10" width="17.10" height="21.90" fill="#9a9ccc"/>
<rect x="1304.40" y="423.10" width="15.90" height="21.90" fill="#fdf0ee"/>
<rect x="1320.30" y="423.10" width="16.10" height="21.90" fill="#7276ba"/>
<rect x="1336.40" y="423.10" width="15.90" height="21.90" fill="#9496c8"/>
<rect x="1352.30" y="423.10" width="17.00" height="21.90" fill="#9496c8"/>
<rect x="1369.30" y="423.10" width="16.10" height="21.90" fill="#fad8d8"/>
<rect x="1385.40" y="423.10" width="16.00" height="21.90" fill="#5a62ae"/>
<rect x="1401.40" y="423.10" width="15.90" height="21.90" fill="#e4e4f2"/>
<rect x="1417.30" y="423.10" width="17.40" height="21.90" fill="#9a9ccc"/>
<rect x="1174.30" y="445.00" width="16.00" height="23.00" fill="#fff4f2"/>
<rect x="1190.30" y="445.00" width="16.10" height="23.00" fill="#9c9ece"/>
<rect x="1206.40" y="445.00" width="16.60" height="23.00" fill="#fbdada"/>
<rect x="1223.00" y="445.00" width="16.30" height="23.00" fill="#9a9ccc"/>
<rect x="1239.30" y="445.00" width="16.10" height="23.00" fill="#f4b4b4"/>
<rect x="1255.40" y="445.00" width="16.00" height="23.00" fill="#fdeee8"/>
<rect x="1271.40" y="445.00" width="15.90" height="23.00" fill="#9c9ece"/>
<rect x="1287.30" y="445.00" width="17.10" height="23.00" fill="#c8c8e4"/>
<rect x="1304.40" y="445.00" width="15.90" height="23.00" fill="#fdf0ee"/>
<rect x="1320.30" y="445.00" width="16.10" height="23.00" fill="#5058a8"/>
<rect x="1336.40" y="445.00" width="15.90" height="23.00" fill="#a4a6d2"/>
<rect x="1352.30" y="445.00" width="17.00" height="23.00" fill="#cacae6"/>
<rect x="1369.30" y="445.00" width="16.10" height="23.00" fill="#fad8d8"/>
<rect x="1385.40" y="445.00" width="16.00" height="23.00" fill="#9a9ccc"/>
<rect x="1401.40" y="445.00" width="15.90" height="23.00" fill="#fde8e6"/>
<rect x="1417.30" y="445.00" width="17.40" height="23.00" fill="#bcbcde"/>
<rect x="1174.30" y="468.00" width="16.00" height="21.80" fill="#fff4f2"/>
<rect x="1190.30" y="468.00" width="16.10" height="21.80" fill="#e85050"/>
<rect x="1206.40" y="468.00" width="16.60" height="21.80" fill="#fdf0ee"/>
<rect x="1223.00" y="468.00" width="16.30" height="21.80" fill="#e4e4f2"/>
<rect x="1239.30" y="468.00" width="16.10" height="21.80" fill="#9496c8"/>
<rect x="1255.40" y="468.00" width="16.00" height="21.80" fill="#6a70b8"/>
<rect x="1271.40" y="468.00" width="15.90" height="21.80" fill="#e84848"/>
<rect x="1287.30" y="468.00" width="17.10" height="21.80" fill="#9496c8"/>
<rect x="1304.40" y="468.00" width="15.90" height="21.80" fill="#6a70b8"/>
<rect x="1320.30" y="468.00" width="16.10" height="21.80" fill="#f8c4c4"/>
<rect x="1336.40" y="468.00" width="15.90" height="21.80" fill="#9c9ece"/>
<rect x="1352.30" y="468.00" width="17.00" height="21.80" fill="#9c9ece"/>
<rect x="1369.30" y="468.00" width="16.10" height="21.80" fill="#ecebf6"/>
<rect x="1385.40" y="468.00" width="16.00" height="21.80" fill="#7a7ebe"/>
<rect x="1401.40" y="468.00" width="15.90" height="21.80" fill="#c0c0e0"/>
<rect x="1417.30" y="468.00" width="17.40" height="21.80" fill="#f4f4fa"/>
<rect x="1174.30" y="489.80" width="16.00" height="22.20" fill="#6a70b8"/>
<rect x="1190.30" y="489.80" width="16.10" height="22.20" fill="#a0a2d0"/>
<rect x="1206.40" y="489.80" width="16.60" height="22.20" fill="#9496c8"/>
<rect x="1223.00" y="489.80" width="16.30" height="22.20" fill="#f8c8c8"/>
<rect x="1239.30" y="489.80" width="16.10" height="22.20" fill="#ef8585"/>
<rect x="1255.40" y="489.80" width="16.00" height="22.20" fill="#f0f0f8"/>
<rect x="1271.40" y="489.80" width="15.90" height="22.20" fill="#b4b4da"/>
<rect x="1287.30" y="489.80" width="17.10" height="22.20" fill="#f4acac"/>
<rect x="1304.40" y="489.80" width="15.90" height="22.20" fill="#ef8585"/>
<rect x="1320.30" y="489.80" width="16.10" height="22.20" fill="#5e66b0"/>
<rect x="1336.40" y="489.80" width="15.90" height="22.20" fill="#fefefe"/>
<rect x="1352.30" y="489.80" width="17.00" height="22.20" fill="#d4d4ea"/>
<rect x="1369.30" y="489.80" width="16.10" height="22.20" fill="#c4c4e2"/>
<rect x="1385.40" y="489.80" width="16.00" height="22.20" fill="#ffffff"/>
<rect x="1401.40" y="489.80" width="15.90" height="22.20" fill="#e4e4f2"/>
<rect x="1417.30" y="489.80" width="17.40" height="22.20" fill="#e0e0f0"/>
<rect x="1174.30" y="512.00" width="16.00" height="21.80" fill="#fef2f0"/>
<rect x="1190.30" y="512.00" width="16.10" height="21.80" fill="#ec6c6c"/>
<rect x="1206.40" y="512.00" width="16.60" height="21.80" fill="#fef2f0"/>
<rect x="1223.00" y="512.00" width="16.30" height="21.80" fill="#ececf6"/>
<rect x="1239.30" y="512.00" width="16.10" height="21.80" fill="#a8aad4"/>
<rect x="1255.40" y="512.00" width="16.00" height="21.80" fill="#8084c0"/>
<rect x="1271.40" y="512.00" width="15.90" height="21.80" fill="#ec6c6c"/>
<rect x="1287.30" y="512.00" width="17.10" height="21.80" fill="#7276ba"/>
<rect x="1304.40" y="512.00" width="15.90" height="21.80" fill="#8084c0"/>
<rect x="1320.30" y="512.00" width="16.10" height="21.80" fill="#c8c8e4"/>
<rect x="1336.40" y="512.00" width="15.90" height="21.80" fill="#dcdcee"/>
<rect x="1352.30" y="512.00" width="17.00" height="21.80" fill="#f6c0c0"/>
<rect x="1369.30" y="512.00" width="16.10" height="21.80" fill="#2e4aa0"/>
<rect x="1385.40" y="512.00" width="16.00" height="21.80" fill="#f9dcdc"/>
<rect x="1401.40" y="512.00" width="15.90" height="21.80" fill="#fffcfa"/>
<rect x="1417.30" y="512.00" width="17.40" height="21.80" fill="#9496c8"/>
<rect x="1174.30" y="533.80" width="16.00" height="22.00" fill="#eeeef8"/>
<rect x="1190.30" y="533.80" width="16.10" height="22.00" fill="#f4b0b0"/>
<rect x="1206.40" y="533.80" width="16.60" height="22.00" fill="#f4b0b0"/>
<rect x="1223.00" y="533.80" width="16.30" height="22.00" fill="#b8b8dc"/>
<rect x="1239.30" y="533.80" width="16.10" height="22.00" fill="#f8f8fc"/>
<rect x="1255.40" y="533.80" width="16.00" height="22.00" fill="#9a9ccc"/>
<rect x="1271.40" y="533.80" width="15.90" height="22.00" fill="#f09494"/>
<rect x="1287.30" y="533.80" width="17.10" height="22.00" fill="#3a4ea0"/>
<rect x="1304.40" y="533.80" width="15.90" height="22.00" fill="#fadcdc"/>
<rect x="1320.30" y="533.80" width="16.10" height="22.00" fill="#f9dcdc"/>
<rect x="1336.40" y="533.80" width="15.90" height="22.00" fill="#b4b4da"/>
<rect x="1352.30" y="533.80" width="17.00" height="22.00" fill="#acaed6"/>
<rect x="1369.30" y="533.80" width="16.10" height="22.00" fill="#6068b2"/>
<rect x="1385.40" y="533.80" width="16.00" height="22.00" fill="#6068b2"/>
<rect x="1401.40" y="533.80" width="15.90" height="22.00" fill="#bcbcde"/>
<rect x="1417.30" y="533.80" width="17.40" height="22.00" fill="#8a8ec6"/>
<rect x="1174.30" y="555.80" width="16.00" height="22.30" fill="#e61e1e"/>
<rect x="1190.30" y="555.80" width="16.10" height="22.30" fill="#e61e1e"/>
<rect x="1206.40" y="555.80" width="16.60" height="22.30" fill="#e62222"/>
<rect x="1223.00" y="555.80" width="16.30" height="22.30" fill="#acaed6"/>
<rect x="1239.30" y="555.80" width="16.10" height="22.30" fill="#9496c8"/>
<rect x="1255.40" y="555.80" width="16.00" height="22.30" fill="#7276ba"/>
<rect x="1271.40" y="555.80" width="15.90" height="22.30" fill="#ea5c5c"/>
<rect x="1287.30" y="555.80" width="17.10" height="22.30" fill="#3a4ea0"/>
<rect x="1304.40" y="555.80" width="15.90" height="22.30" fill="#3a4ea0"/>
<rect x="1320.30" y="555.80" width="16.10" height="22.30" fill="#f29c9c"/>
<rect x="1336.40" y="555.80" width="15.90" height="22.30" fill="#8a8ec6"/>
<rect x="1352.30" y="555.80" width="17.00" height="22.30" fill="#5058a8"/>
<rect x="1369.30" y="555.80" width="16.10" height="22.30" fill="#7276ba"/>
<rect x="1385.40" y="555.80" width="16.00" height="22.30" fill="#3e50a2"/>
<rect x="1401.40" y="555.80" width="15.90" height="22.30" fill="#4050a2"/>
<rect x="1417.30" y="555.80" width="17.40" height="22.30" fill="#7276ba"/>
<rect x="1174.30" y="578.10" width="16.00" height="21.80" fill="#acaed6"/>
<rect x="1190.30" y="578.10" width="16.10" height="21.80" fill="#f8c8c8"/>
<rect x="1206.40" y="578.10" width="16.60" height="21.80" fill="#f8cccc"/>
<rect x="1223.00" y="578.10" width="16.30" height="21.80" fill="#e4e4f2"/>
<rect x="1239.30" y="578.10" width="16.10" height="21.80" fill="#9a9ccc"/>
<rect x="1255.40" y="578.10" width="16.00" height="21.80" fill="#a0a2d0"/>
<rect x="1271.40" y="578.10" width="15.90" height="21.80" fill="#fbe0e0"/>
<rect x="1287.30" y="578.10" width="17.10" height="21.80" fill="#f4acac"/>
<rect x="1304.40" y="578.10" width="15.90" height="21.80" fill="#fde8e6"/>
<rect x="1320.30" y="578.10" width="16.10" height="21.80" fill="#f4b4b4"/>
<rect x="1336.40" y="578.10" width="15.90" height="21.80" fill="#ef8585"/>
<rect x="1352.30" y="578.10" width="17.00" height="21.80" fill="#f09898"/>
<rect x="1369.30" y="578.10" width="16.10" height="21.80" fill="#b4b4da"/>
<rect x="1385.40" y="578.10" width="16.00" height="21.80" fill="#f4a8a8"/>
<rect x="1401.40" y="578.10" width="15.90" height="21.80" fill="#ea5c5c"/>
<rect x="1417.30" y="578.10" width="17.40" height="21.80" fill="#e8e8f4"/>
<rect x="1174.30" y="599.90" width="16.00" height="22.90" fill="#f4a4a4"/>
<rect x="1190.30" y="599.90" width="16.10" height="22.90" fill="#e84848"/>
<rect x="1206.40" y="599.90" width="16.60" height="22.90" fill="#f0f0f8"/>
<rect x="1223.00" y="599.90" width="16.30" height="22.90" fill="#f8c8c8"/>
<rect x="1239.30" y="599.90" width="16.10" height="22.90" fill="#d8d8ec"/>
<rect x="1255.40" y="599.90" width="16.00" height="22.90" fill="#e4e4f2"/>
<rect x="1271.40" y="599.90" width="15.90" height="22.90" fill="#f09494"/>
<rect x="1287.30" y="599.90" width="17.10" height="22.90" fill="#5a62ae"/>
<rect x="1304.40" y="599.90" width="15.90" height="22.90" fill="#9496c8"/>
<rect x="1320.30" y="599.90" width="16.10" height="22.90" fill="#ef8080"/>
<rect x="1336.40" y="599.90" width="15.90" height="22.90" fill="#8a8ec6"/>
<rect x="1352.30" y="599.90" width="17.00" height="22.90" fill="#f4a4a4"/>
<rect x="1369.30" y="599.90" width="16.10" height="22.90" fill="#6068b2"/>
<rect x="1385.40" y="599.90" width="16.00" height="22.90" fill="#e4e4f2"/>
<rect x="1401.40" y="599.90" width="15.90" height="22.90" fill="#a8aad4"/>
<rect x="1417.30" y="599.90" width="17.40" height="22.90" fill="#c4c4e2"/>
<rect x="1174.30" y="622.80" width="16.00" height="22.50" fill="#8a8ec6"/>
<rect x="1190.30" y="622.80" width="16.10" height="22.50" fill="#d8d8ec"/>
<rect x="1206.40" y="622.80" width="16.60" height="22.50" fill="#a0a2d0"/>
<rect x="1223.00" y="622.80" width="16.30" height="22.50" fill="#ef8585"/>
<rect x="1239.30" y="622.80" width="16.10" height="22.50" fill="#ffffff"/>
<rect x="1255.40" y="622.80" width="16.00" height="22.50" fill="#9496c8"/>
<rect x="1271.40" y="622.80" width="15.90" height="22.50" fill="#b8b8dc"/>
<rect x="1287.30" y="622.80" width="17.10" height="22.50" fill="#fde8e6"/>
<rect x="1304.40" y="622.80" width="15.90" height="22.50" fill="#f29c9c"/>
<rect x="1320.30" y="622.80" width="16.10" height="22.50" fill="#bcbcde"/>
<rect x="1336.40" y="622.80" width="15.90" height="22.50" fill="#e4e4f2"/>
<rect x="1352.30" y="622.80" width="17.00" height="22.50" fill="#f8c4c4"/>
<rect x="1369.30" y="622.80" width="16.10" height="22.50" fill="#8084c0"/>
<rect x="1385.40" y="622.80" width="16.00" height="22.50" fill="#f8c4c4"/>
<rect x="1401.40" y="622.80" width="15.90" height="22.50" fill="#f4a8a8"/>
<rect x="1417.30" y="622.80" width="17.40" height="22.50" fill="#acaed6"/>
<rect x="1174.30" y="645.30" width="16.00" height="21.80" fill="#3a4ea0"/>
<rect x="1190.30" y="645.30" width="16.10" height="21.80" fill="#3a4ea0"/>
<rect x="1206.40" y="645.30" width="16.60" height="21.80" fill="#7a7ebe"/>
<rect x="1223.00" y="645.30" width="16.30" height="21.80" fill="#ef8585"/>
<rect x="1239.30" y="645.30" width="16.10" height="21.80" fill="#f4acac"/>
<rect x="1255.40" y="645.30" width="16.00" height="21.80" fill="#f4b0b0"/>
<rect x="1271.40" y="645.30" width="15.90" height="21.80" fill="#4a56a6"/>
<rect x="1287.30" y="645.30" width="17.10" height="21.80" fill="#ec6464"/>
<rect x="1304.40" y="645.30" width="15.90" height="21.80" fill="#ea5858"/>
<rect x="1320.30" y="645.30" width="16.10" height="21.80" fill="#9a9ccc"/>
<rect x="1336.40" y="645.30" width="15.90" height="21.80" fill="#f8c8c8"/>
<rect x="1352.30" y="645.30" width="17.00" height="21.80" fill="#f6c0c0"/>
<rect x="1369.30" y="645.30" width="16.10" height="21.80" fill="#ec6c6c"/>
<rect x="1385.40" y="645.30" width="16.00" height="21.80" fill="#f4a4a4"/>
<rect x="1401.40" y="645.30" width="15.90" height="21.80" fill="#ef8080"/>
<rect x="1417.30" y="645.30" width="17.40" height="21.80" fill="#9496c8"/>
<rect x="1174.30" y="667.10" width="16.00" height="22.20" fill="#acaed6"/>
<rect x="1190.30" y="667.10" width="16.10" height="22.20" fill="#f6c0c0"/>
<rect x="1206.40" y="667.10" width="16.60" height="22.20" fill="#f0f0f8"/>
<rect x="1223.00" y="667.10" width="16.30" height="22.20" fill="#ffffff"/>
<rect x="1239.30" y="667.10" width="16.10" height="22.20" fill="#f4a8a8"/>
<rect x="1255.40" y="667.10" width="16.00" height="22.20" fill="#f4acac"/>
<rect x="1271.40" y="667.10" width="15.90" height="22.20" fill="#f4b4b4"/>
<rect x="1287.30" y="667.10" width="17.10" height="22.20" fill="#6a70b8"/>
<rect x="1304.40" y="667.10" width="15.90" height="22.20" fill="#ececf6"/>
<rect x="1320.30" y="667.10" width="16.10" height="22.20" fill="#f4f4fa"/>
<rect x="1336.40" y="667.10" width="15.90" height="22.20" fill="#9c9ece"/>
<rect x="1352.30" y="667.10" width="17.00" height="22.20" fill="#d0d0e8"/>
<rect x="1369.30" y="667.10" width="16.10" height="22.20" fill="#c8c8e4"/>
<rect x="1385.40" y="667.10" width="16.00" height="22.20" fill="#c4c4e2"/>
<rect x="1401.40" y="667.10" width="15.90" height="22.20" fill="#c4c4e2"/>
<rect x="1417.30" y="667.10" width="17.40" height="22.20" fill="#dcdcee"/>
<rect x="1174.30" y="689.30" width="16.00" height="22.20" fill="#7a7ebe"/>
<rect x="1190.30" y="689.30" width="16.10" height="22.20" fill="#8a8ec6"/>
<rect x="1206.40" y="689.30" width="16.60" height="22.20" fill="#d0d0e8"/>
<rect x="1223.00" y="689.30" width="16.30" height="22.20" fill="#cacae6"/>
<rect x="1239.30" y="689.30" width="16.10" height="22.20" fill="#f4acac"/>
<rect x="1255.40" y="689.30" width="16.00" height="22.20" fill="#ec7474"/>
<rect x="1271.40" y="689.30" width="15.90" height="22.20" fill="#9a9ccc"/>
<rect x="1287.30" y="689.30" width="17.10" height="22.20" fill="#f4f4fa"/>
<rect x="1304.40" y="689.30" width="15.90" height="22.20" fill="#fde0e0"/>
<rect x="1320.30" y="689.30" width="16.10" height="22.20" fill="#bcbcde"/>
<rect x="1336.40" y="689.30" width="15.90" height="22.20" fill="#f4f4fa"/>
<rect x="1352.30" y="689.30" width="17.00" height="22.20" fill="#f6b8b8"/>
<rect x="1369.30" y="689.30" width="16.10" height="22.20" fill="#f6c0c0"/>
<rect x="1385.40" y="689.30" width="16.00" height="22.20" fill="#f09494"/>
<rect x="1401.40" y="689.30" width="15.90" height="22.20" fill="#f09a9a"/>
<rect x="1417.30" y="689.30" width="17.40" height="22.20" fill="#f6c0c0"/>
<rect x="1174.30" y="711.50" width="16.00" height="21.80" fill="#a4a6d2"/>
<rect x="1190.30" y="711.50" width="16.10" height="21.80" fill="#f4a8a8"/>
<rect x="1206.40" y="711.50" width="16.60" height="21.80" fill="#f0f0f8"/>
<rect x="1223.00" y="711.50" width="16.30" height="21.80" fill="#f09a9a"/>
<rect x="1239.30" y="711.50" width="16.10" height="21.80" fill="#e4e4f2"/>
<rect x="1255.40" y="711.50" width="16.00" height="21.80" fill="#b0b0d8"/>
<rect x="1271.40" y="711.50" width="15.90" height="21.80" fill="#f09a9a"/>
<rect x="1287.30" y="711.50" width="17.10" height="21.80" fill="#fdeeec"/>
<rect x="1304.40" y="711.50" width="15.90" height="21.80" fill="#ffffff"/>
<rect x="1320.30" y="711.50" width="16.10" height="21.80" fill="#fde4e4"/>
<rect x="1336.40" y="711.50" width="15.90" height="21.80" fill="#fdeeec"/>
<rect x="1352.30" y="711.50" width="17.00" height="21.80" fill="#f4f4fa"/>
<rect x="1369.30" y="711.50" width="16.10" height="21.80" fill="#f4a8a8"/>
<rect x="1385.40" y="711.50" width="16.00" height="21.80" fill="#fcfcfe"/>
<rect x="1401.40" y="711.50" width="15.90" height="21.80" fill="#f6c0c0"/>
<rect x="1417.30" y="711.50" width="17.40" height="21.80" fill="#9496c8"/>
<rect x="1174.30" y="733.30" width="16.00" height="22.00" fill="#b8b8dc"/>
<rect x="1190.30" y="733.30" width="16.10" height="22.00" fill="#e4e4f2"/>
<rect x="1206.40" y="733.30" width="16.60" height="22.00" fill="#f9d4d4"/>
<rect x="1223.00" y="733.30" width="16.30" height="22.00" fill="#f4b4b4"/>
<rect x="1239.30" y="733.30" width="16.10" height="22.00" fill="#a8aad4"/>
<rect x="1255.40" y="733.30" width="16.00" height="22.00" fill="#fde0e0"/>
<rect x="1271.40" y="733.30" width="15.90" height="22.00" fill="#c8c8e4"/>
<rect x="1287.30" y="733.30" width="17.10" height="22.00" fill="#f9d6d6"/>
<rect x="1304.40" y="733.30" width="15.90" height="22.00" fill="#f6c0c0"/>
<rect x="1320.30" y="733.30" width="16.10" height="22.00" fill="#ec6464"/>
<rect x="1336.40" y="733.30" width="15.90" height="22.00" fill="#fde0e0"/>
<rect x="1352.30" y="733.30" width="17.00" height="22.00" fill="#f4b0b0"/>
<rect x="1369.30" y="733.30" width="16.10" height="22.00" fill="#a0a2d0"/>
<rect x="1385.40" y="733.30" width="16.00" height="22.00" fill="#f4b0b0"/>
<rect x="1401.40" y="733.30" width="15.90" height="22.00" fill="#fbe0e0"/>
<rect x="1417.30" y="733.30" width="17.40" height="22.00" fill="#a8aad4"/>
<rect x="1174.30" y="755.30" width="16.00" height="22.20" fill="#9496c8"/>
<rect x="1190.30" y="755.30" width="16.10" height="22.20" fill="#c4c4e2"/>
<rect x="1206.40" y="755.30" width="16.60" height="22.20" fill="#b8b8dc"/>
<rect x="1223.00" y="755.30" width="16.30" height="22.20" fill="#fde8e6"/>
<rect x="1239.30" y="755.30" width="16.10" height="22.20" fill="#b8b8dc"/>
<rect x="1255.40" y="755.30" width="16.00" height="22.20" fill="#acaed6"/>
<rect x="1271.40" y="755.30" width="15.90" height="22.20" fill="#bcbcde"/>
<rect x="1287.30" y="755.30" width="17.10" height="22.20" fill="#ffffff"/>
<rect x="1304.40" y="755.30" width="15.90" height="22.20" fill="#f8cccc"/>
<rect x="1320.30" y="755.30" width="16.10" height="22.20" fill="#ffffff"/>
<rect x="1336.40" y="755.30" width="15.90" height="22.20" fill="#f8f8fc"/>
<rect x="1352.30" y="755.30" width="17.00" height="22.20" fill="#fdeeec"/>
<rect x="1369.30" y="755.30" width="16.10" height="22.20" fill="#9496c8"/>
<rect x="1385.40" y="755.30" width="16.00" height="22.20" fill="#f0f0f8"/>
<rect x="1401.40" y="755.30" width="15.90" height="22.20" fill="#c0c0e0"/>
<rect x="1417.30" y="755.30" width="17.40" height="22.20" fill="#fefefe"/>
<rect x="1174.30" y="777.50" width="16.00" height="22.90" fill="#4a56a6"/>
<rect x="1190.30" y="777.50" width="16.10" height="22.90" fill="#9496c8"/>
<rect x="1206.40" y="777.50" width="16.60" height="22.90" fill="#3048a0"/>
<rect x="1223.00" y="777.50" width="16.30" height="22.90" fill="#f08a8a"/>
<rect x="1239.30" y="777.50" width="16.10" height="22.90" fill="#8084c0"/>
<rect x="1255.40" y="777.50" width="16.00" height="22.90" fill="#7a7ebe"/>
<rect x="1271.40" y="777.50" width="15.90" height="22.90" fill="#6a70b8"/>
<rect x="1287.30" y="777.50" width="17.10" height="22.90" fill="#fcfcfe"/>
<rect x="1304.40" y="777.50" width="15.90" height="22.90" fill="#e4e4f2"/>
<rect x="1320.30" y="777.50" width="16.10" height="22.90" fill="#8084c0"/>
<rect x="1336.40" y="777.50" width="15.90" height="22.90" fill="#9496c8"/>
<rect x="1352.30" y="777.50" width="17.00" height="22.90" fill="#f0f0f8"/>
<rect x="1369.30" y="777.50" width="16.10" height="22.90" fill="#c4c4e2"/>
<rect x="1385.40" y="777.50" width="16.00" height="22.90" fill="#acaed6"/>
<rect x="1401.40" y="777.50" width="15.90" height="22.90" fill="#9a9ccc"/>
<rect x="1417.30" y="777.50" width="17.40" height="22.90" fill="#ffffff"/>
<rect x="1174.30" y="800.40" width="16.00" height="21.80" fill="#fdf0ee"/>
<rect x="1190.30" y="800.40" width="16.10" height="21.80" fill="#7a7ebe"/>
<rect x="1206.40" y="800.40" width="16.60" height="21.80" fill="#fde0e0"/>
<rect x="1223.00" y="800.40" width="16.30" height="21.80" fill="#8084c0"/>
<rect x="1239.30" y="800.40" width="16.10" height="21.80" fill="#e4e4f2"/>
<rect x="1255.40" y="800.40" width="16.00" height="21.80" fill="#fdf0ee"/>
<rect x="1271.40" y="800.40" width="15.90" height="21.80" fill="#7276ba"/>
<rect x="1287.30" y="800.40" width="17.10" height="21.80" fill="#b0b0d8"/>
<rect x="1304.40" y="800.40" width="15.90" height="21.80" fill="#c8c8e4"/>
<rect x="1320.30" y="800.40" width="16.10" height="21.80" fill="#9a9ccc"/>
<rect x="1336.40" y="800.40" width="15.90" height="21.80" fill="#a8aad4"/>
<rect x="1352.30" y="800.40" width="17.00" height="21.80" fill="#dcdcee"/>
<rect x="1369.30" y="800.40" width="16.10" height="21.80" fill="#6a70b8"/>
<rect x="1385.40" y="800.40" width="16.00" height="21.80" fill="#c8c8e4"/>
<rect x="1401.40" y="800.40" width="15.90" height="21.80" fill="#9496c8"/>
<rect x="1417.30" y="800.40" width="17.40" height="21.80" fill="#fdf2f0"/>
<line x1="1174.30" y1="134.85" x2="1174.30" y2="822.85" stroke="#979797" stroke-width="1.3"/>
<line x1="1190.30" y1="134.85" x2="1190.30" y2="822.85" stroke="#979797" stroke-width="1.3"/>
<line x1="1206.40" y1="134.85" x2="1206.40" y2="822.85" stroke="#979797" stroke-width="1.3"/>
<line x1="1223.00" y1="134.85" x2="1223.00" y2="822.85" stroke="#979797" stroke-width="1.3"/>
<line x1="1239.30" y1="134.85" x2="1239.30" y2="822.85" stroke="#979797" stroke-width="1.3"/>
<line x1="1255.40" y1="134.85" x2="1255.40" y2="822.85" stroke="#979797" stroke-width="1.3"/>
<line x1="1271.40" y1="134.85" x2="1271.40" y2="822.85" stroke="#979797" stroke-width="1.3"/>
<line x1="1287.30" y1="134.85" x2="1287.30" y2="822.85" stroke="#979797" stroke-width="1.3"/>
<line x1="1304.40" y1="134.85" x2="1304.40" y2="822.85" stroke="#979797" stroke-width="1.3"/>
<line x1="1320.30" y1="134.85" x2="1320.30" y2="822.85" stroke="#979797" stroke-width="1.3"/>
<line x1="1336.40" y1="134.85" x2="1336.40" y2="822.85" stroke="#979797" stroke-width="1.3"/>
<line x1="1352.30" y1="134.85" x2="1352.30" y2="822.85" stroke="#979797" stroke-width="1.3"/>
<line x1="1369.30" y1="134.85" x2="1369.30" y2="822.85" stroke="#979797" stroke-width="1.3"/>
<line x1="1385.40" y1="134.85" x2="1385.40" y2="822.85" stroke="#979797" stroke-width="1.3"/>
<line x1="1401.40" y1="134.85" x2="1401.40" y2="822.85" stroke="#979797" stroke-width="1.3"/>
<line x1="1417.30" y1="134.85" x2="1417.30" y2="822.85" stroke="#979797" stroke-width="1.3"/>
<line x1="1434.70" y1="134.85" x2="1434.70" y2="822.85" stroke="#979797" stroke-width="1.3"/>
<line x1="1173.65" y1="135.50" x2="1435.35" y2="135.50" stroke="#979797" stroke-width="1.3"/>
<line x1="1173.65" y1="158.20" x2="1435.35" y2="158.20" stroke="#979797" stroke-width="1.3"/>
<line x1="1173.65" y1="180.20" x2="1435.35" y2="180.20" stroke="#979797" stroke-width="1.3"/>
<line x1="1173.65" y1="202.00" x2="1435.35" y2="202.00" stroke="#979797" stroke-width="1.3"/>
<line x1="1173.65" y1="224.00" x2="1435.35" y2="224.00" stroke="#979797" stroke-width="1.3"/>
<line x1="1173.65" y1="246.30" x2="1435.35" y2="246.30" stroke="#979797" stroke-width="1.3"/>
<line x1="1173.65" y1="268.10" x2="1435.35" y2="268.10" stroke="#979797" stroke-width="1.3"/>
<line x1="1173.65" y1="290.40" x2="1435.35" y2="290.40" stroke="#979797" stroke-width="1.3"/>
<line x1="1173.65" y1="313.00" x2="1435.35" y2="313.00" stroke="#979797" stroke-width="1.3"/>
<line x1="1173.65" y1="334.80" x2="1435.35" y2="334.80" stroke="#979797" stroke-width="1.3"/>
<line x1="1173.65" y1="357.00" x2="1435.35" y2="357.00" stroke="#979797" stroke-width="1.3"/>
<line x1="1173.65" y1="378.80" x2="1435.35" y2="378.80" stroke="#979797" stroke-width="1.3"/>
<line x1="1173.65" y1="401.30" x2="1435.35" y2="401.30" stroke="#979797" stroke-width="1.3"/>
<line x1="1173.65" y1="423.10" x2="1435.35" y2="423.10" stroke="#979797" stroke-width="1.3"/>
<line x1="1173.65" y1="445.00" x2="1435.35" y2="445.00" stroke="#979797" stroke-width="1.3"/>
<line x1="1173.65" y1="468.00" x2="1435.35" y2="468.00" stroke="#979797" stroke-width="1.3"/>
<line x1="1173.65" y1="489.80" x2="1435.35" y2="489.80" stroke="#979797" stroke-width="1.3"/>
<line x1="1173.65" y1="512.00" x2="1435.35" y2="512.00" stroke="#979797" stroke-width="1.3"/>
<line x1="1173.65" y1="533.80" x2="1435.35" y2="533.80" stroke="#979797" stroke-width="1.3"/>
<line x1="1173.65" y1="555.80" x2="1435.35" y2="555.80" stroke="#979797" stroke-width="1.3"/>
<line x1="1173.65" y1="578.10" x2="1435.35" y2="578.10" stroke="#979797" stroke-width="1.3"/>
<line x1="1173.65" y1="599.90" x2="1435.35" y2="599.90" stroke="#979797" stroke-width="1.3"/>
<line x1="1173.65" y1="622.80" x2="1435.35" y2="622.80" stroke="#979797" stroke-width="1.3"/>
<line x1="1173.65" y1="645.30" x2="1435.35" y2="645.30" stroke="#979797" stroke-width="1.3"/>
<line x1="1173.65" y1="667.10" x2="1435.35" y2="667.10" stroke="#979797" stroke-width="1.3"/>
<line x1="1173.65" y1="689.30" x2="1435.35" y2="689.30" stroke="#979797" stroke-width="1.3"/>
<line x1="1173.65" y1="711.50" x2="1435.35" y2="711.50" stroke="#979797" stroke-width="1.3"/>
<line x1="1173.65" y1="733.30" x2="1435.35" y2="733.30" stroke="#979797" stroke-width="1.3"/>
<line x1="1173.65" y1="755.30" x2="1435.35" y2="755.30" stroke="#979797" stroke-width="1.3"/>
<line x1="1173.65" y1="777.50" x2="1435.35" y2="777.50" stroke="#979797" stroke-width="1.3"/>
<line x1="1173.65" y1="800.40" x2="1435.35" y2="800.40" stroke="#979797" stroke-width="1.3"/>
<line x1="1173.65" y1="822.20" x2="1435.35" y2="822.20" stroke="#979797" stroke-width="1.3"/>
<polygon points="1217.60,190.50 1215.87,191.18 1216.15,193.01 1214.70,191.85 1213.25,193.01 1213.53,191.18 1211.80,190.50 1213.53,189.82 1213.25,187.99 1214.70,189.15 1216.15,187.99 1215.87,189.82" fill="#ececf2"/>
<polygon points="1396.30,190.50 1394.57,191.18 1394.85,193.01 1393.40,191.85 1391.95,193.01 1392.23,191.18 1390.50,190.50 1392.23,189.82 1391.95,187.99 1393.40,189.15 1394.85,187.99 1394.57,189.82" fill="#ececf2"/>
<polygon points="1185.20,212.40 1183.47,213.08 1183.75,214.91 1182.30,213.75 1180.85,214.91 1181.13,213.08 1179.40,212.40 1181.13,211.72 1180.85,209.89 1182.30,211.05 1183.75,209.89 1183.47,211.72" fill="#ececf2"/>
<polygon points="1217.60,212.40 1215.87,213.08 1216.15,214.91 1214.70,213.75 1213.25,214.91 1213.53,213.08 1211.80,212.40 1213.53,211.72 1213.25,209.89 1214.70,211.05 1216.15,209.89 1215.87,211.72" fill="#ececf2"/>
<polygon points="1396.30,210.40 1394.57,211.08 1394.85,212.91 1393.40,211.75 1391.95,212.91 1392.23,211.08 1390.50,210.40 1392.23,209.72 1391.95,207.89 1393.40,209.05 1394.85,207.89 1394.57,209.72" fill="#ececf2"/>
<polygon points="1396.30,214.40 1394.57,215.08 1394.85,216.91 1393.40,215.75 1391.95,216.91 1392.23,215.08 1390.50,214.40 1392.23,213.72 1391.95,211.89 1393.40,213.05 1394.85,211.89 1394.57,213.72" fill="#ececf2"/>
<polygon points="1217.60,234.55 1215.87,235.23 1216.15,237.06 1214.70,235.90 1213.25,237.06 1213.53,235.23 1211.80,234.55 1213.53,233.88 1213.25,232.04 1214.70,233.20 1216.15,232.04 1215.87,233.88" fill="#ececf2"/>
<polygon points="1396.30,234.55 1394.57,235.23 1394.85,237.06 1393.40,235.90 1391.95,237.06 1392.23,235.23 1390.50,234.55 1392.23,233.88 1391.95,232.04 1393.40,233.20 1394.85,232.04 1394.57,233.88" fill="#ececf2"/>
<polygon points="1298.75,256.60 1297.02,257.28 1297.30,259.11 1295.85,257.95 1294.40,259.11 1294.68,257.28 1292.95,256.60 1294.68,255.93 1294.40,254.09 1295.85,255.25 1297.30,254.09 1297.02,255.93" fill="#ececf2"/>
<polygon points="1298.75,278.65 1297.02,279.32 1297.30,281.16 1295.85,280.00 1294.40,281.16 1294.68,279.32 1292.95,278.65 1294.68,277.97 1294.40,276.14 1295.85,277.30 1297.30,276.14 1297.02,277.97" fill="#ececf2"/>
<polygon points="1298.75,301.10 1297.02,301.77 1297.30,303.61 1295.85,302.45 1294.40,303.61 1294.68,301.77 1292.95,301.10 1294.68,300.42 1294.40,298.59 1295.85,299.75 1297.30,298.59 1297.02,300.42" fill="#ececf2"/>
<polygon points="1185.20,323.30 1183.47,323.97 1183.75,325.81 1182.30,324.65 1180.85,325.81 1181.13,323.97 1179.40,323.30 1181.13,322.62 1180.85,320.79 1182.30,321.95 1183.75,320.79 1183.47,322.62" fill="#ececf2"/>
<polygon points="1217.60,321.30 1215.87,321.97 1216.15,323.81 1214.70,322.65 1213.25,323.81 1213.53,321.97 1211.80,321.30 1213.53,320.62 1213.25,318.79 1214.70,319.95 1216.15,318.79 1215.87,320.62" fill="#ececf2"/>
<polygon points="1217.60,325.30 1215.87,325.97 1216.15,327.81 1214.70,326.65 1213.25,327.81 1213.53,325.97 1211.80,325.30 1213.53,324.62 1213.25,322.79 1214.70,323.95 1216.15,322.79 1215.87,324.62" fill="#ececf2"/>
<polygon points="1298.75,321.30 1297.02,321.97 1297.30,323.81 1295.85,322.65 1294.40,323.81 1294.68,321.97 1292.95,321.30 1294.68,320.62 1294.40,318.79 1295.85,319.95 1297.30,318.79 1297.02,320.62" fill="#ececf2"/>
<polygon points="1298.75,325.30 1297.02,325.97 1297.30,327.81 1295.85,326.65 1294.40,327.81 1294.68,325.97 1292.95,325.30 1294.68,324.62 1294.40,322.79 1295.85,323.95 1297.30,322.79 1297.02,324.62" fill="#ececf2"/>
<polygon points="1347.25,323.30 1345.52,323.97 1345.80,325.81 1344.35,324.65 1342.90,325.81 1343.18,323.97 1341.45,323.30 1343.18,322.62 1342.90,320.79 1344.35,321.95 1345.80,320.79 1345.52,322.62" fill="#ececf2"/>
<polygon points="1396.30,321.30 1394.57,321.97 1394.85,323.81 1393.40,322.65 1391.95,323.81 1392.23,321.97 1390.50,321.30 1392.23,320.62 1391.95,318.79 1393.40,319.95 1394.85,318.79 1394.57,320.62" fill="#ececf2"/>
<polygon points="1396.30,325.30 1394.57,325.97 1394.85,327.81 1393.40,326.65 1391.95,327.81 1392.23,325.97 1390.50,325.30 1392.23,324.62 1391.95,322.79 1393.40,323.95 1394.85,322.79 1394.57,324.62" fill="#ececf2"/>
<polygon points="1217.60,389.45 1215.87,390.12 1216.15,391.96 1214.70,390.80 1213.25,391.96 1213.53,390.12 1211.80,389.45 1213.53,388.77 1213.25,386.94 1214.70,388.10 1216.15,386.94 1215.87,388.77" fill="#ececf2"/>
<polygon points="1201.25,476.30 1199.52,476.97 1199.80,478.81 1198.35,477.65 1196.90,478.81 1197.18,476.97 1195.45,476.30 1197.18,475.62 1196.90,473.79 1198.35,474.95 1199.80,473.79 1199.52,475.62" fill="#ececf2"/>
<polygon points="1201.25,480.30 1199.52,480.97 1199.80,482.81 1198.35,481.65 1196.90,482.81 1197.18,480.97 1195.45,480.30 1197.18,479.62 1196.90,477.79 1198.35,478.95 1199.80,477.79 1199.52,479.62" fill="#ececf2"/>
<polygon points="1282.25,476.30 1280.52,476.97 1280.80,478.81 1279.35,477.65 1277.90,478.81 1278.18,476.97 1276.45,476.30 1278.18,475.62 1277.90,473.79 1279.35,474.95 1280.80,473.79 1280.52,475.62" fill="#ececf2"/>
<polygon points="1282.25,480.30 1280.52,480.97 1280.80,482.81 1279.35,481.65 1277.90,482.81 1278.18,480.97 1276.45,480.30 1278.18,479.62 1277.90,477.79 1279.35,478.95 1280.80,477.79 1280.52,479.62" fill="#ececf2"/>
<polygon points="1201.25,522.30 1199.52,522.97 1199.80,524.81 1198.35,523.65 1196.90,524.81 1197.18,522.97 1195.45,522.30 1197.18,521.62 1196.90,519.79 1198.35,520.95 1199.80,519.79 1199.52,521.62" fill="#ececf2"/>
<polygon points="1282.25,522.30 1280.52,522.97 1280.80,524.81 1279.35,523.65 1277.90,524.81 1278.18,522.97 1276.45,522.30 1278.18,521.62 1277.90,519.79 1279.35,520.95 1280.80,519.79 1280.52,521.62" fill="#ececf2"/>
<polygon points="1380.25,518.30 1378.52,518.97 1378.80,520.81 1377.35,519.65 1375.90,520.81 1376.18,518.97 1374.45,518.30 1376.18,517.62 1375.90,515.79 1377.35,516.95 1378.80,515.79 1378.52,517.62" fill="#ececf2"/>
<polygon points="1380.25,522.30 1378.52,522.97 1378.80,524.81 1377.35,523.65 1375.90,524.81 1376.18,522.97 1374.45,522.30 1376.18,521.62 1375.90,519.79 1377.35,520.95 1378.80,519.79 1378.52,521.62" fill="#ececf2"/>
<polygon points="1380.25,526.30 1378.52,526.97 1378.80,528.81 1377.35,527.65 1375.90,528.81 1376.18,526.97 1374.45,526.30 1376.18,525.62 1375.90,523.79 1377.35,524.95 1378.80,523.79 1378.52,525.62" fill="#ececf2"/>
<polygon points="1298.75,542.20 1297.02,542.87 1297.30,544.71 1295.85,543.55 1294.40,544.71 1294.68,542.87 1292.95,542.20 1294.68,541.52 1294.40,539.69 1295.85,540.85 1297.30,539.69 1297.02,541.52" fill="#ececf2"/>
<polygon points="1298.75,546.20 1297.02,546.87 1297.30,548.71 1295.85,547.55 1294.40,548.71 1294.68,546.87 1292.95,546.20 1294.68,545.52 1294.40,543.69 1295.85,544.85 1297.30,543.69 1297.02,545.52" fill="#ececf2"/>
<polygon points="1185.20,562.35 1183.47,563.02 1183.75,564.86 1182.30,563.70 1180.85,564.86 1181.13,563.02 1179.40,562.35 1181.13,561.68 1180.85,559.84 1182.30,561.00 1183.75,559.84 1183.47,561.68" fill="#ececf2"/>
<polygon points="1185.20,566.35 1183.47,567.02 1183.75,568.86 1182.30,567.70 1180.85,568.86 1181.13,567.02 1179.40,566.35 1181.13,565.68 1180.85,563.84 1182.30,565.00 1183.75,563.84 1183.47,565.68" fill="#ececf2"/>
<polygon points="1185.20,570.35 1183.47,571.02 1183.75,572.86 1182.30,571.70 1180.85,572.86 1181.13,571.02 1179.40,570.35 1181.13,569.68 1180.85,567.84 1182.30,569.00 1183.75,567.84 1183.47,569.68" fill="#ececf2"/>
<polygon points="1201.25,562.35 1199.52,563.02 1199.80,564.86 1198.35,563.70 1196.90,564.86 1197.18,563.02 1195.45,562.35 1197.18,561.68 1196.90,559.84 1198.35,561.00 1199.80,559.84 1199.52,561.68" fill="#ececf2"/>
<polygon points="1201.25,566.35 1199.52,567.02 1199.80,568.86 1198.35,567.70 1196.90,568.86 1197.18,567.02 1195.45,566.35 1197.18,565.68 1196.90,563.84 1198.35,565.00 1199.80,563.84 1199.52,565.68" fill="#ececf2"/>
<polygon points="1201.25,570.35 1199.52,571.02 1199.80,572.86 1198.35,571.70 1196.90,572.86 1197.18,571.02 1195.45,570.35 1197.18,569.68 1196.90,567.84 1198.35,569.00 1199.80,567.84 1199.52,569.68" fill="#ececf2"/>
<polygon points="1217.60,562.35 1215.87,563.02 1216.15,564.86 1214.70,563.70 1213.25,564.86 1213.53,563.02 1211.80,562.35 1213.53,561.68 1213.25,559.84 1214.70,561.00 1216.15,559.84 1215.87,561.68" fill="#ececf2"/>
<polygon points="1217.60,566.35 1215.87,567.02 1216.15,568.86 1214.70,567.70 1213.25,568.86 1213.53,567.02 1211.80,566.35 1213.53,565.68 1213.25,563.84 1214.70,565.00 1216.15,563.84 1215.87,565.68" fill="#ececf2"/>
<polygon points="1217.60,570.35 1215.87,571.02 1216.15,572.86 1214.70,571.70 1213.25,572.86 1213.53,571.02 1211.80,570.35 1213.53,569.68 1213.25,567.84 1214.70,569.00 1216.15,567.84 1215.87,569.68" fill="#ececf2"/>
<polygon points="1282.25,566.35 1280.52,567.02 1280.80,568.86 1279.35,567.70 1277.90,568.86 1278.18,567.02 1276.45,566.35 1278.18,565.68 1277.90,563.84 1279.35,565.00 1280.80,563.84 1280.52,565.68" fill="#ececf2"/>
<polygon points="1298.75,564.35 1297.02,565.02 1297.30,566.86 1295.85,565.70 1294.40,566.86 1294.68,565.02 1292.95,564.35 1294.68,563.68 1294.40,561.84 1295.85,563.00 1297.30,561.84 1297.02,563.68" fill="#ececf2"/>
<polygon points="1298.75,568.35 1297.02,569.02 1297.30,570.86 1295.85,569.70 1294.40,570.86 1294.68,569.02 1292.95,568.35 1294.68,567.68 1294.40,565.84 1295.85,567.00 1297.30,565.84 1297.02,567.68" fill="#ececf2"/>
<polygon points="1315.25,564.35 1313.52,565.02 1313.80,566.86 1312.35,565.70 1310.90,566.86 1311.18,565.02 1309.45,564.35 1311.18,563.68 1310.90,561.84 1312.35,563.00 1313.80,561.84 1313.52,563.68" fill="#ececf2"/>
<polygon points="1315.25,568.35 1313.52,569.02 1313.80,570.86 1312.35,569.70 1310.90,570.86 1311.18,569.02 1309.45,568.35 1311.18,567.68 1310.90,565.84 1312.35,567.00 1313.80,565.84 1313.52,567.68" fill="#ececf2"/>
<polygon points="1396.30,566.35 1394.57,567.02 1394.85,568.86 1393.40,567.70 1391.95,568.86 1392.23,567.02 1390.50,566.35 1392.23,565.68 1391.95,563.84 1393.40,565.00 1394.85,563.84 1394.57,565.68" fill="#ececf2"/>
<polygon points="1412.25,566.35 1410.52,567.02 1410.80,568.86 1409.35,567.70 1407.90,568.86 1408.18,567.02 1406.45,566.35 1408.18,565.68 1407.90,563.84 1409.35,565.00 1410.80,563.84 1410.52,565.68" fill="#ececf2"/>
<polygon points="1412.25,588.40 1410.52,589.07 1410.80,590.91 1409.35,589.75 1407.90,590.91 1408.18,589.07 1406.45,588.40 1408.18,587.73 1407.90,585.89 1409.35,587.05 1410.80,585.89 1410.52,587.73" fill="#ececf2"/>
<polygon points="1201.25,608.75 1199.52,609.42 1199.80,611.26 1198.35,610.10 1196.90,611.26 1197.18,609.42 1195.45,608.75 1197.18,608.07 1196.90,606.24 1198.35,607.40 1199.80,606.24 1199.52,608.07" fill="#ececf2"/>
<polygon points="1201.25,612.75 1199.52,613.42 1199.80,615.26 1198.35,614.10 1196.90,615.26 1197.18,613.42 1195.45,612.75 1197.18,612.07 1196.90,610.24 1198.35,611.40 1199.80,610.24 1199.52,612.07" fill="#ececf2"/>
<polygon points="1185.20,655.60 1183.47,656.27 1183.75,658.11 1182.30,656.95 1180.85,658.11 1181.13,656.27 1179.40,655.60 1181.13,654.93 1180.85,653.09 1182.30,654.25 1183.75,653.09 1183.47,654.93" fill="#ececf2"/>
<polygon points="1201.25,653.60 1199.52,654.27 1199.80,656.11 1198.35,654.95 1196.90,656.11 1197.18,654.27 1195.45,653.60 1197.18,652.93 1196.90,651.09 1198.35,652.25 1199.80,651.09 1199.52,652.93" fill="#ececf2"/>
<polygon points="1201.25,657.60 1199.52,658.27 1199.80,660.11 1198.35,658.95 1196.90,660.11 1197.18,658.27 1195.45,657.60 1197.18,656.93 1196.90,655.09 1198.35,656.25 1199.80,655.09 1199.52,656.93" fill="#ececf2"/>
<polygon points="1282.25,655.60 1280.52,656.27 1280.80,658.11 1279.35,656.95 1277.90,658.11 1278.18,656.27 1276.45,655.60 1278.18,654.93 1277.90,653.09 1279.35,654.25 1280.80,653.09 1280.52,654.93" fill="#ececf2"/>
<polygon points="1298.75,655.60 1297.02,656.27 1297.30,658.11 1295.85,656.95 1294.40,658.11 1294.68,656.27 1292.95,655.60 1294.68,654.93 1294.40,653.09 1295.85,654.25 1297.30,653.09 1297.02,654.93" fill="#ececf2"/>
<polygon points="1315.25,655.60 1313.52,656.27 1313.80,658.11 1312.35,656.95 1310.90,658.11 1311.18,656.27 1309.45,655.60 1311.18,654.93 1310.90,653.09 1312.35,654.25 1313.80,653.09 1313.52,654.93" fill="#ececf2"/>
<polygon points="1380.25,655.60 1378.52,656.27 1378.80,658.11 1377.35,656.95 1375.90,658.11 1376.18,656.27 1374.45,655.60 1376.18,654.93 1375.90,653.09 1377.35,654.25 1378.80,653.09 1378.52,654.93" fill="#ececf2"/>
<polygon points="1266.30,699.80 1264.57,700.47 1264.85,702.31 1263.40,701.15 1261.95,702.31 1262.23,700.47 1260.50,699.80 1262.23,699.12 1261.95,697.29 1263.40,698.45 1264.85,697.29 1264.57,699.12" fill="#ececf2"/>
<polygon points="1331.25,743.70 1329.52,744.37 1329.80,746.21 1328.35,745.05 1326.90,746.21 1327.18,744.37 1325.45,743.70 1327.18,743.02 1326.90,741.19 1328.35,742.35 1329.80,741.19 1329.52,743.02" fill="#ececf2"/>
<polygon points="1217.60,788.35 1215.87,789.02 1216.15,790.86 1214.70,789.70 1213.25,790.86 1213.53,789.02 1211.80,788.35 1213.53,787.68 1213.25,785.84 1214.70,787.00 1216.15,785.84 1215.87,787.68" fill="#ececf2"/>
<text x="1185.90" y="131.70" font-size="10.6" font-style="italic" transform="rotate(-90 1185.90 131.70)" fill="#231815" stroke="#231815" stroke-width="0.212">Limosilactobacillus</text>
<text x="1201.95" y="131.70" font-size="10.6" font-style="italic" transform="rotate(-90 1201.95 131.70)" fill="#231815" stroke="#231815" stroke-width="0.212">Pediococcus</text>
<text x="1218.30" y="131.70" font-size="10.6" font-style="italic" transform="rotate(-90 1218.30 131.70)" fill="#231815" stroke="#231815" stroke-width="0.212">Lactobacillus</text>
<text x="1234.75" y="131.70" font-size="10.6" font-style="italic" transform="rotate(-90 1234.75 131.70)" fill="#231815" stroke="#231815" stroke-width="0.212">Lactiplantibacillus</text>
<text x="1250.95" y="131.70" font-size="10.6" font-style="italic" transform="rotate(-90 1250.95 131.70)" fill="#231815" stroke="#231815" stroke-width="0.212">Leuconostoc</text>
<text x="1267.00" y="131.70" font-size="10.6" font-style="italic" transform="rotate(-90 1267.00 131.70)" fill="#231815" stroke="#231815" stroke-width="0.212">Lactococcus</text>
<text x="1282.95" y="131.70" font-size="10.6" font-style="italic" transform="rotate(-90 1282.95 131.70)" fill="#231815" stroke="#231815" stroke-width="0.212">Pseudomonas</text>
<text x="1299.45" y="131.70" font-size="10.6" font-style="italic" transform="rotate(-90 1299.45 131.70)" fill="#231815" stroke="#231815" stroke-width="0.212">Exiguobacterium</text>
<text x="1315.95" y="131.70" font-size="10.6" font-style="italic" transform="rotate(-90 1315.95 131.70)" fill="#231815" stroke="#231815" stroke-width="0.212">Lacticaseibacillus</text>
<text x="1331.95" y="131.70" font-size="10.6" font-style="italic" transform="rotate(-90 1331.95 131.70)" fill="#231815" stroke="#231815" stroke-width="0.212">Weissella</text>
<text x="1347.95" y="131.70" font-size="10.6" font-style="italic" transform="rotate(-90 1347.95 131.70)" fill="#231815" stroke="#231815" stroke-width="0.212">Acinetobacter</text>
<text x="1364.40" y="131.70" font-size="10.6" font-style="italic" transform="rotate(-90 1364.40 131.70)" fill="#231815" stroke="#231815" stroke-width="0.212">Gluconobacter</text>
<text x="1380.95" y="131.70" font-size="10.6" font-style="italic" transform="rotate(-90 1380.95 131.70)" fill="#231815" stroke="#231815" stroke-width="0.212">Streptococcus</text>
<text x="1397.00" y="131.70" font-size="10.6" font-style="italic" transform="rotate(-90 1397.00 131.70)" fill="#231815" stroke="#231815" stroke-width="0.212">Pantoea</text>
<text x="1412.95" y="131.70" font-size="10.6" font-style="italic" transform="rotate(-90 1412.95 131.70)" fill="#231815" stroke="#231815" stroke-width="0.212">Bacillus</text>
<text x="1429.60" y="131.70" font-size="10.6" font-style="italic" transform="rotate(-90 1429.60 131.70)" fill="#231815" stroke="#231815" stroke-width="0.212">Enterobacter</text>
<text x="1447.00" y="146.85" font-size="10.6" text-anchor="middle" transform="rotate(-90 1447.00 146.85)" fill="#231815" stroke="#231815" stroke-width="0.212">Tyr</text>
<text x="1447.00" y="169.20" font-size="10.6" text-anchor="middle" transform="rotate(-90 1447.00 169.20)" fill="#231815" stroke="#231815" stroke-width="0.212">Lys*</text>
<text x="1447.00" y="191.10" font-size="10.6" text-anchor="middle" transform="rotate(-90 1447.00 191.10)" fill="#231815" stroke="#231815" stroke-width="0.212">Phe*</text>
<text x="1447.00" y="213.00" font-size="10.6" text-anchor="middle" transform="rotate(-90 1447.00 213.00)" fill="#231815" stroke="#231815" stroke-width="0.212">Leu*</text>
<text x="1447.00" y="235.15" font-size="10.6" text-anchor="middle" transform="rotate(-90 1447.00 235.15)" fill="#231815" stroke="#231815" stroke-width="0.212">Ile*</text>
<text x="1447.00" y="257.20" font-size="10.6" text-anchor="middle" transform="rotate(-90 1447.00 257.20)" fill="#231815" stroke="#231815" stroke-width="0.212">Val*</text>
<text x="1447.00" y="279.25" font-size="10.6" text-anchor="middle" transform="rotate(-90 1447.00 279.25)" fill="#231815" stroke="#231815" stroke-width="0.212">Met*</text>
<text x="1447.00" y="301.70" font-size="10.6" text-anchor="middle" transform="rotate(-90 1447.00 301.70)" fill="#231815" stroke="#231815" stroke-width="0.212">Cys</text>
<text x="1447.00" y="323.90" font-size="10.6" text-anchor="middle" transform="rotate(-90 1447.00 323.90)" fill="#231815" stroke="#231815" stroke-width="0.212">Ala</text>
<text x="1447.00" y="345.90" font-size="10.6" text-anchor="middle" transform="rotate(-90 1447.00 345.90)" fill="#231815" stroke="#231815" stroke-width="0.212">Gly</text>
<text x="1447.00" y="367.90" font-size="10.6" text-anchor="middle" transform="rotate(-90 1447.00 367.90)" fill="#231815" stroke="#231815" stroke-width="0.212">Pro</text>
<text x="1447.00" y="390.05" font-size="10.6" text-anchor="middle" transform="rotate(-90 1447.00 390.05)" fill="#231815" stroke="#231815" stroke-width="0.212">Ser</text>
<text x="1447.00" y="412.20" font-size="10.6" text-anchor="middle" transform="rotate(-90 1447.00 412.20)" fill="#231815" stroke="#231815" stroke-width="0.212">Thr*</text>
<text x="1447.00" y="434.05" font-size="10.6" text-anchor="middle" transform="rotate(-90 1447.00 434.05)" fill="#231815" stroke="#231815" stroke-width="0.212">Glu</text>
<text x="1447.00" y="456.50" font-size="10.6" text-anchor="middle" transform="rotate(-90 1447.00 456.50)" fill="#231815" stroke="#231815" stroke-width="0.212">Asp</text>
<text x="1442.50" y="475.90" font-size="10.6" text-anchor="end" transform="rotate(-120 1442.50 475.90)" fill="#231815" stroke="#231815" stroke-width="0.212">pH value</text>
<text x="1442.50" y="497.90" font-size="10.6" text-anchor="end" transform="rotate(-120 1442.50 497.90)" fill="#231815" stroke="#231815" stroke-width="0.212">Succinate acid</text>
<text x="1442.50" y="519.90" font-size="10.6" text-anchor="end" transform="rotate(-120 1442.50 519.90)" fill="#231815" stroke="#231815" stroke-width="0.212">Citric acid</text>
<text x="1442.50" y="541.80" font-size="10.6" text-anchor="end" transform="rotate(-120 1442.50 541.80)" fill="#231815" stroke="#231815" stroke-width="0.212">Acetic acid</text>
<text x="1442.50" y="563.95" font-size="10.6" text-anchor="end" transform="rotate(-120 1442.50 563.95)" fill="#231815" stroke="#231815" stroke-width="0.212">Lactic acid</text>
<text x="1442.50" y="586.00" font-size="10.6" text-anchor="end" transform="rotate(-120 1442.50 586.00)" fill="#231815" stroke="#231815" stroke-width="0.212">Malic acid</text>
<text x="1442.50" y="608.35" font-size="10.6" text-anchor="end" transform="rotate(-120 1442.50 608.35)" fill="#231815" stroke="#231815" stroke-width="0.212">Tartaric acid</text>
<text x="1442.50" y="631.05" font-size="10.6" text-anchor="end" transform="rotate(-120 1442.50 631.05)" fill="#231815" stroke="#231815" stroke-width="0.212">Oxalic acid</text>
<text x="1442.50" y="653.20" font-size="10.6" text-anchor="end" transform="rotate(-120 1442.50 653.20)" fill="#231815" stroke="#231815" stroke-width="0.212">Richness</text>
<text x="1442.50" y="675.20" font-size="10.6" text-anchor="end" transform="rotate(-120 1442.50 675.20)" fill="#231815" stroke="#231815" stroke-width="0.212">Aftertaste-B</text>
<text x="1442.50" y="697.40" font-size="10.6" text-anchor="end" transform="rotate(-120 1442.50 697.40)" fill="#231815" stroke="#231815" stroke-width="0.212">Aftertaste-A</text>
<text x="1442.50" y="719.40" font-size="10.6" text-anchor="end" transform="rotate(-120 1442.50 719.40)" fill="#231815" stroke="#231815" stroke-width="0.212">Umami</text>
<text x="1442.50" y="741.30" font-size="10.6" text-anchor="end" transform="rotate(-120 1442.50 741.30)" fill="#231815" stroke="#231815" stroke-width="0.212">Saltiness</text>
<text x="1442.50" y="763.40" font-size="10.6" text-anchor="end" transform="rotate(-120 1442.50 763.40)" fill="#231815" stroke="#231815" stroke-width="0.212">Astringency</text>
<text x="1442.50" y="785.95" font-size="10.6" text-anchor="end" transform="rotate(-120 1442.50 785.95)" fill="#231815" stroke="#231815" stroke-width="0.212">Bitterness</text>
<text x="1442.50" y="808.30" font-size="10.6" text-anchor="end" transform="rotate(-120 1442.50 808.30)" fill="#231815" stroke="#231815" stroke-width="0.212">Sourness</text>
</svg></body></html>
